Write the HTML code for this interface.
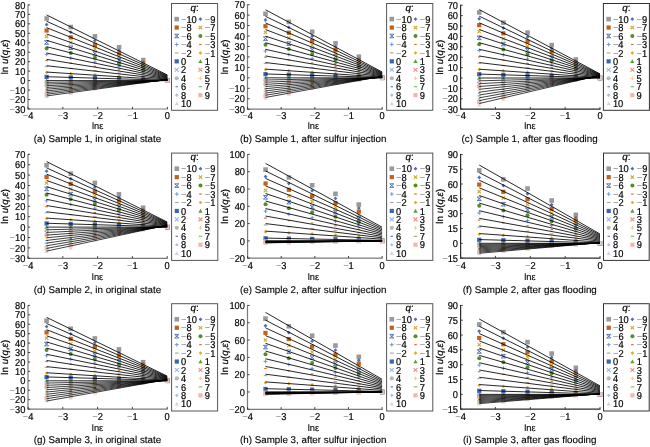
<!DOCTYPE html>
<html><head><meta charset="utf-8"><style>
html,body{margin:0;padding:0;background:#fff;}
svg{display:block;will-change:transform;}
</style></head><body>
<svg width="650" height="447" viewBox="0 0 650 447" font-family='"Liberation Sans", Arial, sans-serif' text-rendering="geometricPrecision">
<rect width="650" height="447" fill="#fff"/>
<g><rect x="44.32" y="16.23" width="4.60" height="4.60" fill="#999999"/><rect x="68.48" y="24.73" width="4.60" height="4.60" fill="#999999"/><rect x="92.63" y="34.05" width="4.60" height="4.60" fill="#999999"/><rect x="116.79" y="44.97" width="4.60" height="4.60" fill="#999999"/><rect x="140.94" y="57.76" width="4.60" height="4.60" fill="#999999"/><rect x="165.10" y="78.31" width="4.60" height="4.60" fill="#999999"/><path d="M46.62 22.63L48.52 24.53L46.62 26.43L44.72 24.53Z" fill="#4a70b8"/><path d="M70.78 30.31L72.68 32.21L70.78 34.11L68.88 32.21Z" fill="#4a70b8"/><path d="M94.93 38.72L96.83 40.62L94.93 42.52L93.03 40.62Z" fill="#4a70b8"/><path d="M119.09 48.59L120.99 50.49L119.09 52.39L117.19 50.49Z" fill="#4a70b8"/><path d="M143.24 60.15L145.14 62.05L143.24 63.95L141.34 62.05Z" fill="#4a70b8"/><path d="M167.40 78.71L169.30 80.61L167.40 82.51L165.50 80.61Z" fill="#4a70b8"/><rect x="44.52" y="28.43" width="4.20" height="4.20" fill="#c0621c"/><rect x="68.68" y="35.29" width="4.20" height="4.20" fill="#c0621c"/><rect x="92.83" y="42.80" width="4.20" height="4.20" fill="#c0621c"/><rect x="116.99" y="51.62" width="4.20" height="4.20" fill="#c0621c"/><rect x="141.14" y="61.93" width="4.20" height="4.20" fill="#c0621c"/><rect x="165.30" y="78.51" width="4.20" height="4.20" fill="#c0621c"/><path d="M44.92 34.83L48.32 38.23M48.32 34.83L44.92 38.23" stroke="#d4a52a" stroke-width="1.1" fill="none"/><path d="M69.08 40.87L72.48 44.27M72.48 40.87L69.08 44.27" stroke="#d4a52a" stroke-width="1.1" fill="none"/><path d="M93.23 47.48L96.63 50.88M96.63 47.48L93.23 50.88" stroke="#d4a52a" stroke-width="1.1" fill="none"/><path d="M117.39 55.24L120.79 58.64M120.79 55.24L117.39 58.64" stroke="#d4a52a" stroke-width="1.1" fill="none"/><path d="M141.54 64.32L144.94 67.72M144.94 64.32L141.54 67.72" stroke="#d4a52a" stroke-width="1.1" fill="none"/><path d="M165.70 78.91L169.10 82.31M169.10 78.91L165.70 82.31" stroke="#d4a52a" stroke-width="1.1" fill="none"/><path d="M44.52 40.74L48.72 44.31M48.72 40.74L44.52 44.31M44.52 40.74H48.72M44.52 44.31H48.72" stroke="#3a5aa8" stroke-width="0.8" fill="none"/><path d="M68.68 45.96L72.88 49.53M72.88 45.96L68.68 49.53M68.68 45.96H72.88M68.68 49.53H72.88" stroke="#3a5aa8" stroke-width="0.8" fill="none"/><path d="M92.83 51.67L97.03 55.24M97.03 51.67L92.83 55.24M92.83 51.67H97.03M92.83 55.24H97.03" stroke="#3a5aa8" stroke-width="0.8" fill="none"/><path d="M116.99 58.37L121.19 61.94M121.19 58.37L116.99 61.94M116.99 58.37H121.19M116.99 61.94H121.19" stroke="#3a5aa8" stroke-width="0.8" fill="none"/><path d="M141.14 66.22L145.34 69.79M145.34 66.22L141.14 69.79M141.14 66.22H145.34M141.14 69.79H145.34" stroke="#3a5aa8" stroke-width="0.8" fill="none"/><path d="M165.30 78.82L169.50 82.39M169.50 78.82L165.30 82.39M165.30 78.82H169.50M165.30 82.39H169.50" stroke="#3a5aa8" stroke-width="0.8" fill="none"/><circle cx="46.62" cy="48.53" r="2.00" fill="#5b8a2a"/><circle cx="70.78" cy="52.92" r="2.00" fill="#5b8a2a"/><circle cx="94.93" cy="57.73" r="2.00" fill="#5b8a2a"/><circle cx="119.09" cy="63.38" r="2.00" fill="#5b8a2a"/><circle cx="143.24" cy="69.99" r="2.00" fill="#5b8a2a"/><circle cx="167.40" cy="80.61" r="2.00" fill="#5b8a2a"/><path d="M44.72 54.53H48.52M46.62 52.63V56.43" stroke="#6f95d6" stroke-width="1" fill="none"/><path d="M68.88 58.10H72.68M70.78 56.20V60.00" stroke="#6f95d6" stroke-width="1" fill="none"/><path d="M93.03 62.01H96.83M94.93 60.11V63.91" stroke="#6f95d6" stroke-width="1" fill="none"/><path d="M117.19 66.60H120.99M119.09 64.70V68.50" stroke="#6f95d6" stroke-width="1" fill="none"/><path d="M141.34 71.98H145.14M143.24 70.08V73.88" stroke="#6f95d6" stroke-width="1" fill="none"/><path d="M165.50 80.61H169.30M167.40 78.71V82.51" stroke="#6f95d6" stroke-width="1" fill="none"/><path d="M45.32 60.53H47.92" stroke="#e0702a" stroke-width="1.2" fill="none"/><path d="M69.48 63.28H72.08" stroke="#e0702a" stroke-width="1.2" fill="none"/><path d="M93.63 66.29H96.23" stroke="#e0702a" stroke-width="1.2" fill="none"/><path d="M117.79 69.83H120.39" stroke="#e0702a" stroke-width="1.2" fill="none"/><path d="M141.94 73.96H144.54" stroke="#e0702a" stroke-width="1.2" fill="none"/><path d="M166.10 80.61H168.70" stroke="#e0702a" stroke-width="1.2" fill="none"/><path d="M44.82 66.53H48.42" stroke="#a8a8a8" stroke-width="1.2" fill="none"/><path d="M68.98 68.46H72.58" stroke="#a8a8a8" stroke-width="1.2" fill="none"/><path d="M93.13 70.57H96.73" stroke="#a8a8a8" stroke-width="1.2" fill="none"/><path d="M117.29 73.05H120.89" stroke="#a8a8a8" stroke-width="1.2" fill="none"/><path d="M141.44 75.95H145.04" stroke="#a8a8a8" stroke-width="1.2" fill="none"/><path d="M165.60 80.61H169.20" stroke="#a8a8a8" stroke-width="1.2" fill="none"/><path d="M46.62 70.73L48.42 72.53L46.62 74.33L44.82 72.53Z" fill="#eaa820"/><path d="M70.78 71.83L72.58 73.63L70.78 75.43L68.98 73.63Z" fill="#eaa820"/><path d="M94.93 73.05L96.73 74.85L94.93 76.65L93.13 74.85Z" fill="#eaa820"/><path d="M119.09 74.47L120.89 76.27L119.09 78.07L117.29 76.27Z" fill="#eaa820"/><path d="M143.24 76.13L145.04 77.93L143.24 79.73L141.44 77.93Z" fill="#eaa820"/><path d="M167.40 78.81L169.20 80.61L167.40 82.41L165.60 80.61Z" fill="#eaa820"/><rect x="44.52" y="74.82" width="4.20" height="4.20" fill="#3d64b0"/><rect x="68.68" y="75.32" width="4.20" height="4.20" fill="#3d64b0"/><rect x="92.83" y="75.88" width="4.20" height="4.20" fill="#3d64b0"/><rect x="116.99" y="76.53" width="4.20" height="4.20" fill="#3d64b0"/><rect x="141.14" y="77.29" width="4.20" height="4.20" fill="#3d64b0"/><rect x="165.30" y="78.51" width="4.20" height="4.20" fill="#3d64b0"/><path d="M46.62 78.51L48.72 82.29L44.52 82.29Z" fill="#5c9a3a"/><path d="M70.78 78.51L72.88 82.29L68.68 82.29Z" fill="#5c9a3a"/><path d="M94.93 78.51L97.03 82.29L92.83 82.29Z" fill="#5c9a3a"/><path d="M119.09 78.51L121.19 82.29L116.99 82.29Z" fill="#5c9a3a"/><path d="M143.24 78.51L145.34 82.29L141.14 82.29Z" fill="#5c9a3a"/><path d="M167.40 78.51L169.50 82.29L165.30 82.29Z" fill="#5c9a3a"/><path d="M44.72 80.44L48.52 84.24M48.52 80.44L44.72 84.24" stroke="#9ab8e0" stroke-width="1.1" fill="none"/><path d="M68.88 80.13L72.68 83.93M72.68 80.13L68.88 83.93" stroke="#9ab8e0" stroke-width="1.1" fill="none"/><path d="M93.03 79.63L96.83 83.43M96.83 79.63L93.03 83.43" stroke="#9ab8e0" stroke-width="1.1" fill="none"/><path d="M117.19 79.18L120.99 82.98M120.99 79.18L117.19 82.98" stroke="#9ab8e0" stroke-width="1.1" fill="none"/><path d="M141.34 78.88L145.14 82.68M145.14 78.88L141.34 82.68" stroke="#9ab8e0" stroke-width="1.1" fill="none"/><path d="M165.50 78.71L169.30 82.51M169.30 78.71L165.50 82.51" stroke="#9ab8e0" stroke-width="1.1" fill="none"/><path d="M44.72 82.18L48.52 85.98M48.52 82.18L44.72 85.98" stroke="#e8907a" stroke-width="1.1" fill="none"/><path d="M68.88 81.55L72.68 85.35M72.68 81.55L68.88 85.35" stroke="#e8907a" stroke-width="1.1" fill="none"/><path d="M93.03 80.55L96.83 84.35M96.83 80.55L93.03 84.35" stroke="#e8907a" stroke-width="1.1" fill="none"/><path d="M117.19 79.65L120.99 83.45M120.99 79.65L117.19 83.45" stroke="#e8907a" stroke-width="1.1" fill="none"/><path d="M141.34 79.06L145.14 82.86M145.14 79.06L141.34 82.86" stroke="#e8907a" stroke-width="1.1" fill="none"/><path d="M165.50 78.71L169.30 82.51M169.30 78.71L165.50 82.51" stroke="#e8907a" stroke-width="1.1" fill="none"/><circle cx="46.62" cy="85.81" r="2.10" fill="#b8b8b8"/><circle cx="70.78" cy="84.88" r="2.10" fill="#b8b8b8"/><circle cx="94.93" cy="83.37" r="2.10" fill="#b8b8b8"/><circle cx="119.09" cy="82.01" r="2.10" fill="#b8b8b8"/><circle cx="143.24" cy="81.13" r="2.10" fill="#b8b8b8"/><circle cx="167.40" cy="80.61" r="2.10" fill="#b8b8b8"/><path d="M44.82 87.55H48.42M46.62 85.75V89.35" stroke="#f7cc8a" stroke-width="1" fill="none"/><path d="M68.98 86.30H72.58M70.78 84.50V88.10" stroke="#f7cc8a" stroke-width="1" fill="none"/><path d="M93.13 84.29H96.73M94.93 82.49V86.09" stroke="#f7cc8a" stroke-width="1" fill="none"/><path d="M117.29 82.48H120.89M119.09 80.68V84.28" stroke="#f7cc8a" stroke-width="1" fill="none"/><path d="M141.44 81.30H145.04M143.24 79.50V83.10" stroke="#f7cc8a" stroke-width="1" fill="none"/><path d="M165.60 80.61H169.20M167.40 78.81V82.41" stroke="#f7cc8a" stroke-width="1" fill="none"/><path d="M45.42 89.28H47.82" stroke="#5a7ec8" stroke-width="1.2" fill="none"/><path d="M69.58 87.72H71.98" stroke="#5a7ec8" stroke-width="1.2" fill="none"/><path d="M93.73 85.21H96.13" stroke="#5a7ec8" stroke-width="1.2" fill="none"/><path d="M117.89 82.95H120.29" stroke="#5a7ec8" stroke-width="1.2" fill="none"/><path d="M142.04 81.48H144.44" stroke="#5a7ec8" stroke-width="1.2" fill="none"/><path d="M166.20 80.61H168.60" stroke="#5a7ec8" stroke-width="1.2" fill="none"/><path d="M44.82 91.02H48.42" stroke="#8cc070" stroke-width="1.2" fill="none"/><path d="M68.98 89.15H72.58" stroke="#8cc070" stroke-width="1.2" fill="none"/><path d="M93.13 86.13H96.73" stroke="#8cc070" stroke-width="1.2" fill="none"/><path d="M117.29 83.42H120.89" stroke="#8cc070" stroke-width="1.2" fill="none"/><path d="M141.44 81.65H145.04" stroke="#8cc070" stroke-width="1.2" fill="none"/><path d="M165.60 80.61H169.20" stroke="#8cc070" stroke-width="1.2" fill="none"/><path d="M46.62 90.95L48.42 92.75L46.62 94.55L44.82 92.75Z" fill="#aabfe6"/><path d="M70.78 88.77L72.58 90.57L70.78 92.37L68.98 90.57Z" fill="#aabfe6"/><path d="M94.93 85.25L96.73 87.05L94.93 88.85L93.13 87.05Z" fill="#aabfe6"/><path d="M119.09 82.09L120.89 83.89L119.09 85.69L117.29 83.89Z" fill="#aabfe6"/><path d="M143.24 80.02L145.04 81.82L143.24 83.62L141.44 81.82Z" fill="#aabfe6"/><path d="M167.40 78.81L169.20 80.61L167.40 82.41L165.60 80.61Z" fill="#aabfe6"/><rect x="44.52" y="92.39" width="4.20" height="4.20" fill="#f0b8a8"/><rect x="68.68" y="89.89" width="4.20" height="4.20" fill="#f0b8a8"/><rect x="92.83" y="85.87" width="4.20" height="4.20" fill="#f0b8a8"/><rect x="116.99" y="82.26" width="4.20" height="4.20" fill="#f0b8a8"/><rect x="141.14" y="79.90" width="4.20" height="4.20" fill="#f0b8a8"/><rect x="165.30" y="78.51" width="4.20" height="4.20" fill="#f0b8a8"/><path d="M46.62 94.12L48.72 97.90L44.52 97.90Z" fill="#d6d6d6"/><path d="M70.78 91.31L72.88 95.09L68.68 95.09Z" fill="#d6d6d6"/><path d="M94.93 86.79L97.03 90.57L92.83 90.57Z" fill="#d6d6d6"/><path d="M119.09 82.73L121.19 86.51L116.99 86.51Z" fill="#d6d6d6"/><path d="M143.24 80.07L145.34 83.85L141.14 83.85Z" fill="#d6d6d6"/><path d="M167.40 78.51L169.50 82.29L165.30 82.29Z" fill="#d6d6d6"/></g>
<path d="M46.62 14.94L167.40 75.00M46.62 21.29L167.40 75.55M46.62 27.64L167.40 76.09M46.62 33.98L167.40 76.63M46.62 40.33L167.40 77.17M46.62 46.68L167.40 77.71M46.62 53.02L167.40 78.25M46.62 59.37L167.40 78.80M46.62 65.71L167.40 79.34M46.62 72.06L167.40 79.88M46.62 76.71L167.40 80.28M46.62 80.61L167.40 80.61" stroke="#000" stroke-width="0.85" fill="none"/>
<path d="M46.62 82.32L167.40 80.48M46.62 84.02L167.40 80.34M46.62 85.73L167.40 80.21M46.62 87.43L167.40 80.08M46.62 89.14L167.40 79.94M46.62 90.85L167.40 79.81M46.62 92.55L167.40 79.68M46.62 94.26L167.40 79.54M46.62 95.96L167.40 79.41" stroke="#000" stroke-width="0.75" fill="none"/>
<path d="M28.00 4.40V109.00H167.90" stroke="#7a7a7a" stroke-width="1.2" fill="none"/>
<path d="M28.00 4.90h2.2M28.00 14.36h2.2M28.00 23.83h2.2M28.00 33.29h2.2M28.00 42.75h2.2M28.00 52.22h2.2M28.00 61.68h2.2M28.00 71.15h2.2M28.00 80.61h2.2M28.00 90.07h2.2M28.00 99.54h2.2M28.00 109.00h2.2M28.00 109.00v-2.2M62.85 109.00v-2.2M97.70 109.00v-2.2M132.55 109.00v-2.2M167.40 109.00v-2.2" stroke="#333" stroke-width="0.9" fill="none"/>
<g font-size="9.3" fill="#000" stroke="#000" stroke-width="0.2"><text transform="translate(25.40 8.50) scale(0.93 1.0)" font-size="10.0" text-anchor="end">80</text><text transform="translate(25.40 17.96) scale(0.93 1.0)" font-size="10.0" text-anchor="end">70</text><text transform="translate(25.40 27.43) scale(0.93 1.0)" font-size="10.0" text-anchor="end">60</text><text transform="translate(25.40 36.89) scale(0.93 1.0)" font-size="10.0" text-anchor="end">50</text><text transform="translate(25.40 46.35) scale(0.93 1.0)" font-size="10.0" text-anchor="end">40</text><text transform="translate(25.40 55.82) scale(0.93 1.0)" font-size="10.0" text-anchor="end">30</text><text transform="translate(25.40 65.28) scale(0.93 1.0)" font-size="10.0" text-anchor="end">20</text><text transform="translate(25.40 74.75) scale(0.93 1.0)" font-size="10.0" text-anchor="end">10</text><text transform="translate(25.40 84.21) scale(0.93 1.0)" font-size="10.0" text-anchor="end">0</text><text transform="translate(25.40 93.67) scale(0.93 1.0)" font-size="10.0" text-anchor="end"><tspan fill="#888" stroke="none">−</tspan>10</text><text transform="translate(25.40 103.14) scale(0.93 1.0)" font-size="10.0" text-anchor="end"><tspan fill="#888" stroke="none">−</tspan>20</text><text transform="translate(25.40 112.60) scale(0.93 1.0)" font-size="10.0" text-anchor="end"><tspan fill="#888" stroke="none">−</tspan>30</text><text transform="translate(28.00 118.70) scale(0.93 1.0)" font-size="10.0" text-anchor="middle"><tspan fill="#888" stroke="none">−</tspan>4</text><text transform="translate(62.85 118.70) scale(0.93 1.0)" font-size="10.0" text-anchor="middle"><tspan fill="#888" stroke="none">−</tspan>3</text><text transform="translate(97.70 118.70) scale(0.93 1.0)" font-size="10.0" text-anchor="middle"><tspan fill="#888" stroke="none">−</tspan>2</text><text transform="translate(132.55 118.70) scale(0.93 1.0)" font-size="10.0" text-anchor="middle"><tspan fill="#888" stroke="none">−</tspan>1</text><text transform="translate(167.40 118.70) scale(0.93 1.0)" font-size="10.0" text-anchor="middle">0</text></g>
<text x="97.65" y="128.80" font-size="9.3" text-anchor="middle" fill="#000" stroke="#000" stroke-width="0.12">lnε</text>
<text transform="translate(7.50 56.95) rotate(-90)" font-size="9.8" text-anchor="middle" fill="#000" stroke="#000" stroke-width="0.18">ln <tspan font-style="italic">u</tspan>(<tspan font-style="italic">q</tspan>,<tspan font-style="italic">ε</tspan>)</text>
<rect x="171.50" y="3.50" width="46.10" height="106.80" fill="#fff" stroke="#555" stroke-width="1"/>
<g><rect x="174.40" y="16.80" width="4.60" height="4.60" fill="#999999"/><path d="M200.40 17.20L202.30 19.10L200.40 21.00L198.50 19.10Z" fill="#4a70b8"/><rect x="174.60" y="25.45" width="4.20" height="4.20" fill="#c0621c"/><path d="M198.70 25.85L202.10 29.25M202.10 25.85L198.70 29.25" stroke="#d4a52a" stroke-width="1.1" fill="none"/><path d="M174.60 34.22L178.80 37.78M178.80 34.22L174.60 37.78M174.60 34.22H178.80M174.60 37.78H178.80" stroke="#3a5aa8" stroke-width="0.8" fill="none"/><circle cx="200.40" cy="36.00" r="2.00" fill="#5b8a2a"/><path d="M174.80 44.45H178.60M176.70 42.55V46.35" stroke="#6f95d6" stroke-width="1" fill="none"/><path d="M199.10 44.45H201.70" stroke="#e0702a" stroke-width="1.2" fill="none"/><path d="M174.90 52.90H178.50" stroke="#a8a8a8" stroke-width="1.2" fill="none"/><path d="M200.40 51.10L202.20 52.90L200.40 54.70L198.60 52.90Z" fill="#eaa820"/><rect x="174.60" y="59.25" width="4.20" height="4.20" fill="#3d64b0"/><path d="M200.40 59.25L202.50 63.03L198.30 63.03Z" fill="#5c9a3a"/><path d="M174.80 67.90L178.60 71.70M178.60 67.90L174.80 71.70" stroke="#9ab8e0" stroke-width="1.1" fill="none"/><path d="M198.50 67.90L202.30 71.70M202.30 67.90L198.50 71.70" stroke="#e8907a" stroke-width="1.1" fill="none"/><circle cx="176.70" cy="78.25" r="2.10" fill="#b8b8b8"/><path d="M198.60 78.25H202.20M200.40 76.45V80.05" stroke="#f7cc8a" stroke-width="1" fill="none"/><path d="M175.50 86.70H177.90" stroke="#5a7ec8" stroke-width="1.2" fill="none"/><path d="M198.60 86.70H202.20" stroke="#8cc070" stroke-width="1.2" fill="none"/><path d="M176.70 93.35L178.50 95.15L176.70 96.95L174.90 95.15Z" fill="#aabfe6"/><rect x="198.30" y="93.05" width="4.20" height="4.20" fill="#f0b8a8"/><path d="M176.70 101.50L178.80 105.28L174.60 105.28Z" fill="#d6d6d6"/></g>
<g font-size="9.3" fill="#000" stroke="#000" stroke-width="0.2"><text x="194.55" y="10.80" font-size="9.8" text-anchor="middle"><tspan font-style="italic">q</tspan>:</text><text transform="translate(181.00 22.70) scale(0.93 1.0)" font-size="10.0"><tspan fill="#888" stroke="none">−</tspan>10</text><text transform="translate(204.70 22.70) scale(0.93 1.0)" font-size="10.0"><tspan fill="#888" stroke="none">−</tspan>9</text><text transform="translate(181.00 31.15) scale(0.93 1.0)" font-size="10.0"><tspan fill="#888" stroke="none">−</tspan>8</text><text transform="translate(204.70 31.15) scale(0.93 1.0)" font-size="10.0"><tspan fill="#888" stroke="none">−</tspan>7</text><text transform="translate(181.00 39.60) scale(0.93 1.0)" font-size="10.0"><tspan fill="#888" stroke="none">−</tspan>6</text><text transform="translate(204.70 39.60) scale(0.93 1.0)" font-size="10.0"><tspan fill="#888" stroke="none">−</tspan>5</text><text transform="translate(181.00 48.05) scale(0.93 1.0)" font-size="10.0"><tspan fill="#888" stroke="none">−</tspan>4</text><text transform="translate(204.70 48.05) scale(0.93 1.0)" font-size="10.0"><tspan fill="#888" stroke="none">−</tspan>3</text><text transform="translate(181.00 56.50) scale(0.93 1.0)" font-size="10.0"><tspan fill="#888" stroke="none">−</tspan>2</text><text transform="translate(204.70 56.50) scale(0.93 1.0)" font-size="10.0"><tspan fill="#888" stroke="none">−</tspan>1</text><text transform="translate(181.00 64.95) scale(0.93 1.0)" font-size="10.0">0</text><text transform="translate(204.70 64.95) scale(0.93 1.0)" font-size="10.0">1</text><text transform="translate(181.00 73.40) scale(0.93 1.0)" font-size="10.0">2</text><text transform="translate(204.70 73.40) scale(0.93 1.0)" font-size="10.0">3</text><text transform="translate(181.00 81.85) scale(0.93 1.0)" font-size="10.0">4</text><text transform="translate(204.70 81.85) scale(0.93 1.0)" font-size="10.0">5</text><text transform="translate(181.00 90.30) scale(0.93 1.0)" font-size="10.0">6</text><text transform="translate(204.70 90.30) scale(0.93 1.0)" font-size="10.0">7</text><text transform="translate(181.00 98.75) scale(0.93 1.0)" font-size="10.0">8</text><text transform="translate(204.70 98.75) scale(0.93 1.0)" font-size="10.0">9</text><text transform="translate(181.00 107.20) scale(0.93 1.0)" font-size="10.0">10</text></g>
<text x="97.50" y="141.70" font-size="9.8" text-anchor="middle" fill="#000" stroke="#000" stroke-width="0.12">(a) Sample 1, in original state</text>
<g><rect x="263.19" y="11.49" width="4.60" height="4.60" fill="#999999"/><rect x="286.53" y="19.63" width="4.60" height="4.60" fill="#999999"/><rect x="309.87" y="29.49" width="4.60" height="4.60" fill="#999999"/><rect x="333.22" y="40.96" width="4.60" height="4.60" fill="#999999"/><rect x="356.56" y="54.41" width="4.60" height="4.60" fill="#999999"/><rect x="379.90" y="75.55" width="4.60" height="4.60" fill="#999999"/><path d="M265.49 18.10L267.39 20.00L265.49 21.90L263.59 20.00Z" fill="#4a70b8"/><path d="M288.83 25.45L290.73 27.35L288.83 29.25L286.93 27.35Z" fill="#4a70b8"/><path d="M312.17 34.35L314.07 36.25L312.17 38.15L310.27 36.25Z" fill="#4a70b8"/><path d="M335.52 44.71L337.42 46.61L335.52 48.51L333.62 46.61Z" fill="#4a70b8"/><path d="M358.86 56.86L360.76 58.76L358.86 60.66L356.96 58.76Z" fill="#4a70b8"/><path d="M382.20 75.95L384.10 77.85L382.20 79.75L380.30 77.85Z" fill="#4a70b8"/><rect x="263.39" y="24.11" width="4.20" height="4.20" fill="#c0621c"/><rect x="286.73" y="30.66" width="4.20" height="4.20" fill="#c0621c"/><rect x="310.07" y="38.62" width="4.20" height="4.20" fill="#c0621c"/><rect x="333.42" y="47.86" width="4.20" height="4.20" fill="#c0621c"/><rect x="356.76" y="58.71" width="4.20" height="4.20" fill="#c0621c"/><rect x="380.10" y="75.75" width="4.20" height="4.20" fill="#c0621c"/><path d="M263.79 30.71L267.19 34.11M267.19 30.71L263.79 34.11" stroke="#d4a52a" stroke-width="1.1" fill="none"/><path d="M287.13 36.48L290.53 39.88M290.53 36.48L287.13 39.88" stroke="#d4a52a" stroke-width="1.1" fill="none"/><path d="M310.47 43.48L313.87 46.88M313.87 43.48L310.47 46.88" stroke="#d4a52a" stroke-width="1.1" fill="none"/><path d="M333.82 51.61L337.22 55.01M337.22 51.61L333.82 55.01" stroke="#d4a52a" stroke-width="1.1" fill="none"/><path d="M357.16 61.16L360.56 64.56M360.56 61.16L357.16 64.56" stroke="#d4a52a" stroke-width="1.1" fill="none"/><path d="M380.50 76.15L383.90 79.55M383.90 76.15L380.50 79.55" stroke="#d4a52a" stroke-width="1.1" fill="none"/><path d="M263.39 36.84L267.59 40.41M267.59 36.84L263.39 40.41M263.39 36.84H267.59M263.39 40.41H267.59" stroke="#3a5aa8" stroke-width="0.8" fill="none"/><path d="M286.73 41.82L290.93 45.39M290.93 41.82L286.73 45.39M286.73 41.82H290.93M286.73 45.39H290.93" stroke="#3a5aa8" stroke-width="0.8" fill="none"/><path d="M310.07 47.86L314.27 51.43M314.27 47.86L310.07 51.43M310.07 47.86H314.27M310.07 51.43H314.27" stroke="#3a5aa8" stroke-width="0.8" fill="none"/><path d="M333.42 54.88L337.62 58.45M337.62 54.88L333.42 58.45M333.42 54.88H337.62M333.42 58.45H337.62" stroke="#3a5aa8" stroke-width="0.8" fill="none"/><path d="M356.76 63.12L360.96 66.69M360.96 63.12L356.76 66.69M356.76 63.12H360.96M356.76 66.69H360.96" stroke="#3a5aa8" stroke-width="0.8" fill="none"/><path d="M380.10 76.07L384.30 79.64M384.30 76.07L380.10 79.64M380.10 76.07H384.30M380.10 79.64H384.30" stroke="#3a5aa8" stroke-width="0.8" fill="none"/><circle cx="265.49" cy="44.83" r="2.00" fill="#5b8a2a"/><circle cx="288.83" cy="49.02" r="2.00" fill="#5b8a2a"/><circle cx="312.17" cy="54.11" r="2.00" fill="#5b8a2a"/><circle cx="335.52" cy="60.02" r="2.00" fill="#5b8a2a"/><circle cx="358.86" cy="66.95" r="2.00" fill="#5b8a2a"/><circle cx="382.20" cy="77.85" r="2.00" fill="#5b8a2a"/><path d="M263.59 51.04H267.39M265.49 49.14V52.94" stroke="#6f95d6" stroke-width="1" fill="none"/><path d="M286.93 54.44H290.73M288.83 52.54V56.34" stroke="#6f95d6" stroke-width="1" fill="none"/><path d="M310.27 58.57H314.07M312.17 56.67V60.47" stroke="#6f95d6" stroke-width="1" fill="none"/><path d="M333.62 63.37H337.42M335.52 61.47V65.27" stroke="#6f95d6" stroke-width="1" fill="none"/><path d="M356.96 69.00H360.76M358.86 67.10V70.90" stroke="#6f95d6" stroke-width="1" fill="none"/><path d="M380.30 77.85H384.10M382.20 75.95V79.75" stroke="#6f95d6" stroke-width="1" fill="none"/><path d="M264.19 57.24H266.79" stroke="#e0702a" stroke-width="1.2" fill="none"/><path d="M287.53 59.86H290.13" stroke="#e0702a" stroke-width="1.2" fill="none"/><path d="M310.87 63.03H313.47" stroke="#e0702a" stroke-width="1.2" fill="none"/><path d="M334.22 66.72H336.82" stroke="#e0702a" stroke-width="1.2" fill="none"/><path d="M357.56 71.05H360.16" stroke="#e0702a" stroke-width="1.2" fill="none"/><path d="M380.90 77.85H383.50" stroke="#e0702a" stroke-width="1.2" fill="none"/><path d="M263.69 63.45H267.29" stroke="#a8a8a8" stroke-width="1.2" fill="none"/><path d="M287.03 65.28H290.63" stroke="#a8a8a8" stroke-width="1.2" fill="none"/><path d="M310.37 67.50H313.97" stroke="#a8a8a8" stroke-width="1.2" fill="none"/><path d="M333.72 70.07H337.32" stroke="#a8a8a8" stroke-width="1.2" fill="none"/><path d="M357.06 73.10H360.66" stroke="#a8a8a8" stroke-width="1.2" fill="none"/><path d="M380.40 77.85H384.00" stroke="#a8a8a8" stroke-width="1.2" fill="none"/><path d="M265.49 67.86L267.29 69.66L265.49 71.46L263.69 69.66Z" fill="#eaa820"/><path d="M288.83 68.90L290.63 70.70L288.83 72.50L287.03 70.70Z" fill="#eaa820"/><path d="M312.17 70.16L313.97 71.96L312.17 73.76L310.37 71.96Z" fill="#eaa820"/><path d="M335.52 71.63L337.32 73.43L335.52 75.23L333.72 73.43Z" fill="#eaa820"/><path d="M358.86 73.35L360.66 75.15L358.86 76.95L357.06 75.15Z" fill="#eaa820"/><path d="M382.20 76.05L384.00 77.85L382.20 79.65L380.40 77.85Z" fill="#eaa820"/><rect x="263.39" y="72.09" width="4.20" height="4.20" fill="#3d64b0"/><rect x="286.73" y="72.56" width="4.20" height="4.20" fill="#3d64b0"/><rect x="310.07" y="73.12" width="4.20" height="4.20" fill="#3d64b0"/><rect x="333.42" y="73.77" width="4.20" height="4.20" fill="#3d64b0"/><rect x="356.76" y="74.54" width="4.20" height="4.20" fill="#3d64b0"/><rect x="380.10" y="75.75" width="4.20" height="4.20" fill="#3d64b0"/><path d="M265.49 75.75L267.59 79.53L263.39 79.53Z" fill="#5c9a3a"/><path d="M288.83 75.75L290.93 79.53L286.73 79.53Z" fill="#5c9a3a"/><path d="M312.17 75.75L314.27 79.53L310.07 79.53Z" fill="#5c9a3a"/><path d="M335.52 75.75L337.62 79.53L333.42 79.53Z" fill="#5c9a3a"/><path d="M358.86 75.75L360.96 79.53L356.76 79.53Z" fill="#5c9a3a"/><path d="M382.20 75.75L384.30 79.53L380.10 79.53Z" fill="#5c9a3a"/><path d="M263.59 78.18L267.39 81.98M267.39 78.18L263.59 81.98" stroke="#9ab8e0" stroke-width="1.1" fill="none"/><path d="M286.93 77.76L290.73 81.56M290.73 77.76L286.93 81.56" stroke="#9ab8e0" stroke-width="1.1" fill="none"/><path d="M310.27 77.11L314.07 80.91M314.07 77.11L310.27 80.91" stroke="#9ab8e0" stroke-width="1.1" fill="none"/><path d="M333.62 76.53L337.42 80.33M337.42 76.53L333.62 80.33" stroke="#9ab8e0" stroke-width="1.1" fill="none"/><path d="M356.96 76.17L360.76 79.97M360.76 76.17L356.96 79.97" stroke="#9ab8e0" stroke-width="1.1" fill="none"/><path d="M380.30 75.95L384.10 79.75M384.10 75.95L380.30 79.75" stroke="#9ab8e0" stroke-width="1.1" fill="none"/><path d="M263.59 80.41L267.39 84.21M267.39 80.41L263.59 84.21" stroke="#e8907a" stroke-width="1.1" fill="none"/><path d="M286.93 79.56L290.73 83.36M290.73 79.56L286.93 83.36" stroke="#e8907a" stroke-width="1.1" fill="none"/><path d="M310.27 78.27L314.07 82.07M314.07 78.27L310.27 82.07" stroke="#e8907a" stroke-width="1.1" fill="none"/><path d="M333.62 77.11L337.42 80.91M337.42 77.11L333.62 80.91" stroke="#e8907a" stroke-width="1.1" fill="none"/><path d="M356.96 76.40L360.76 80.20M360.76 76.40L356.96 80.20" stroke="#e8907a" stroke-width="1.1" fill="none"/><path d="M380.30 75.95L384.10 79.75M384.10 75.95L380.30 79.75" stroke="#e8907a" stroke-width="1.1" fill="none"/><circle cx="265.49" cy="84.54" r="2.10" fill="#b8b8b8"/><circle cx="288.83" cy="83.27" r="2.10" fill="#b8b8b8"/><circle cx="312.17" cy="81.33" r="2.10" fill="#b8b8b8"/><circle cx="335.52" cy="79.59" r="2.10" fill="#b8b8b8"/><circle cx="358.86" cy="78.52" r="2.10" fill="#b8b8b8"/><circle cx="382.20" cy="77.85" r="2.10" fill="#b8b8b8"/><path d="M263.69 86.77H267.29M265.49 84.97V88.57" stroke="#f7cc8a" stroke-width="1" fill="none"/><path d="M287.03 85.07H290.63M288.83 83.27V86.87" stroke="#f7cc8a" stroke-width="1" fill="none"/><path d="M310.37 82.49H313.97M312.17 80.69V84.29" stroke="#f7cc8a" stroke-width="1" fill="none"/><path d="M333.72 80.17H337.32M335.52 78.37V81.97" stroke="#f7cc8a" stroke-width="1" fill="none"/><path d="M357.06 78.74H360.66M358.86 76.94V80.54" stroke="#f7cc8a" stroke-width="1" fill="none"/><path d="M380.40 77.85H384.00M382.20 76.05V79.65" stroke="#f7cc8a" stroke-width="1" fill="none"/><path d="M264.29 89.00H266.69" stroke="#5a7ec8" stroke-width="1.2" fill="none"/><path d="M287.63 86.88H290.03" stroke="#5a7ec8" stroke-width="1.2" fill="none"/><path d="M310.97 83.65H313.37" stroke="#5a7ec8" stroke-width="1.2" fill="none"/><path d="M334.32 80.75H336.72" stroke="#5a7ec8" stroke-width="1.2" fill="none"/><path d="M357.66 78.96H360.06" stroke="#5a7ec8" stroke-width="1.2" fill="none"/><path d="M381.00 77.85H383.40" stroke="#5a7ec8" stroke-width="1.2" fill="none"/><path d="M263.69 91.23H267.29" stroke="#8cc070" stroke-width="1.2" fill="none"/><path d="M287.03 88.68H290.63" stroke="#8cc070" stroke-width="1.2" fill="none"/><path d="M310.37 84.81H313.97" stroke="#8cc070" stroke-width="1.2" fill="none"/><path d="M333.72 81.33H337.32" stroke="#8cc070" stroke-width="1.2" fill="none"/><path d="M357.06 79.19H360.66" stroke="#8cc070" stroke-width="1.2" fill="none"/><path d="M380.40 77.85H384.00" stroke="#8cc070" stroke-width="1.2" fill="none"/><path d="M265.49 91.66L267.29 93.46L265.49 95.26L263.69 93.46Z" fill="#aabfe6"/><path d="M288.83 88.69L290.63 90.49L288.83 92.29L287.03 90.49Z" fill="#aabfe6"/><path d="M312.17 84.16L313.97 85.96L312.17 87.76L310.37 85.96Z" fill="#aabfe6"/><path d="M335.52 80.11L337.32 81.91L335.52 83.71L333.72 81.91Z" fill="#aabfe6"/><path d="M358.86 77.61L360.66 79.41L358.86 81.21L357.06 79.41Z" fill="#aabfe6"/><path d="M382.20 76.05L384.00 77.85L382.20 79.65L380.40 77.85Z" fill="#aabfe6"/><rect x="263.39" y="93.58" width="4.20" height="4.20" fill="#f0b8a8"/><rect x="286.73" y="90.20" width="4.20" height="4.20" fill="#f0b8a8"/><rect x="310.07" y="85.02" width="4.20" height="4.20" fill="#f0b8a8"/><rect x="333.42" y="80.39" width="4.20" height="4.20" fill="#f0b8a8"/><rect x="356.76" y="77.53" width="4.20" height="4.20" fill="#f0b8a8"/><rect x="380.10" y="75.75" width="4.20" height="4.20" fill="#f0b8a8"/><path d="M265.49 95.81L267.59 99.59L263.39 99.59Z" fill="#d6d6d6"/><path d="M288.83 92.00L290.93 95.78L286.73 95.78Z" fill="#d6d6d6"/><path d="M312.17 86.18L314.27 89.96L310.07 89.96Z" fill="#d6d6d6"/><path d="M335.52 80.97L337.62 84.75L333.42 84.75Z" fill="#d6d6d6"/><path d="M358.86 77.76L360.96 81.54L356.76 81.54Z" fill="#d6d6d6"/><path d="M382.20 75.75L384.30 79.53L380.10 79.53Z" fill="#d6d6d6"/></g>
<path d="M265.49 9.74L382.20 72.04M265.49 16.34L382.20 72.60M265.49 22.94L382.20 73.17M265.49 29.54L382.20 73.73M265.49 36.14L382.20 74.29M265.49 42.74L382.20 74.85M265.49 49.34L382.20 75.42M265.49 55.94L382.20 75.98M265.49 62.54L382.20 76.54M265.49 69.14L382.20 77.11M265.49 73.96L382.20 77.52M265.49 77.85L382.20 77.85" stroke="#000" stroke-width="0.85" fill="none"/>
<path d="M265.49 80.03L382.20 77.67M265.49 82.20L382.20 77.50M265.49 84.38L382.20 77.32M265.49 86.56L382.20 77.14M265.49 88.73L382.20 76.96M265.49 90.91L382.20 76.79M265.49 93.08L382.20 76.61M265.49 95.26L382.20 76.43M265.49 97.44L382.20 76.25" stroke="#000" stroke-width="0.75" fill="none"/>
<path d="M247.50 4.20V109.20H382.70" stroke="#7a7a7a" stroke-width="1.2" fill="none"/>
<path d="M247.50 4.70h2.2M247.50 15.15h2.2M247.50 25.60h2.2M247.50 36.05h2.2M247.50 46.50h2.2M247.50 56.95h2.2M247.50 67.40h2.2M247.50 77.85h2.2M247.50 88.30h2.2M247.50 98.75h2.2M247.50 109.20h2.2M247.50 109.20v-2.2M281.18 109.20v-2.2M314.85 109.20v-2.2M348.52 109.20v-2.2M382.20 109.20v-2.2" stroke="#333" stroke-width="0.9" fill="none"/>
<g font-size="9.3" fill="#000" stroke="#000" stroke-width="0.2"><text transform="translate(244.90 8.30) scale(0.93 1.0)" font-size="10.0" text-anchor="end">70</text><text transform="translate(244.90 18.75) scale(0.93 1.0)" font-size="10.0" text-anchor="end">60</text><text transform="translate(244.90 29.20) scale(0.93 1.0)" font-size="10.0" text-anchor="end">50</text><text transform="translate(244.90 39.65) scale(0.93 1.0)" font-size="10.0" text-anchor="end">40</text><text transform="translate(244.90 50.10) scale(0.93 1.0)" font-size="10.0" text-anchor="end">30</text><text transform="translate(244.90 60.55) scale(0.93 1.0)" font-size="10.0" text-anchor="end">20</text><text transform="translate(244.90 71.00) scale(0.93 1.0)" font-size="10.0" text-anchor="end">10</text><text transform="translate(244.90 81.45) scale(0.93 1.0)" font-size="10.0" text-anchor="end">0</text><text transform="translate(244.90 91.90) scale(0.93 1.0)" font-size="10.0" text-anchor="end"><tspan fill="#888" stroke="none">−</tspan>10</text><text transform="translate(244.90 102.35) scale(0.93 1.0)" font-size="10.0" text-anchor="end"><tspan fill="#888" stroke="none">−</tspan>20</text><text transform="translate(244.90 112.80) scale(0.93 1.0)" font-size="10.0" text-anchor="end"><tspan fill="#888" stroke="none">−</tspan>30</text><text transform="translate(247.50 118.90) scale(0.93 1.0)" font-size="10.0" text-anchor="middle"><tspan fill="#888" stroke="none">−</tspan>4</text><text transform="translate(281.18 118.90) scale(0.93 1.0)" font-size="10.0" text-anchor="middle"><tspan fill="#888" stroke="none">−</tspan>3</text><text transform="translate(314.85 118.90) scale(0.93 1.0)" font-size="10.0" text-anchor="middle"><tspan fill="#888" stroke="none">−</tspan>2</text><text transform="translate(348.52 118.90) scale(0.93 1.0)" font-size="10.0" text-anchor="middle"><tspan fill="#888" stroke="none">−</tspan>1</text><text transform="translate(382.20 118.90) scale(0.93 1.0)" font-size="10.0" text-anchor="middle">0</text></g>
<text x="313.45" y="129.00" font-size="9.3" text-anchor="middle" fill="#000" stroke="#000" stroke-width="0.12">lnε</text>
<text transform="translate(228.00 56.95) rotate(-90)" font-size="9.8" text-anchor="middle" fill="#000" stroke="#000" stroke-width="0.18">ln <tspan font-style="italic">u</tspan>(<tspan font-style="italic">q</tspan>,<tspan font-style="italic">ε</tspan>)</text>
<rect x="386.60" y="3.50" width="46.20" height="106.80" fill="#fff" stroke="#555" stroke-width="1"/>
<g><rect x="389.50" y="16.80" width="4.60" height="4.60" fill="#999999"/><path d="M415.50 17.20L417.40 19.10L415.50 21.00L413.60 19.10Z" fill="#4a70b8"/><rect x="389.70" y="25.45" width="4.20" height="4.20" fill="#c0621c"/><path d="M413.80 25.85L417.20 29.25M417.20 25.85L413.80 29.25" stroke="#d4a52a" stroke-width="1.1" fill="none"/><path d="M389.70 34.22L393.90 37.78M393.90 34.22L389.70 37.78M389.70 34.22H393.90M389.70 37.78H393.90" stroke="#3a5aa8" stroke-width="0.8" fill="none"/><circle cx="415.50" cy="36.00" r="2.00" fill="#5b8a2a"/><path d="M389.90 44.45H393.70M391.80 42.55V46.35" stroke="#6f95d6" stroke-width="1" fill="none"/><path d="M414.20 44.45H416.80" stroke="#e0702a" stroke-width="1.2" fill="none"/><path d="M390.00 52.90H393.60" stroke="#a8a8a8" stroke-width="1.2" fill="none"/><path d="M415.50 51.10L417.30 52.90L415.50 54.70L413.70 52.90Z" fill="#eaa820"/><rect x="389.70" y="59.25" width="4.20" height="4.20" fill="#3d64b0"/><path d="M415.50 59.25L417.60 63.03L413.40 63.03Z" fill="#5c9a3a"/><path d="M389.90 67.90L393.70 71.70M393.70 67.90L389.90 71.70" stroke="#9ab8e0" stroke-width="1.1" fill="none"/><path d="M413.60 67.90L417.40 71.70M417.40 67.90L413.60 71.70" stroke="#e8907a" stroke-width="1.1" fill="none"/><circle cx="391.80" cy="78.25" r="2.10" fill="#b8b8b8"/><path d="M413.70 78.25H417.30M415.50 76.45V80.05" stroke="#f7cc8a" stroke-width="1" fill="none"/><path d="M390.60 86.70H393.00" stroke="#5a7ec8" stroke-width="1.2" fill="none"/><path d="M413.70 86.70H417.30" stroke="#8cc070" stroke-width="1.2" fill="none"/><path d="M391.80 93.35L393.60 95.15L391.80 96.95L390.00 95.15Z" fill="#aabfe6"/><rect x="413.40" y="93.05" width="4.20" height="4.20" fill="#f0b8a8"/><path d="M391.80 101.50L393.90 105.28L389.70 105.28Z" fill="#d6d6d6"/></g>
<g font-size="9.3" fill="#000" stroke="#000" stroke-width="0.2"><text x="409.70" y="10.80" font-size="9.8" text-anchor="middle"><tspan font-style="italic">q</tspan>:</text><text transform="translate(396.10 22.70) scale(0.93 1.0)" font-size="10.0"><tspan fill="#888" stroke="none">−</tspan>10</text><text transform="translate(419.80 22.70) scale(0.93 1.0)" font-size="10.0"><tspan fill="#888" stroke="none">−</tspan>9</text><text transform="translate(396.10 31.15) scale(0.93 1.0)" font-size="10.0"><tspan fill="#888" stroke="none">−</tspan>8</text><text transform="translate(419.80 31.15) scale(0.93 1.0)" font-size="10.0"><tspan fill="#888" stroke="none">−</tspan>7</text><text transform="translate(396.10 39.60) scale(0.93 1.0)" font-size="10.0"><tspan fill="#888" stroke="none">−</tspan>6</text><text transform="translate(419.80 39.60) scale(0.93 1.0)" font-size="10.0"><tspan fill="#888" stroke="none">−</tspan>5</text><text transform="translate(396.10 48.05) scale(0.93 1.0)" font-size="10.0"><tspan fill="#888" stroke="none">−</tspan>4</text><text transform="translate(419.80 48.05) scale(0.93 1.0)" font-size="10.0"><tspan fill="#888" stroke="none">−</tspan>3</text><text transform="translate(396.10 56.50) scale(0.93 1.0)" font-size="10.0"><tspan fill="#888" stroke="none">−</tspan>2</text><text transform="translate(419.80 56.50) scale(0.93 1.0)" font-size="10.0"><tspan fill="#888" stroke="none">−</tspan>1</text><text transform="translate(396.10 64.95) scale(0.93 1.0)" font-size="10.0">0</text><text transform="translate(419.80 64.95) scale(0.93 1.0)" font-size="10.0">1</text><text transform="translate(396.10 73.40) scale(0.93 1.0)" font-size="10.0">2</text><text transform="translate(419.80 73.40) scale(0.93 1.0)" font-size="10.0">3</text><text transform="translate(396.10 81.85) scale(0.93 1.0)" font-size="10.0">4</text><text transform="translate(419.80 81.85) scale(0.93 1.0)" font-size="10.0">5</text><text transform="translate(396.10 90.30) scale(0.93 1.0)" font-size="10.0">6</text><text transform="translate(419.80 90.30) scale(0.93 1.0)" font-size="10.0">7</text><text transform="translate(396.10 98.75) scale(0.93 1.0)" font-size="10.0">8</text><text transform="translate(419.80 98.75) scale(0.93 1.0)" font-size="10.0">9</text><text transform="translate(396.10 107.20) scale(0.93 1.0)" font-size="10.0">10</text></g>
<text x="313.20" y="142.00" font-size="9.8" text-anchor="middle" fill="#000" stroke="#000" stroke-width="0.12">(b) Sample 1, after sulfur injection</text>
<g><rect x="476.92" y="10.18" width="4.60" height="4.60" fill="#999999"/><rect x="501.08" y="20.34" width="4.60" height="4.60" fill="#999999"/><rect x="525.23" y="30.36" width="4.60" height="4.60" fill="#999999"/><rect x="549.39" y="42.81" width="4.60" height="4.60" fill="#999999"/><rect x="573.54" y="57.16" width="4.60" height="4.60" fill="#999999"/><rect x="597.70" y="75.70" width="4.60" height="4.60" fill="#999999"/><path d="M479.22 16.92L481.12 18.82L479.22 20.72L477.32 18.82Z" fill="#4a70b8"/><path d="M503.38 26.10L505.28 28.00L503.38 29.90L501.48 28.00Z" fill="#4a70b8"/><path d="M527.53 35.15L529.43 37.05L527.53 38.95L525.63 37.05Z" fill="#4a70b8"/><path d="M551.69 46.39L553.59 48.29L551.69 50.19L549.79 48.29Z" fill="#4a70b8"/><path d="M575.84 59.35L577.74 61.25L575.84 63.15L573.94 61.25Z" fill="#4a70b8"/><path d="M600.00 76.10L601.90 78.00L600.00 79.90L598.10 78.00Z" fill="#4a70b8"/><rect x="477.12" y="23.07" width="4.20" height="4.20" fill="#c0621c"/><rect x="501.28" y="31.26" width="4.20" height="4.20" fill="#c0621c"/><rect x="525.43" y="39.34" width="4.20" height="4.20" fill="#c0621c"/><rect x="549.59" y="49.38" width="4.20" height="4.20" fill="#c0621c"/><rect x="573.74" y="60.95" width="4.20" height="4.20" fill="#c0621c"/><rect x="597.90" y="75.90" width="4.20" height="4.20" fill="#c0621c"/><path d="M477.52 29.81L480.92 33.21M480.92 29.81L477.52 33.21" stroke="#d4a52a" stroke-width="1.1" fill="none"/><path d="M501.68 37.02L505.08 40.42M505.08 37.02L501.68 40.42" stroke="#d4a52a" stroke-width="1.1" fill="none"/><path d="M525.83 44.13L529.23 47.53M529.23 44.13L525.83 47.53" stroke="#d4a52a" stroke-width="1.1" fill="none"/><path d="M549.99 52.96L553.39 56.36M553.39 52.96L549.99 56.36" stroke="#d4a52a" stroke-width="1.1" fill="none"/><path d="M574.14 63.14L577.54 66.54M577.54 63.14L574.14 66.54" stroke="#d4a52a" stroke-width="1.1" fill="none"/><path d="M598.30 76.30L601.70 79.70M601.70 76.30L598.30 79.70" stroke="#d4a52a" stroke-width="1.1" fill="none"/><path d="M477.12 36.07L481.32 39.64M481.32 36.07L477.12 39.64M477.12 36.07H481.32M477.12 39.64H481.32" stroke="#3a5aa8" stroke-width="0.8" fill="none"/><path d="M501.28 42.29L505.48 45.86M505.48 42.29L501.28 45.86M501.28 42.29H505.48M501.28 45.86H505.48" stroke="#3a5aa8" stroke-width="0.8" fill="none"/><path d="M525.43 48.44L529.63 52.01M529.63 48.44L525.43 52.01M525.43 48.44H529.63M525.43 52.01H529.63" stroke="#3a5aa8" stroke-width="0.8" fill="none"/><path d="M549.59 56.06L553.79 59.63M553.79 56.06L549.59 59.63M549.59 56.06H553.79M549.59 59.63H553.79" stroke="#3a5aa8" stroke-width="0.8" fill="none"/><path d="M573.74 64.85L577.94 68.42M577.94 64.85L573.74 68.42M573.74 64.85H577.94M573.74 68.42H577.94" stroke="#3a5aa8" stroke-width="0.8" fill="none"/><path d="M597.90 76.22L602.10 79.78M602.10 76.22L597.90 79.78M597.90 76.22H602.10M597.90 79.78H602.10" stroke="#3a5aa8" stroke-width="0.8" fill="none"/><circle cx="479.22" cy="44.20" r="2.00" fill="#5b8a2a"/><circle cx="503.38" cy="49.44" r="2.00" fill="#5b8a2a"/><circle cx="527.53" cy="54.61" r="2.00" fill="#5b8a2a"/><circle cx="551.69" cy="61.03" r="2.00" fill="#5b8a2a"/><circle cx="575.84" cy="68.43" r="2.00" fill="#5b8a2a"/><circle cx="600.00" cy="78.00" r="2.00" fill="#5b8a2a"/><path d="M477.32 50.54H481.12M479.22 48.64V52.44" stroke="#6f95d6" stroke-width="1" fill="none"/><path d="M501.48 54.80H505.28M503.38 52.90V56.70" stroke="#6f95d6" stroke-width="1" fill="none"/><path d="M525.63 59.00H529.43M527.53 57.10V60.90" stroke="#6f95d6" stroke-width="1" fill="none"/><path d="M549.79 64.22H553.59M551.69 62.32V66.12" stroke="#6f95d6" stroke-width="1" fill="none"/><path d="M573.94 70.23H577.74M575.84 68.33V72.13" stroke="#6f95d6" stroke-width="1" fill="none"/><path d="M598.10 78.00H601.90M600.00 76.10V79.90" stroke="#6f95d6" stroke-width="1" fill="none"/><path d="M477.92 56.89H480.52" stroke="#e0702a" stroke-width="1.2" fill="none"/><path d="M502.08 60.16H504.68" stroke="#e0702a" stroke-width="1.2" fill="none"/><path d="M526.23 63.39H528.83" stroke="#e0702a" stroke-width="1.2" fill="none"/><path d="M550.39 67.40H552.99" stroke="#e0702a" stroke-width="1.2" fill="none"/><path d="M574.54 72.03H577.14" stroke="#e0702a" stroke-width="1.2" fill="none"/><path d="M598.70 78.00H601.30" stroke="#e0702a" stroke-width="1.2" fill="none"/><path d="M477.42 63.23H481.02" stroke="#a8a8a8" stroke-width="1.2" fill="none"/><path d="M501.58 65.52H505.18" stroke="#a8a8a8" stroke-width="1.2" fill="none"/><path d="M525.73 67.78H529.33" stroke="#a8a8a8" stroke-width="1.2" fill="none"/><path d="M549.89 70.59H553.49" stroke="#a8a8a8" stroke-width="1.2" fill="none"/><path d="M574.04 73.82H577.64" stroke="#a8a8a8" stroke-width="1.2" fill="none"/><path d="M598.20 78.00H601.80" stroke="#a8a8a8" stroke-width="1.2" fill="none"/><path d="M479.22 67.78L481.02 69.58L479.22 71.38L477.42 69.58Z" fill="#eaa820"/><path d="M503.38 69.08L505.18 70.88L503.38 72.68L501.58 70.88Z" fill="#eaa820"/><path d="M527.53 70.37L529.33 72.17L527.53 73.97L525.73 72.17Z" fill="#eaa820"/><path d="M551.69 71.97L553.49 73.77L551.69 75.57L549.89 73.77Z" fill="#eaa820"/><path d="M575.84 73.82L577.64 75.62L575.84 77.42L574.04 75.62Z" fill="#eaa820"/><path d="M600.00 76.20L601.80 78.00L600.00 79.80L598.20 78.00Z" fill="#eaa820"/><rect x="477.12" y="72.16" width="4.20" height="4.20" fill="#3d64b0"/><rect x="501.28" y="72.74" width="4.20" height="4.20" fill="#3d64b0"/><rect x="525.43" y="73.31" width="4.20" height="4.20" fill="#3d64b0"/><rect x="549.59" y="74.02" width="4.20" height="4.20" fill="#3d64b0"/><rect x="573.74" y="74.84" width="4.20" height="4.20" fill="#3d64b0"/><rect x="597.90" y="75.90" width="4.20" height="4.20" fill="#3d64b0"/><path d="M479.22 75.90L481.32 79.68L477.12 79.68Z" fill="#5c9a3a"/><path d="M503.38 75.90L505.48 79.68L501.28 79.68Z" fill="#5c9a3a"/><path d="M527.53 75.90L529.63 79.68L525.43 79.68Z" fill="#5c9a3a"/><path d="M551.69 75.90L553.79 79.68L549.59 79.68Z" fill="#5c9a3a"/><path d="M575.84 75.90L577.94 79.68L573.74 79.68Z" fill="#5c9a3a"/><path d="M600.00 75.90L602.10 79.68L597.90 79.68Z" fill="#5c9a3a"/><path d="M477.32 79.09L481.12 82.89M481.12 79.09L477.32 82.89" stroke="#9ab8e0" stroke-width="1.1" fill="none"/><path d="M501.48 78.43L505.28 82.23M505.28 78.43L501.48 82.23" stroke="#9ab8e0" stroke-width="1.1" fill="none"/><path d="M525.63 77.48L529.43 81.28M529.43 77.48L525.63 81.28" stroke="#9ab8e0" stroke-width="1.1" fill="none"/><path d="M549.79 76.76L553.59 80.56M553.59 76.76L549.79 80.56" stroke="#9ab8e0" stroke-width="1.1" fill="none"/><path d="M573.94 76.34L577.74 80.14M577.74 76.34L573.94 80.14" stroke="#9ab8e0" stroke-width="1.1" fill="none"/><path d="M598.10 76.10L601.90 79.90M601.90 76.10L598.10 79.90" stroke="#9ab8e0" stroke-width="1.1" fill="none"/><path d="M477.32 82.09L481.12 85.89M481.12 82.09L477.32 85.89" stroke="#e8907a" stroke-width="1.1" fill="none"/><path d="M501.48 80.77L505.28 84.57M505.28 80.77L501.48 84.57" stroke="#e8907a" stroke-width="1.1" fill="none"/><path d="M525.63 78.85L529.43 82.65M529.43 78.85L525.63 82.65" stroke="#e8907a" stroke-width="1.1" fill="none"/><path d="M549.79 77.42L553.59 81.22M553.59 77.42L549.79 81.22" stroke="#e8907a" stroke-width="1.1" fill="none"/><path d="M573.94 76.58L577.74 80.38M577.74 76.58L573.94 80.38" stroke="#e8907a" stroke-width="1.1" fill="none"/><path d="M598.10 76.10L601.90 79.90M601.90 76.10L598.10 79.90" stroke="#e8907a" stroke-width="1.1" fill="none"/><circle cx="479.22" cy="86.98" r="2.10" fill="#b8b8b8"/><circle cx="503.38" cy="85.00" r="2.10" fill="#b8b8b8"/><circle cx="527.53" cy="82.13" r="2.10" fill="#b8b8b8"/><circle cx="551.69" cy="79.98" r="2.10" fill="#b8b8b8"/><circle cx="575.84" cy="78.72" r="2.10" fill="#b8b8b8"/><circle cx="600.00" cy="78.00" r="2.10" fill="#b8b8b8"/><path d="M477.42 89.97H481.02M479.22 88.17V91.77" stroke="#f7cc8a" stroke-width="1" fill="none"/><path d="M501.58 87.34H505.18M503.38 85.54V89.14" stroke="#f7cc8a" stroke-width="1" fill="none"/><path d="M525.73 83.51H529.33M527.53 81.71V85.31" stroke="#f7cc8a" stroke-width="1" fill="none"/><path d="M549.89 80.63H553.49M551.69 78.83V82.43" stroke="#f7cc8a" stroke-width="1" fill="none"/><path d="M574.04 78.96H577.64M575.84 77.16V80.76" stroke="#f7cc8a" stroke-width="1" fill="none"/><path d="M598.20 78.00H601.80M600.00 76.20V79.80" stroke="#f7cc8a" stroke-width="1" fill="none"/><path d="M478.02 92.96H480.42" stroke="#5a7ec8" stroke-width="1.2" fill="none"/><path d="M502.18 89.67H504.58" stroke="#5a7ec8" stroke-width="1.2" fill="none"/><path d="M526.33 84.88H528.73" stroke="#5a7ec8" stroke-width="1.2" fill="none"/><path d="M550.49 81.29H552.89" stroke="#5a7ec8" stroke-width="1.2" fill="none"/><path d="M574.64 79.20H577.04" stroke="#5a7ec8" stroke-width="1.2" fill="none"/><path d="M598.80 78.00H601.20" stroke="#5a7ec8" stroke-width="1.2" fill="none"/><path d="M477.42 95.96H481.02" stroke="#8cc070" stroke-width="1.2" fill="none"/><path d="M501.58 92.01H505.18" stroke="#8cc070" stroke-width="1.2" fill="none"/><path d="M525.73 86.26H529.33" stroke="#8cc070" stroke-width="1.2" fill="none"/><path d="M549.89 81.95H553.49" stroke="#8cc070" stroke-width="1.2" fill="none"/><path d="M574.04 79.44H577.64" stroke="#8cc070" stroke-width="1.2" fill="none"/><path d="M598.20 78.00H601.80" stroke="#8cc070" stroke-width="1.2" fill="none"/><path d="M479.22 97.15L481.02 98.95L479.22 100.75L477.42 98.95Z" fill="#aabfe6"/><path d="M503.38 92.54L505.18 94.34L503.38 96.14L501.58 94.34Z" fill="#aabfe6"/><path d="M527.53 85.84L529.33 87.64L527.53 89.44L525.73 87.64Z" fill="#aabfe6"/><path d="M551.69 80.81L553.49 82.61L551.69 84.41L549.89 82.61Z" fill="#aabfe6"/><path d="M575.84 77.88L577.64 79.68L575.84 81.48L574.04 79.68Z" fill="#aabfe6"/><path d="M600.00 76.20L601.80 78.00L600.00 79.80L598.20 78.00Z" fill="#aabfe6"/><rect x="477.12" y="99.84" width="4.20" height="4.20" fill="#f0b8a8"/><rect x="501.28" y="94.58" width="4.20" height="4.20" fill="#f0b8a8"/><rect x="525.43" y="86.91" width="4.20" height="4.20" fill="#f0b8a8"/><rect x="549.59" y="81.17" width="4.20" height="4.20" fill="#f0b8a8"/><rect x="573.74" y="77.82" width="4.20" height="4.20" fill="#f0b8a8"/><rect x="597.90" y="75.90" width="4.20" height="4.20" fill="#f0b8a8"/><path d="M479.22 102.84L481.32 106.62L477.12 106.62Z" fill="#d6d6d6"/><path d="M503.38 96.91L505.48 100.69L501.28 100.69Z" fill="#d6d6d6"/><path d="M527.53 88.29L529.63 92.07L525.43 92.07Z" fill="#d6d6d6"/><path d="M551.69 81.83L553.79 85.61L549.59 85.61Z" fill="#d6d6d6"/><path d="M575.84 78.05L577.94 81.83L573.74 81.83Z" fill="#d6d6d6"/><path d="M600.00 75.90L602.10 79.68L597.90 79.68Z" fill="#d6d6d6"/></g>
<path d="M479.22 9.54L600.00 73.90M479.22 16.17L600.00 74.30M479.22 22.80L600.00 74.70M479.22 29.43L600.00 75.09M479.22 36.06L600.00 75.49M479.22 42.69L600.00 75.89M479.22 49.31L600.00 76.28M479.22 55.94L600.00 76.68M479.22 62.57L600.00 77.08M479.22 69.20L600.00 77.47M479.22 74.09L600.00 77.77M479.22 78.00L600.00 78.00" stroke="#000" stroke-width="0.85" fill="none"/>
<path d="M479.22 80.84L600.00 77.70M479.22 83.67L600.00 77.40M479.22 86.51L600.00 77.09M479.22 89.34L600.00 76.79M479.22 92.18L600.00 76.49M479.22 95.02L600.00 76.19M479.22 97.85L600.00 75.89M479.22 100.69L600.00 75.58M479.22 103.53L600.00 75.28" stroke="#000" stroke-width="0.75" fill="none"/>
<path d="M460.60 4.70V109.20H600.50" stroke="#2a2a2a" stroke-width="1.2" fill="none"/>
<path d="M460.60 5.20h2.2M460.60 15.60h2.2M460.60 26.00h2.2M460.60 36.40h2.2M460.60 46.80h2.2M460.60 57.20h2.2M460.60 67.60h2.2M460.60 78.00h2.2M460.60 88.40h2.2M460.60 98.80h2.2M460.60 109.20h2.2M460.60 109.20v-2.2M495.45 109.20v-2.2M530.30 109.20v-2.2M565.15 109.20v-2.2M600.00 109.20v-2.2" stroke="#333" stroke-width="0.9" fill="none"/>
<g font-size="9.3" fill="#000" stroke="#000" stroke-width="0.2"><text transform="translate(458.00 8.80) scale(0.93 1.0)" font-size="10.0" text-anchor="end">70</text><text transform="translate(458.00 19.20) scale(0.93 1.0)" font-size="10.0" text-anchor="end">60</text><text transform="translate(458.00 29.60) scale(0.93 1.0)" font-size="10.0" text-anchor="end">50</text><text transform="translate(458.00 40.00) scale(0.93 1.0)" font-size="10.0" text-anchor="end">40</text><text transform="translate(458.00 50.40) scale(0.93 1.0)" font-size="10.0" text-anchor="end">30</text><text transform="translate(458.00 60.80) scale(0.93 1.0)" font-size="10.0" text-anchor="end">20</text><text transform="translate(458.00 71.20) scale(0.93 1.0)" font-size="10.0" text-anchor="end">10</text><text transform="translate(458.00 81.60) scale(0.93 1.0)" font-size="10.0" text-anchor="end">0</text><text transform="translate(458.00 92.00) scale(0.93 1.0)" font-size="10.0" text-anchor="end"><tspan fill="#888" stroke="none">−</tspan>10</text><text transform="translate(458.00 102.40) scale(0.93 1.0)" font-size="10.0" text-anchor="end"><tspan fill="#888" stroke="none">−</tspan>20</text><text transform="translate(458.00 112.80) scale(0.93 1.0)" font-size="10.0" text-anchor="end"><tspan fill="#888" stroke="none">−</tspan>30</text><text transform="translate(460.60 118.90) scale(0.93 1.0)" font-size="10.0" text-anchor="middle"><tspan fill="#888" stroke="none">−</tspan>4</text><text transform="translate(495.45 118.90) scale(0.93 1.0)" font-size="10.0" text-anchor="middle"><tspan fill="#888" stroke="none">−</tspan>3</text><text transform="translate(530.30 118.90) scale(0.93 1.0)" font-size="10.0" text-anchor="middle"><tspan fill="#888" stroke="none">−</tspan>2</text><text transform="translate(565.15 118.90) scale(0.93 1.0)" font-size="10.0" text-anchor="middle"><tspan fill="#888" stroke="none">−</tspan>1</text><text transform="translate(600.00 118.90) scale(0.93 1.0)" font-size="10.0" text-anchor="middle">0</text></g>
<text x="529.85" y="129.10" font-size="9.3" text-anchor="middle" fill="#000" stroke="#000" stroke-width="0.12">lnε</text>
<text transform="translate(442.80 57.20) rotate(-90)" font-size="9.8" text-anchor="middle" fill="#000" stroke="#000" stroke-width="0.18">ln <tspan font-style="italic">u</tspan>(<tspan font-style="italic">q</tspan>,<tspan font-style="italic">ε</tspan>)</text>
<rect x="603.40" y="3.50" width="46.00" height="106.80" fill="#fff" stroke="#333" stroke-width="1"/>
<g><rect x="606.30" y="16.80" width="4.60" height="4.60" fill="#999999"/><path d="M632.30 17.20L634.20 19.10L632.30 21.00L630.40 19.10Z" fill="#4a70b8"/><rect x="606.50" y="25.45" width="4.20" height="4.20" fill="#c0621c"/><path d="M630.60 25.85L634.00 29.25M634.00 25.85L630.60 29.25" stroke="#d4a52a" stroke-width="1.1" fill="none"/><path d="M606.50 34.22L610.70 37.78M610.70 34.22L606.50 37.78M606.50 34.22H610.70M606.50 37.78H610.70" stroke="#3a5aa8" stroke-width="0.8" fill="none"/><circle cx="632.30" cy="36.00" r="2.00" fill="#5b8a2a"/><path d="M606.70 44.45H610.50M608.60 42.55V46.35" stroke="#6f95d6" stroke-width="1" fill="none"/><path d="M631.00 44.45H633.60" stroke="#e0702a" stroke-width="1.2" fill="none"/><path d="M606.80 52.90H610.40" stroke="#a8a8a8" stroke-width="1.2" fill="none"/><path d="M632.30 51.10L634.10 52.90L632.30 54.70L630.50 52.90Z" fill="#eaa820"/><rect x="606.50" y="59.25" width="4.20" height="4.20" fill="#3d64b0"/><path d="M632.30 59.25L634.40 63.03L630.20 63.03Z" fill="#5c9a3a"/><path d="M606.70 67.90L610.50 71.70M610.50 67.90L606.70 71.70" stroke="#9ab8e0" stroke-width="1.1" fill="none"/><path d="M630.40 67.90L634.20 71.70M634.20 67.90L630.40 71.70" stroke="#e8907a" stroke-width="1.1" fill="none"/><circle cx="608.60" cy="78.25" r="2.10" fill="#b8b8b8"/><path d="M630.50 78.25H634.10M632.30 76.45V80.05" stroke="#f7cc8a" stroke-width="1" fill="none"/><path d="M607.40 86.70H609.80" stroke="#5a7ec8" stroke-width="1.2" fill="none"/><path d="M630.50 86.70H634.10" stroke="#8cc070" stroke-width="1.2" fill="none"/><path d="M608.60 93.35L610.40 95.15L608.60 96.95L606.80 95.15Z" fill="#aabfe6"/><rect x="630.20" y="93.05" width="4.20" height="4.20" fill="#f0b8a8"/><path d="M608.60 101.50L610.70 105.28L606.50 105.28Z" fill="#d6d6d6"/></g>
<g font-size="9.3" fill="#000" stroke="#000" stroke-width="0.2"><text x="626.40" y="10.80" font-size="9.8" text-anchor="middle"><tspan font-style="italic">q</tspan>:</text><text transform="translate(612.90 22.70) scale(0.93 1.0)" font-size="10.0"><tspan fill="#888" stroke="none">−</tspan>10</text><text transform="translate(636.60 22.70) scale(0.93 1.0)" font-size="10.0"><tspan fill="#888" stroke="none">−</tspan>9</text><text transform="translate(612.90 31.15) scale(0.93 1.0)" font-size="10.0"><tspan fill="#888" stroke="none">−</tspan>8</text><text transform="translate(636.60 31.15) scale(0.93 1.0)" font-size="10.0"><tspan fill="#888" stroke="none">−</tspan>7</text><text transform="translate(612.90 39.60) scale(0.93 1.0)" font-size="10.0"><tspan fill="#888" stroke="none">−</tspan>6</text><text transform="translate(636.60 39.60) scale(0.93 1.0)" font-size="10.0"><tspan fill="#888" stroke="none">−</tspan>5</text><text transform="translate(612.90 48.05) scale(0.93 1.0)" font-size="10.0"><tspan fill="#888" stroke="none">−</tspan>4</text><text transform="translate(636.60 48.05) scale(0.93 1.0)" font-size="10.0"><tspan fill="#888" stroke="none">−</tspan>3</text><text transform="translate(612.90 56.50) scale(0.93 1.0)" font-size="10.0"><tspan fill="#888" stroke="none">−</tspan>2</text><text transform="translate(636.60 56.50) scale(0.93 1.0)" font-size="10.0"><tspan fill="#888" stroke="none">−</tspan>1</text><text transform="translate(612.90 64.95) scale(0.93 1.0)" font-size="10.0">0</text><text transform="translate(636.60 64.95) scale(0.93 1.0)" font-size="10.0">1</text><text transform="translate(612.90 73.40) scale(0.93 1.0)" font-size="10.0">2</text><text transform="translate(636.60 73.40) scale(0.93 1.0)" font-size="10.0">3</text><text transform="translate(612.90 81.85) scale(0.93 1.0)" font-size="10.0">4</text><text transform="translate(636.60 81.85) scale(0.93 1.0)" font-size="10.0">5</text><text transform="translate(612.90 90.30) scale(0.93 1.0)" font-size="10.0">6</text><text transform="translate(636.60 90.30) scale(0.93 1.0)" font-size="10.0">7</text><text transform="translate(612.90 98.75) scale(0.93 1.0)" font-size="10.0">8</text><text transform="translate(636.60 98.75) scale(0.93 1.0)" font-size="10.0">9</text><text transform="translate(612.90 107.20) scale(0.93 1.0)" font-size="10.0">10</text></g>
<text x="529.60" y="142.00" font-size="9.8" text-anchor="middle" fill="#000" stroke="#000" stroke-width="0.12">(c) Sample 1, after gas flooding</text>
<g><rect x="44.29" y="162.92" width="4.60" height="4.60" fill="#999999"/><rect x="68.41" y="171.34" width="4.60" height="4.60" fill="#999999"/><rect x="92.54" y="180.62" width="4.60" height="4.60" fill="#999999"/><rect x="116.66" y="192.07" width="4.60" height="4.60" fill="#999999"/><rect x="140.78" y="205.43" width="4.60" height="4.60" fill="#999999"/><rect x="164.90" y="224.80" width="4.60" height="4.60" fill="#999999"/><path d="M46.59 169.25L48.49 171.15L46.59 173.05L44.69 171.15Z" fill="#4a70b8"/><path d="M70.71 176.86L72.61 178.76L70.71 180.66L68.81 178.76Z" fill="#4a70b8"/><path d="M94.84 185.25L96.74 187.15L94.84 189.05L92.94 187.15Z" fill="#4a70b8"/><path d="M118.96 195.60L120.86 197.50L118.96 199.40L117.06 197.50Z" fill="#4a70b8"/><path d="M143.08 207.69L144.98 209.59L143.08 211.49L141.18 209.59Z" fill="#4a70b8"/><path d="M167.20 225.20L169.10 227.10L167.20 229.00L165.30 227.10Z" fill="#4a70b8"/><rect x="44.49" y="174.98" width="4.20" height="4.20" fill="#c0621c"/><rect x="68.61" y="181.78" width="4.20" height="4.20" fill="#c0621c"/><rect x="92.74" y="189.28" width="4.20" height="4.20" fill="#c0621c"/><rect x="116.86" y="198.54" width="4.20" height="4.20" fill="#c0621c"/><rect x="140.98" y="209.34" width="4.20" height="4.20" fill="#c0621c"/><rect x="165.10" y="225.00" width="4.20" height="4.20" fill="#c0621c"/><path d="M44.89 181.30L48.29 184.70M48.29 181.30L44.89 184.70" stroke="#d4a52a" stroke-width="1.1" fill="none"/><path d="M69.01 187.30L72.41 190.70M72.41 187.30L69.01 190.70" stroke="#d4a52a" stroke-width="1.1" fill="none"/><path d="M93.14 193.92L96.54 197.32M96.54 193.92L93.14 197.32" stroke="#d4a52a" stroke-width="1.1" fill="none"/><path d="M117.26 202.07L120.66 205.47M120.66 202.07L117.26 205.47" stroke="#d4a52a" stroke-width="1.1" fill="none"/><path d="M141.38 211.60L144.78 215.00M144.78 211.60L141.38 215.00" stroke="#d4a52a" stroke-width="1.1" fill="none"/><path d="M165.50 225.40L168.90 228.80M168.90 225.40L165.50 228.80" stroke="#d4a52a" stroke-width="1.1" fill="none"/><path d="M44.49 187.15L48.69 190.72M48.69 187.15L44.49 190.72M44.49 187.15H48.69M44.49 190.72H48.69" stroke="#3a5aa8" stroke-width="0.8" fill="none"/><path d="M68.61 192.34L72.81 195.91M72.81 192.34L68.61 195.91M68.61 192.34H72.81M68.61 195.91H72.81" stroke="#3a5aa8" stroke-width="0.8" fill="none"/><path d="M92.74 198.06L96.94 201.63M96.94 198.06L92.74 201.63M92.74 198.06H96.94M92.74 201.63H96.94" stroke="#3a5aa8" stroke-width="0.8" fill="none"/><path d="M116.86 205.12L121.06 208.69M121.06 205.12L116.86 208.69M116.86 205.12H121.06M116.86 208.69H121.06" stroke="#3a5aa8" stroke-width="0.8" fill="none"/><path d="M140.98 213.37L145.18 216.94M145.18 213.37L140.98 216.94M140.98 213.37H145.18M140.98 216.94H145.18" stroke="#3a5aa8" stroke-width="0.8" fill="none"/><path d="M165.10 225.32L169.30 228.89M169.30 225.32L165.10 228.89M165.10 225.32H169.30M165.10 228.89H169.30" stroke="#3a5aa8" stroke-width="0.8" fill="none"/><circle cx="46.59" cy="194.86" r="2.00" fill="#5b8a2a"/><circle cx="70.71" cy="199.24" r="2.00" fill="#5b8a2a"/><circle cx="94.84" cy="204.08" r="2.00" fill="#5b8a2a"/><circle cx="118.96" cy="210.05" r="2.00" fill="#5b8a2a"/><circle cx="143.08" cy="217.01" r="2.00" fill="#5b8a2a"/><circle cx="167.20" cy="227.10" r="2.00" fill="#5b8a2a"/><path d="M44.69 200.79H48.49M46.59 198.89V202.69" stroke="#6f95d6" stroke-width="1" fill="none"/><path d="M68.81 204.37H72.61M70.71 202.47V206.27" stroke="#6f95d6" stroke-width="1" fill="none"/><path d="M92.94 208.31H96.74M94.84 206.41V210.21" stroke="#6f95d6" stroke-width="1" fill="none"/><path d="M117.06 213.18H120.86M118.96 211.28V215.08" stroke="#6f95d6" stroke-width="1" fill="none"/><path d="M141.18 218.86H144.98M143.08 216.96V220.76" stroke="#6f95d6" stroke-width="1" fill="none"/><path d="M165.30 227.10H169.10M167.20 225.20V229.00" stroke="#6f95d6" stroke-width="1" fill="none"/><path d="M45.29 206.72H47.89" stroke="#e0702a" stroke-width="1.2" fill="none"/><path d="M69.41 209.49H72.01" stroke="#e0702a" stroke-width="1.2" fill="none"/><path d="M93.54 212.55H96.14" stroke="#e0702a" stroke-width="1.2" fill="none"/><path d="M117.66 216.32H120.26" stroke="#e0702a" stroke-width="1.2" fill="none"/><path d="M141.78 220.72H144.38" stroke="#e0702a" stroke-width="1.2" fill="none"/><path d="M165.90 227.10H168.50" stroke="#e0702a" stroke-width="1.2" fill="none"/><path d="M44.79 212.64H48.39" stroke="#a8a8a8" stroke-width="1.2" fill="none"/><path d="M68.91 214.61H72.51" stroke="#a8a8a8" stroke-width="1.2" fill="none"/><path d="M93.04 216.78H96.64" stroke="#a8a8a8" stroke-width="1.2" fill="none"/><path d="M117.16 219.45H120.76" stroke="#a8a8a8" stroke-width="1.2" fill="none"/><path d="M141.28 222.58H144.88" stroke="#a8a8a8" stroke-width="1.2" fill="none"/><path d="M165.40 227.10H169.00" stroke="#a8a8a8" stroke-width="1.2" fill="none"/><path d="M46.59 216.77L48.39 218.57L46.59 220.37L44.79 218.57Z" fill="#eaa820"/><path d="M70.71 217.93L72.51 219.73L70.71 221.53L68.91 219.73Z" fill="#eaa820"/><path d="M94.84 219.21L96.64 221.01L94.84 222.81L93.04 221.01Z" fill="#eaa820"/><path d="M118.96 220.79L120.76 222.59L118.96 224.39L117.16 222.59Z" fill="#eaa820"/><path d="M143.08 222.63L144.88 224.43L143.08 226.23L141.28 224.43Z" fill="#eaa820"/><path d="M167.20 225.30L169.00 227.10L167.20 228.90L165.40 227.10Z" fill="#eaa820"/><rect x="44.49" y="221.36" width="4.20" height="4.20" fill="#3d64b0"/><rect x="68.61" y="221.86" width="4.20" height="4.20" fill="#3d64b0"/><rect x="92.74" y="222.40" width="4.20" height="4.20" fill="#3d64b0"/><rect x="116.86" y="223.07" width="4.20" height="4.20" fill="#3d64b0"/><rect x="140.98" y="223.86" width="4.20" height="4.20" fill="#3d64b0"/><rect x="165.10" y="225.00" width="4.20" height="4.20" fill="#3d64b0"/><path d="M46.59 225.00L48.69 228.78L44.49 228.78Z" fill="#5c9a3a"/><path d="M70.71 225.00L72.81 228.78L68.61 228.78Z" fill="#5c9a3a"/><path d="M94.84 225.00L96.94 228.78L92.74 228.78Z" fill="#5c9a3a"/><path d="M118.96 225.00L121.06 228.78L116.86 228.78Z" fill="#5c9a3a"/><path d="M143.08 225.00L145.18 228.78L140.98 228.78Z" fill="#5c9a3a"/><path d="M167.20 225.00L169.30 228.78L165.10 228.78Z" fill="#5c9a3a"/><path d="M44.69 227.89L48.49 231.69M48.49 227.89L44.69 231.69" stroke="#9ab8e0" stroke-width="1.1" fill="none"/><path d="M68.81 227.49L72.61 231.29M72.61 227.49L68.81 231.29" stroke="#9ab8e0" stroke-width="1.1" fill="none"/><path d="M92.94 226.60L96.74 230.40M96.74 226.60L92.94 230.40" stroke="#9ab8e0" stroke-width="1.1" fill="none"/><path d="M117.06 225.90L120.86 229.70M120.86 225.90L117.06 229.70" stroke="#9ab8e0" stroke-width="1.1" fill="none"/><path d="M141.18 225.47L144.98 229.27M144.98 225.47L141.18 229.27" stroke="#9ab8e0" stroke-width="1.1" fill="none"/><path d="M165.30 225.20L169.10 229.00M169.10 225.20L165.30 229.00" stroke="#9ab8e0" stroke-width="1.1" fill="none"/><path d="M44.69 230.58L48.49 234.38M48.49 230.58L44.69 234.38" stroke="#e8907a" stroke-width="1.1" fill="none"/><path d="M68.81 229.78L72.61 233.58M72.61 229.78L68.81 233.58" stroke="#e8907a" stroke-width="1.1" fill="none"/><path d="M92.94 228.00L96.74 231.80M96.74 228.00L92.94 231.80" stroke="#e8907a" stroke-width="1.1" fill="none"/><path d="M117.06 226.60L120.86 230.40M120.86 226.60L117.06 230.40" stroke="#e8907a" stroke-width="1.1" fill="none"/><path d="M141.18 225.74L144.98 229.54M144.98 225.74L141.18 229.54" stroke="#e8907a" stroke-width="1.1" fill="none"/><path d="M165.30 225.20L169.10 229.00M169.10 225.20L165.30 229.00" stroke="#e8907a" stroke-width="1.1" fill="none"/><circle cx="46.59" cy="235.18" r="2.10" fill="#b8b8b8"/><circle cx="70.71" cy="233.97" r="2.10" fill="#b8b8b8"/><circle cx="94.84" cy="231.30" r="2.10" fill="#b8b8b8"/><circle cx="118.96" cy="229.20" r="2.10" fill="#b8b8b8"/><circle cx="143.08" cy="227.91" r="2.10" fill="#b8b8b8"/><circle cx="167.20" cy="227.10" r="2.10" fill="#b8b8b8"/><path d="M44.79 237.87H48.39M46.59 236.07V239.67" stroke="#f7cc8a" stroke-width="1" fill="none"/><path d="M68.91 236.25H72.51M70.71 234.45V238.05" stroke="#f7cc8a" stroke-width="1" fill="none"/><path d="M93.04 232.70H96.64M94.84 230.90V234.50" stroke="#f7cc8a" stroke-width="1" fill="none"/><path d="M117.16 229.90H120.76M118.96 228.10V231.70" stroke="#f7cc8a" stroke-width="1" fill="none"/><path d="M141.28 228.18H144.88M143.08 226.38V229.98" stroke="#f7cc8a" stroke-width="1" fill="none"/><path d="M165.40 227.10H169.00M167.20 225.30V228.90" stroke="#f7cc8a" stroke-width="1" fill="none"/><path d="M45.39 240.56H47.79" stroke="#5a7ec8" stroke-width="1.2" fill="none"/><path d="M69.51 238.54H71.91" stroke="#5a7ec8" stroke-width="1.2" fill="none"/><path d="M93.64 234.10H96.04" stroke="#5a7ec8" stroke-width="1.2" fill="none"/><path d="M117.76 230.60H120.16" stroke="#5a7ec8" stroke-width="1.2" fill="none"/><path d="M141.88 228.45H144.28" stroke="#5a7ec8" stroke-width="1.2" fill="none"/><path d="M166.00 227.10H168.40" stroke="#5a7ec8" stroke-width="1.2" fill="none"/><path d="M44.79 243.25H48.39" stroke="#8cc070" stroke-width="1.2" fill="none"/><path d="M68.91 240.83H72.51" stroke="#8cc070" stroke-width="1.2" fill="none"/><path d="M93.04 235.50H96.64" stroke="#8cc070" stroke-width="1.2" fill="none"/><path d="M117.16 231.30H120.76" stroke="#8cc070" stroke-width="1.2" fill="none"/><path d="M141.28 228.72H144.88" stroke="#8cc070" stroke-width="1.2" fill="none"/><path d="M165.40 227.10H169.00" stroke="#8cc070" stroke-width="1.2" fill="none"/><path d="M46.59 244.15L48.39 245.95L46.59 247.75L44.79 245.95Z" fill="#aabfe6"/><path d="M70.71 241.32L72.51 243.12L70.71 244.92L68.91 243.12Z" fill="#aabfe6"/><path d="M94.84 235.10L96.64 236.90L94.84 238.70L93.04 236.90Z" fill="#aabfe6"/><path d="M118.96 230.20L120.76 232.00L118.96 233.80L117.16 232.00Z" fill="#aabfe6"/><path d="M143.08 227.18L144.88 228.98L143.08 230.78L141.28 228.98Z" fill="#aabfe6"/><path d="M167.20 225.30L169.00 227.10L167.20 228.90L165.40 227.10Z" fill="#aabfe6"/><rect x="44.49" y="246.54" width="4.20" height="4.20" fill="#f0b8a8"/><rect x="68.61" y="243.31" width="4.20" height="4.20" fill="#f0b8a8"/><rect x="92.74" y="236.20" width="4.20" height="4.20" fill="#f0b8a8"/><rect x="116.86" y="230.60" width="4.20" height="4.20" fill="#f0b8a8"/><rect x="140.98" y="227.15" width="4.20" height="4.20" fill="#f0b8a8"/><rect x="165.10" y="225.00" width="4.20" height="4.20" fill="#f0b8a8"/><path d="M46.59 249.23L48.69 253.01L44.49 253.01Z" fill="#d6d6d6"/><path d="M70.71 245.60L72.81 249.38L68.61 249.38Z" fill="#d6d6d6"/><path d="M94.84 237.60L96.94 241.38L92.74 241.38Z" fill="#d6d6d6"/><path d="M118.96 231.30L121.06 235.08L116.86 235.08Z" fill="#d6d6d6"/><path d="M143.08 227.42L145.18 231.20L140.98 231.20Z" fill="#d6d6d6"/><path d="M167.20 225.00L169.30 228.78L165.10 228.78Z" fill="#d6d6d6"/></g>
<path d="M46.59 161.60L167.20 222.05M46.59 167.88L167.20 222.54M46.59 174.15L167.20 223.02M46.59 180.43L167.20 223.50M46.59 186.70L167.20 223.99M46.59 192.98L167.20 224.47M46.59 199.25L167.20 224.95M46.59 205.52L167.20 225.44M46.59 211.80L167.20 225.92M46.59 218.07L167.20 226.40M46.59 223.25L167.20 226.80M46.59 227.10L167.20 227.10" stroke="#000" stroke-width="0.85" fill="none"/>
<path d="M46.59 229.77L167.20 226.88M46.59 232.44L167.20 226.66M46.59 235.11L167.20 226.44M46.59 237.78L167.20 226.22M46.59 240.45L167.20 226.00M46.59 243.12L167.20 225.78M46.59 245.79L167.20 225.57M46.59 248.45L167.20 225.35M46.59 251.12L167.20 225.13" stroke="#000" stroke-width="0.75" fill="none"/>
<path d="M28.00 153.80V258.30H167.70" stroke="#7a7a7a" stroke-width="1.2" fill="none"/>
<path d="M28.00 154.30h2.2M28.00 164.70h2.2M28.00 175.10h2.2M28.00 185.50h2.2M28.00 195.90h2.2M28.00 206.30h2.2M28.00 216.70h2.2M28.00 227.10h2.2M28.00 237.50h2.2M28.00 247.90h2.2M28.00 258.30h2.2M28.00 258.30v-2.2M62.80 258.30v-2.2M97.60 258.30v-2.2M132.40 258.30v-2.2M167.20 258.30v-2.2" stroke="#333" stroke-width="0.9" fill="none"/>
<g font-size="9.3" fill="#000" stroke="#000" stroke-width="0.2"><text transform="translate(25.40 157.90) scale(0.93 1.0)" font-size="10.0" text-anchor="end">70</text><text transform="translate(25.40 168.30) scale(0.93 1.0)" font-size="10.0" text-anchor="end">60</text><text transform="translate(25.40 178.70) scale(0.93 1.0)" font-size="10.0" text-anchor="end">50</text><text transform="translate(25.40 189.10) scale(0.93 1.0)" font-size="10.0" text-anchor="end">40</text><text transform="translate(25.40 199.50) scale(0.93 1.0)" font-size="10.0" text-anchor="end">30</text><text transform="translate(25.40 209.90) scale(0.93 1.0)" font-size="10.0" text-anchor="end">20</text><text transform="translate(25.40 220.30) scale(0.93 1.0)" font-size="10.0" text-anchor="end">10</text><text transform="translate(25.40 230.70) scale(0.93 1.0)" font-size="10.0" text-anchor="end">0</text><text transform="translate(25.40 241.10) scale(0.93 1.0)" font-size="10.0" text-anchor="end"><tspan fill="#888" stroke="none">−</tspan>10</text><text transform="translate(25.40 251.50) scale(0.93 1.0)" font-size="10.0" text-anchor="end"><tspan fill="#888" stroke="none">−</tspan>20</text><text transform="translate(25.40 261.90) scale(0.93 1.0)" font-size="10.0" text-anchor="end"><tspan fill="#888" stroke="none">−</tspan>30</text><text transform="translate(28.00 269.00) scale(0.93 1.0)" font-size="10.0" text-anchor="middle"><tspan fill="#888" stroke="none">−</tspan>4</text><text transform="translate(62.80 269.00) scale(0.93 1.0)" font-size="10.0" text-anchor="middle"><tspan fill="#888" stroke="none">−</tspan>3</text><text transform="translate(97.60 269.00) scale(0.93 1.0)" font-size="10.0" text-anchor="middle"><tspan fill="#888" stroke="none">−</tspan>2</text><text transform="translate(132.40 269.00) scale(0.93 1.0)" font-size="10.0" text-anchor="middle"><tspan fill="#888" stroke="none">−</tspan>1</text><text transform="translate(167.20 269.00) scale(0.93 1.0)" font-size="10.0" text-anchor="middle">0</text></g>
<text x="97.55" y="279.90" font-size="9.3" text-anchor="middle" fill="#000" stroke="#000" stroke-width="0.12">lnε</text>
<text transform="translate(7.50 206.30) rotate(-90)" font-size="9.8" text-anchor="middle" fill="#000" stroke="#000" stroke-width="0.18">ln <tspan font-style="italic">u</tspan>(<tspan font-style="italic">q</tspan>,<tspan font-style="italic">ε</tspan>)</text>
<rect x="171.60" y="153.10" width="46.20" height="107.30" fill="#fff" stroke="#555" stroke-width="1"/>
<g><rect x="174.50" y="166.40" width="4.60" height="4.60" fill="#999999"/><path d="M200.50 166.80L202.40 168.70L200.50 170.60L198.60 168.70Z" fill="#4a70b8"/><rect x="174.70" y="175.05" width="4.20" height="4.20" fill="#c0621c"/><path d="M198.80 175.45L202.20 178.85M202.20 175.45L198.80 178.85" stroke="#d4a52a" stroke-width="1.1" fill="none"/><path d="M174.70 183.81L178.90 187.38M178.90 183.81L174.70 187.38M174.70 183.81H178.90M174.70 187.38H178.90" stroke="#3a5aa8" stroke-width="0.8" fill="none"/><circle cx="200.50" cy="185.60" r="2.00" fill="#5b8a2a"/><path d="M174.90 194.05H178.70M176.80 192.15V195.95" stroke="#6f95d6" stroke-width="1" fill="none"/><path d="M199.20 194.05H201.80" stroke="#e0702a" stroke-width="1.2" fill="none"/><path d="M175.00 202.50H178.60" stroke="#a8a8a8" stroke-width="1.2" fill="none"/><path d="M200.50 200.70L202.30 202.50L200.50 204.30L198.70 202.50Z" fill="#eaa820"/><rect x="174.70" y="208.85" width="4.20" height="4.20" fill="#3d64b0"/><path d="M200.50 208.85L202.60 212.63L198.40 212.63Z" fill="#5c9a3a"/><path d="M174.90 217.50L178.70 221.30M178.70 217.50L174.90 221.30" stroke="#9ab8e0" stroke-width="1.1" fill="none"/><path d="M198.60 217.50L202.40 221.30M202.40 217.50L198.60 221.30" stroke="#e8907a" stroke-width="1.1" fill="none"/><circle cx="176.80" cy="227.85" r="2.10" fill="#b8b8b8"/><path d="M198.70 227.85H202.30M200.50 226.05V229.65" stroke="#f7cc8a" stroke-width="1" fill="none"/><path d="M175.60 236.30H178.00" stroke="#5a7ec8" stroke-width="1.2" fill="none"/><path d="M198.70 236.30H202.30" stroke="#8cc070" stroke-width="1.2" fill="none"/><path d="M176.80 242.95L178.60 244.75L176.80 246.55L175.00 244.75Z" fill="#aabfe6"/><rect x="198.40" y="242.65" width="4.20" height="4.20" fill="#f0b8a8"/><path d="M176.80 251.10L178.90 254.88L174.70 254.88Z" fill="#d6d6d6"/></g>
<g font-size="9.3" fill="#000" stroke="#000" stroke-width="0.2"><text x="194.70" y="160.40" font-size="9.8" text-anchor="middle"><tspan font-style="italic">q</tspan>:</text><text transform="translate(181.10 172.30) scale(0.93 1.0)" font-size="10.0"><tspan fill="#888" stroke="none">−</tspan>10</text><text transform="translate(204.80 172.30) scale(0.93 1.0)" font-size="10.0"><tspan fill="#888" stroke="none">−</tspan>9</text><text transform="translate(181.10 180.75) scale(0.93 1.0)" font-size="10.0"><tspan fill="#888" stroke="none">−</tspan>8</text><text transform="translate(204.80 180.75) scale(0.93 1.0)" font-size="10.0"><tspan fill="#888" stroke="none">−</tspan>7</text><text transform="translate(181.10 189.20) scale(0.93 1.0)" font-size="10.0"><tspan fill="#888" stroke="none">−</tspan>6</text><text transform="translate(204.80 189.20) scale(0.93 1.0)" font-size="10.0"><tspan fill="#888" stroke="none">−</tspan>5</text><text transform="translate(181.10 197.65) scale(0.93 1.0)" font-size="10.0"><tspan fill="#888" stroke="none">−</tspan>4</text><text transform="translate(204.80 197.65) scale(0.93 1.0)" font-size="10.0"><tspan fill="#888" stroke="none">−</tspan>3</text><text transform="translate(181.10 206.10) scale(0.93 1.0)" font-size="10.0"><tspan fill="#888" stroke="none">−</tspan>2</text><text transform="translate(204.80 206.10) scale(0.93 1.0)" font-size="10.0"><tspan fill="#888" stroke="none">−</tspan>1</text><text transform="translate(181.10 214.55) scale(0.93 1.0)" font-size="10.0">0</text><text transform="translate(204.80 214.55) scale(0.93 1.0)" font-size="10.0">1</text><text transform="translate(181.10 223.00) scale(0.93 1.0)" font-size="10.0">2</text><text transform="translate(204.80 223.00) scale(0.93 1.0)" font-size="10.0">3</text><text transform="translate(181.10 231.45) scale(0.93 1.0)" font-size="10.0">4</text><text transform="translate(204.80 231.45) scale(0.93 1.0)" font-size="10.0">5</text><text transform="translate(181.10 239.90) scale(0.93 1.0)" font-size="10.0">6</text><text transform="translate(204.80 239.90) scale(0.93 1.0)" font-size="10.0">7</text><text transform="translate(181.10 248.35) scale(0.93 1.0)" font-size="10.0">8</text><text transform="translate(204.80 248.35) scale(0.93 1.0)" font-size="10.0">9</text><text transform="translate(181.10 256.80) scale(0.93 1.0)" font-size="10.0">10</text></g>
<text x="97.50" y="292.50" font-size="9.8" text-anchor="middle" fill="#000" stroke="#000" stroke-width="0.12">(d) Sample 2, in original state</text>
<g><rect x="263.26" y="167.32" width="4.60" height="4.60" fill="#999999"/><rect x="286.57" y="175.16" width="4.60" height="4.60" fill="#999999"/><rect x="309.88" y="183.00" width="4.60" height="4.60" fill="#999999"/><rect x="333.19" y="191.56" width="4.60" height="4.60" fill="#999999"/><rect x="356.49" y="202.25" width="4.60" height="4.60" fill="#999999"/><rect x="379.80" y="238.60" width="4.60" height="4.60" fill="#999999"/><path d="M265.56 174.64L267.46 176.54L265.56 178.44L263.66 176.54Z" fill="#4a70b8"/><path d="M288.87 181.72L290.77 183.62L288.87 185.52L286.97 183.62Z" fill="#4a70b8"/><path d="M312.18 188.80L314.08 190.70L312.18 192.60L310.28 190.70Z" fill="#4a70b8"/><path d="M335.49 196.53L337.39 198.43L335.49 200.33L333.59 198.43Z" fill="#4a70b8"/><path d="M358.79 206.18L360.69 208.08L358.79 209.98L356.89 208.08Z" fill="#4a70b8"/><path d="M382.10 239.00L384.00 240.90L382.10 242.80L380.20 240.90Z" fill="#4a70b8"/><rect x="263.46" y="181.36" width="4.20" height="4.20" fill="#c0621c"/><rect x="286.77" y="187.68" width="4.20" height="4.20" fill="#c0621c"/><rect x="310.08" y="194.00" width="4.20" height="4.20" fill="#c0621c"/><rect x="333.39" y="200.89" width="4.20" height="4.20" fill="#c0621c"/><rect x="356.69" y="209.51" width="4.20" height="4.20" fill="#c0621c"/><rect x="380.00" y="238.80" width="4.20" height="4.20" fill="#c0621c"/><path d="M263.86 188.68L267.26 192.08M267.26 188.68L263.86 192.08" stroke="#d4a52a" stroke-width="1.1" fill="none"/><path d="M287.17 194.24L290.57 197.64M290.57 194.24L287.17 197.64" stroke="#d4a52a" stroke-width="1.1" fill="none"/><path d="M310.48 199.80L313.88 203.20M313.88 199.80L310.48 203.20" stroke="#d4a52a" stroke-width="1.1" fill="none"/><path d="M333.79 205.86L337.19 209.26M337.19 205.86L333.79 209.26" stroke="#d4a52a" stroke-width="1.1" fill="none"/><path d="M357.09 213.44L360.49 216.84M360.49 213.44L357.09 216.84" stroke="#d4a52a" stroke-width="1.1" fill="none"/><path d="M380.40 239.20L383.80 242.60M383.80 239.20L380.40 242.60" stroke="#d4a52a" stroke-width="1.1" fill="none"/><path d="M263.46 195.52L267.66 199.09M267.66 195.52L263.46 199.09M263.46 195.52H267.66M263.46 199.09H267.66" stroke="#3a5aa8" stroke-width="0.8" fill="none"/><path d="M286.77 200.31L290.97 203.88M290.97 200.31L286.77 203.88M286.77 200.31H290.97M286.77 203.88H290.97" stroke="#3a5aa8" stroke-width="0.8" fill="none"/><path d="M310.08 205.11L314.28 208.68M314.28 205.11L310.08 208.68M310.08 205.11H314.28M310.08 208.68H314.28" stroke="#3a5aa8" stroke-width="0.8" fill="none"/><path d="M333.39 210.34L337.59 213.91M337.59 210.34L333.39 213.91M333.39 210.34H337.59M333.39 213.91H337.59" stroke="#3a5aa8" stroke-width="0.8" fill="none"/><path d="M356.69 216.88L360.89 220.45M360.89 216.88L356.69 220.45M356.69 216.88H360.89M356.69 220.45H360.89" stroke="#3a5aa8" stroke-width="0.8" fill="none"/><path d="M380.00 239.11L384.20 242.68M384.20 239.11L380.00 242.68M380.00 239.11H384.20M380.00 242.68H384.20" stroke="#3a5aa8" stroke-width="0.8" fill="none"/><circle cx="265.56" cy="204.22" r="2.00" fill="#5b8a2a"/><circle cx="288.87" cy="208.26" r="2.00" fill="#5b8a2a"/><circle cx="312.18" cy="212.29" r="2.00" fill="#5b8a2a"/><circle cx="335.49" cy="216.69" r="2.00" fill="#5b8a2a"/><circle cx="358.79" cy="222.20" r="2.00" fill="#5b8a2a"/><circle cx="382.10" cy="240.90" r="2.00" fill="#5b8a2a"/><path d="M263.66 211.14H267.46M265.56 209.24V213.04" stroke="#6f95d6" stroke-width="1" fill="none"/><path d="M286.97 214.42H290.77M288.87 212.52V216.32" stroke="#6f95d6" stroke-width="1" fill="none"/><path d="M310.28 217.69H314.08M312.18 215.79V219.59" stroke="#6f95d6" stroke-width="1" fill="none"/><path d="M333.59 221.26H337.39M335.49 219.36V223.16" stroke="#6f95d6" stroke-width="1" fill="none"/><path d="M356.89 225.72H360.69M358.79 223.82V227.62" stroke="#6f95d6" stroke-width="1" fill="none"/><path d="M380.20 240.90H384.00M382.10 239.00V242.80" stroke="#6f95d6" stroke-width="1" fill="none"/><path d="M264.26 218.06H266.86" stroke="#e0702a" stroke-width="1.2" fill="none"/><path d="M287.57 220.58H290.17" stroke="#e0702a" stroke-width="1.2" fill="none"/><path d="M310.88 223.09H313.48" stroke="#e0702a" stroke-width="1.2" fill="none"/><path d="M334.19 225.83H336.79" stroke="#e0702a" stroke-width="1.2" fill="none"/><path d="M357.49 229.25H360.09" stroke="#e0702a" stroke-width="1.2" fill="none"/><path d="M380.80 240.90H383.40" stroke="#e0702a" stroke-width="1.2" fill="none"/><path d="M263.76 224.98H267.36" stroke="#a8a8a8" stroke-width="1.2" fill="none"/><path d="M287.07 226.73H290.67" stroke="#a8a8a8" stroke-width="1.2" fill="none"/><path d="M310.38 228.49H313.98" stroke="#a8a8a8" stroke-width="1.2" fill="none"/><path d="M333.69 230.40H337.29" stroke="#a8a8a8" stroke-width="1.2" fill="none"/><path d="M356.99 232.78H360.59" stroke="#a8a8a8" stroke-width="1.2" fill="none"/><path d="M380.30 240.90H383.90" stroke="#a8a8a8" stroke-width="1.2" fill="none"/><path d="M265.56 230.10L267.36 231.90L265.56 233.70L263.76 231.90Z" fill="#eaa820"/><path d="M288.87 231.09L290.67 232.89L288.87 234.69L287.07 232.89Z" fill="#eaa820"/><path d="M312.18 232.08L313.98 233.88L312.18 235.68L310.38 233.88Z" fill="#eaa820"/><path d="M335.49 233.16L337.29 234.96L335.49 236.76L333.69 234.96Z" fill="#eaa820"/><path d="M358.79 234.51L360.59 236.31L358.79 238.11L356.99 236.31Z" fill="#eaa820"/><path d="M382.10 239.10L383.90 240.90L382.10 242.70L380.30 240.90Z" fill="#eaa820"/><rect x="263.46" y="236.21" width="4.20" height="4.20" fill="#3d64b0"/><rect x="286.77" y="236.49" width="4.20" height="4.20" fill="#3d64b0"/><rect x="310.08" y="236.78" width="4.20" height="4.20" fill="#3d64b0"/><rect x="333.39" y="237.09" width="4.20" height="4.20" fill="#3d64b0"/><rect x="356.69" y="237.48" width="4.20" height="4.20" fill="#3d64b0"/><rect x="380.00" y="238.80" width="4.20" height="4.20" fill="#3d64b0"/><path d="M265.56 238.80L267.66 242.58L263.46 242.58Z" fill="#5c9a3a"/><path d="M288.87 238.80L290.97 242.58L286.77 242.58Z" fill="#5c9a3a"/><path d="M312.18 238.80L314.28 242.58L310.08 242.58Z" fill="#5c9a3a"/><path d="M335.49 238.80L337.59 242.58L333.39 242.58Z" fill="#5c9a3a"/><path d="M358.79 238.80L360.89 242.58L356.69 242.58Z" fill="#5c9a3a"/><path d="M382.10 238.80L384.20 242.58L380.00 242.58Z" fill="#5c9a3a"/><path d="M263.66 239.22L267.46 243.02M267.46 239.22L263.66 243.02" stroke="#9ab8e0" stroke-width="1.1" fill="none"/><path d="M286.97 239.18L290.77 242.98M290.77 239.18L286.97 242.98" stroke="#9ab8e0" stroke-width="1.1" fill="none"/><path d="M310.28 239.13L314.08 242.93M314.08 239.13L310.28 242.93" stroke="#9ab8e0" stroke-width="1.1" fill="none"/><path d="M333.59 239.09L337.39 242.89M337.39 239.09L333.59 242.89" stroke="#9ab8e0" stroke-width="1.1" fill="none"/><path d="M356.89 239.04L360.69 242.84M360.69 239.04L356.89 242.84" stroke="#9ab8e0" stroke-width="1.1" fill="none"/><path d="M380.20 239.00L384.00 242.80M384.00 239.00L380.20 242.80" stroke="#9ab8e0" stroke-width="1.1" fill="none"/><path d="M263.66 239.44L267.46 243.24M267.46 239.44L263.66 243.24" stroke="#e8907a" stroke-width="1.1" fill="none"/><path d="M286.97 239.35L290.77 243.15M290.77 239.35L286.97 243.15" stroke="#e8907a" stroke-width="1.1" fill="none"/><path d="M310.28 239.27L314.08 243.07M314.08 239.27L310.28 243.07" stroke="#e8907a" stroke-width="1.1" fill="none"/><path d="M333.59 239.18L337.39 242.98M337.39 239.18L333.59 242.98" stroke="#e8907a" stroke-width="1.1" fill="none"/><path d="M356.89 239.09L360.69 242.89M360.69 239.09L356.89 242.89" stroke="#e8907a" stroke-width="1.1" fill="none"/><path d="M380.20 239.00L384.00 242.80M384.00 239.00L380.20 242.80" stroke="#e8907a" stroke-width="1.1" fill="none"/><circle cx="265.56" cy="241.56" r="2.10" fill="#b8b8b8"/><circle cx="288.87" cy="241.43" r="2.10" fill="#b8b8b8"/><circle cx="312.18" cy="241.30" r="2.10" fill="#b8b8b8"/><circle cx="335.49" cy="241.17" r="2.10" fill="#b8b8b8"/><circle cx="358.79" cy="241.03" r="2.10" fill="#b8b8b8"/><circle cx="382.10" cy="240.90" r="2.10" fill="#b8b8b8"/><path d="M263.76 241.78H267.36M265.56 239.98V243.58" stroke="#f7cc8a" stroke-width="1" fill="none"/><path d="M287.07 241.61H290.67M288.87 239.81V243.41" stroke="#f7cc8a" stroke-width="1" fill="none"/><path d="M310.38 241.43H313.98M312.18 239.63V243.23" stroke="#f7cc8a" stroke-width="1" fill="none"/><path d="M333.69 241.25H337.29M335.49 239.45V243.05" stroke="#f7cc8a" stroke-width="1" fill="none"/><path d="M356.99 241.08H360.59M358.79 239.28V242.88" stroke="#f7cc8a" stroke-width="1" fill="none"/><path d="M380.30 240.90H383.90M382.10 239.10V242.70" stroke="#f7cc8a" stroke-width="1" fill="none"/><path d="M264.36 242.01H266.76" stroke="#5a7ec8" stroke-width="1.2" fill="none"/><path d="M287.67 241.78H290.07" stroke="#5a7ec8" stroke-width="1.2" fill="none"/><path d="M310.98 241.56H313.38" stroke="#5a7ec8" stroke-width="1.2" fill="none"/><path d="M334.29 241.34H336.69" stroke="#5a7ec8" stroke-width="1.2" fill="none"/><path d="M357.59 241.12H359.99" stroke="#5a7ec8" stroke-width="1.2" fill="none"/><path d="M380.90 240.90H383.30" stroke="#5a7ec8" stroke-width="1.2" fill="none"/><path d="M263.76 242.23H267.36" stroke="#8cc070" stroke-width="1.2" fill="none"/><path d="M287.07 241.96H290.67" stroke="#8cc070" stroke-width="1.2" fill="none"/><path d="M310.38 241.70H313.98" stroke="#8cc070" stroke-width="1.2" fill="none"/><path d="M333.69 241.43H337.29" stroke="#8cc070" stroke-width="1.2" fill="none"/><path d="M356.99 241.17H360.59" stroke="#8cc070" stroke-width="1.2" fill="none"/><path d="M380.30 240.90H383.90" stroke="#8cc070" stroke-width="1.2" fill="none"/><path d="M265.56 240.65L267.36 242.45L265.56 244.25L263.76 242.45Z" fill="#aabfe6"/><path d="M288.87 240.34L290.67 242.14L288.87 243.94L287.07 242.14Z" fill="#aabfe6"/><path d="M312.18 240.03L313.98 241.83L312.18 243.63L310.38 241.83Z" fill="#aabfe6"/><path d="M335.49 239.72L337.29 241.52L335.49 243.32L333.69 241.52Z" fill="#aabfe6"/><path d="M358.79 239.41L360.59 241.21L358.79 243.01L356.99 241.21Z" fill="#aabfe6"/><path d="M382.10 239.10L383.90 240.90L382.10 242.70L380.30 240.90Z" fill="#aabfe6"/><rect x="263.46" y="240.57" width="4.20" height="4.20" fill="#f0b8a8"/><rect x="286.77" y="240.21" width="4.20" height="4.20" fill="#f0b8a8"/><rect x="310.08" y="239.86" width="4.20" height="4.20" fill="#f0b8a8"/><rect x="333.39" y="239.51" width="4.20" height="4.20" fill="#f0b8a8"/><rect x="356.69" y="239.15" width="4.20" height="4.20" fill="#f0b8a8"/><rect x="380.00" y="238.80" width="4.20" height="4.20" fill="#f0b8a8"/><path d="M265.56 240.79L267.66 244.57L263.46 244.57Z" fill="#d6d6d6"/><path d="M288.87 240.39L290.97 244.17L286.77 244.17Z" fill="#d6d6d6"/><path d="M312.18 239.99L314.28 243.77L310.08 243.77Z" fill="#d6d6d6"/><path d="M335.49 239.60L337.59 243.38L333.39 243.38Z" fill="#d6d6d6"/><path d="M358.79 239.20L360.89 242.98L356.69 242.98Z" fill="#d6d6d6"/><path d="M382.10 238.80L384.20 242.58L380.00 242.58Z" fill="#d6d6d6"/></g>
<path d="M265.56 163.41L382.10 227.15M265.56 170.94L382.10 228.49M265.56 178.46L382.10 229.82M265.56 185.98L382.10 231.16M265.56 193.50L382.10 232.49M265.56 201.03L382.10 233.83M265.56 208.55L382.10 235.16M265.56 216.07L382.10 236.50M265.56 223.60L382.10 237.83M265.56 231.12L382.10 239.17M265.56 238.08L382.10 240.40M265.56 240.90L382.10 240.90" stroke="#000" stroke-width="0.85" fill="none"/>
<path d="M265.56 241.12L382.10 240.90M265.56 241.34L382.10 240.90M265.56 241.56L382.10 240.90M265.56 241.78L382.10 240.90M265.56 242.01L382.10 240.90M265.56 242.23L382.10 240.90M265.56 242.45L382.10 240.90M265.56 242.67L382.10 240.90M265.56 242.89L382.10 240.90" stroke="#000" stroke-width="0.75" fill="none"/>
<path d="M247.60 153.90V258.20H382.60" stroke="#7a7a7a" stroke-width="1.2" fill="none"/>
<path d="M247.60 154.40h2.2M247.60 171.70h2.2M247.60 189.00h2.2M247.60 206.30h2.2M247.60 223.60h2.2M247.60 240.90h2.2M247.60 258.20h2.2M247.60 258.20v-2.2M281.23 258.20v-2.2M314.85 258.20v-2.2M348.48 258.20v-2.2M382.10 258.20v-2.2" stroke="#333" stroke-width="0.9" fill="none"/>
<g font-size="9.3" fill="#000" stroke="#000" stroke-width="0.2"><text transform="translate(245.00 158.00) scale(0.93 1.0)" font-size="10.0" text-anchor="end">100</text><text transform="translate(245.00 175.30) scale(0.93 1.0)" font-size="10.0" text-anchor="end">80</text><text transform="translate(245.00 192.60) scale(0.93 1.0)" font-size="10.0" text-anchor="end">60</text><text transform="translate(245.00 209.90) scale(0.93 1.0)" font-size="10.0" text-anchor="end">40</text><text transform="translate(245.00 227.20) scale(0.93 1.0)" font-size="10.0" text-anchor="end">20</text><text transform="translate(245.00 244.50) scale(0.93 1.0)" font-size="10.0" text-anchor="end">0</text><text transform="translate(245.00 261.80) scale(0.93 1.0)" font-size="10.0" text-anchor="end"><tspan fill="#888" stroke="none">−</tspan>20</text><text transform="translate(247.60 268.90) scale(0.93 1.0)" font-size="10.0" text-anchor="middle"><tspan fill="#888" stroke="none">−</tspan>4</text><text transform="translate(281.23 268.90) scale(0.93 1.0)" font-size="10.0" text-anchor="middle"><tspan fill="#888" stroke="none">−</tspan>3</text><text transform="translate(314.85 268.90) scale(0.93 1.0)" font-size="10.0" text-anchor="middle"><tspan fill="#888" stroke="none">−</tspan>2</text><text transform="translate(348.48 268.90) scale(0.93 1.0)" font-size="10.0" text-anchor="middle"><tspan fill="#888" stroke="none">−</tspan>1</text><text transform="translate(382.10 268.90) scale(0.93 1.0)" font-size="10.0" text-anchor="middle">0</text></g>
<text x="313.45" y="279.80" font-size="9.3" text-anchor="middle" fill="#000" stroke="#000" stroke-width="0.12">lnε</text>
<text transform="translate(228.00 206.30) rotate(-90)" font-size="9.8" text-anchor="middle" fill="#000" stroke="#000" stroke-width="0.18">ln <tspan font-style="italic">u</tspan>(<tspan font-style="italic">q</tspan>,<tspan font-style="italic">ε</tspan>)</text>
<rect x="386.60" y="153.10" width="46.20" height="107.30" fill="#fff" stroke="#555" stroke-width="1"/>
<g><rect x="389.50" y="166.40" width="4.60" height="4.60" fill="#999999"/><path d="M415.50 166.80L417.40 168.70L415.50 170.60L413.60 168.70Z" fill="#4a70b8"/><rect x="389.70" y="175.05" width="4.20" height="4.20" fill="#c0621c"/><path d="M413.80 175.45L417.20 178.85M417.20 175.45L413.80 178.85" stroke="#d4a52a" stroke-width="1.1" fill="none"/><path d="M389.70 183.81L393.90 187.38M393.90 183.81L389.70 187.38M389.70 183.81H393.90M389.70 187.38H393.90" stroke="#3a5aa8" stroke-width="0.8" fill="none"/><circle cx="415.50" cy="185.60" r="2.00" fill="#5b8a2a"/><path d="M389.90 194.05H393.70M391.80 192.15V195.95" stroke="#6f95d6" stroke-width="1" fill="none"/><path d="M414.20 194.05H416.80" stroke="#e0702a" stroke-width="1.2" fill="none"/><path d="M390.00 202.50H393.60" stroke="#a8a8a8" stroke-width="1.2" fill="none"/><path d="M415.50 200.70L417.30 202.50L415.50 204.30L413.70 202.50Z" fill="#eaa820"/><rect x="389.70" y="208.85" width="4.20" height="4.20" fill="#3d64b0"/><path d="M415.50 208.85L417.60 212.63L413.40 212.63Z" fill="#5c9a3a"/><path d="M389.90 217.50L393.70 221.30M393.70 217.50L389.90 221.30" stroke="#9ab8e0" stroke-width="1.1" fill="none"/><path d="M413.60 217.50L417.40 221.30M417.40 217.50L413.60 221.30" stroke="#e8907a" stroke-width="1.1" fill="none"/><circle cx="391.80" cy="227.85" r="2.10" fill="#b8b8b8"/><path d="M413.70 227.85H417.30M415.50 226.05V229.65" stroke="#f7cc8a" stroke-width="1" fill="none"/><path d="M390.60 236.30H393.00" stroke="#5a7ec8" stroke-width="1.2" fill="none"/><path d="M413.70 236.30H417.30" stroke="#8cc070" stroke-width="1.2" fill="none"/><path d="M391.80 242.95L393.60 244.75L391.80 246.55L390.00 244.75Z" fill="#aabfe6"/><rect x="413.40" y="242.65" width="4.20" height="4.20" fill="#f0b8a8"/><path d="M391.80 251.10L393.90 254.88L389.70 254.88Z" fill="#d6d6d6"/></g>
<g font-size="9.3" fill="#000" stroke="#000" stroke-width="0.2"><text x="409.70" y="160.40" font-size="9.8" text-anchor="middle"><tspan font-style="italic">q</tspan>:</text><text transform="translate(396.10 172.30) scale(0.93 1.0)" font-size="10.0"><tspan fill="#888" stroke="none">−</tspan>10</text><text transform="translate(419.80 172.30) scale(0.93 1.0)" font-size="10.0"><tspan fill="#888" stroke="none">−</tspan>9</text><text transform="translate(396.10 180.75) scale(0.93 1.0)" font-size="10.0"><tspan fill="#888" stroke="none">−</tspan>8</text><text transform="translate(419.80 180.75) scale(0.93 1.0)" font-size="10.0"><tspan fill="#888" stroke="none">−</tspan>7</text><text transform="translate(396.10 189.20) scale(0.93 1.0)" font-size="10.0"><tspan fill="#888" stroke="none">−</tspan>6</text><text transform="translate(419.80 189.20) scale(0.93 1.0)" font-size="10.0"><tspan fill="#888" stroke="none">−</tspan>5</text><text transform="translate(396.10 197.65) scale(0.93 1.0)" font-size="10.0"><tspan fill="#888" stroke="none">−</tspan>4</text><text transform="translate(419.80 197.65) scale(0.93 1.0)" font-size="10.0"><tspan fill="#888" stroke="none">−</tspan>3</text><text transform="translate(396.10 206.10) scale(0.93 1.0)" font-size="10.0"><tspan fill="#888" stroke="none">−</tspan>2</text><text transform="translate(419.80 206.10) scale(0.93 1.0)" font-size="10.0"><tspan fill="#888" stroke="none">−</tspan>1</text><text transform="translate(396.10 214.55) scale(0.93 1.0)" font-size="10.0">0</text><text transform="translate(419.80 214.55) scale(0.93 1.0)" font-size="10.0">1</text><text transform="translate(396.10 223.00) scale(0.93 1.0)" font-size="10.0">2</text><text transform="translate(419.80 223.00) scale(0.93 1.0)" font-size="10.0">3</text><text transform="translate(396.10 231.45) scale(0.93 1.0)" font-size="10.0">4</text><text transform="translate(419.80 231.45) scale(0.93 1.0)" font-size="10.0">5</text><text transform="translate(396.10 239.90) scale(0.93 1.0)" font-size="10.0">6</text><text transform="translate(419.80 239.90) scale(0.93 1.0)" font-size="10.0">7</text><text transform="translate(396.10 248.35) scale(0.93 1.0)" font-size="10.0">8</text><text transform="translate(419.80 248.35) scale(0.93 1.0)" font-size="10.0">9</text><text transform="translate(396.10 256.80) scale(0.93 1.0)" font-size="10.0">10</text></g>
<text x="313.20" y="292.50" font-size="9.8" text-anchor="middle" fill="#000" stroke="#000" stroke-width="0.12">(e) Sample 2, after sulfur injection</text>
<g><rect x="476.92" y="168.10" width="4.60" height="4.60" fill="#999999"/><rect x="501.08" y="177.06" width="4.60" height="4.60" fill="#999999"/><rect x="525.23" y="186.25" width="4.60" height="4.60" fill="#999999"/><rect x="549.39" y="198.20" width="4.60" height="4.60" fill="#999999"/><rect x="573.54" y="212.56" width="4.60" height="4.60" fill="#999999"/><rect x="597.70" y="240.99" width="4.60" height="4.60" fill="#999999"/><path d="M479.22 175.59L481.12 177.49L479.22 179.39L477.32 177.49Z" fill="#4a70b8"/><path d="M503.38 183.68L505.28 185.58L503.38 187.48L501.48 185.58Z" fill="#4a70b8"/><path d="M527.53 191.97L529.43 193.87L527.53 195.77L525.63 193.87Z" fill="#4a70b8"/><path d="M551.69 202.76L553.59 204.66L551.69 206.56L549.79 204.66Z" fill="#4a70b8"/><path d="M575.84 215.73L577.74 217.63L575.84 219.53L573.94 217.63Z" fill="#4a70b8"/><path d="M600.00 241.39L601.90 243.29L600.00 245.19L598.10 243.29Z" fill="#4a70b8"/><rect x="477.12" y="182.48" width="4.20" height="4.20" fill="#c0621c"/><rect x="501.28" y="189.70" width="4.20" height="4.20" fill="#c0621c"/><rect x="525.43" y="197.10" width="4.20" height="4.20" fill="#c0621c"/><rect x="549.59" y="206.73" width="4.20" height="4.20" fill="#c0621c"/><rect x="573.74" y="218.29" width="4.20" height="4.20" fill="#c0621c"/><rect x="597.90" y="241.19" width="4.20" height="4.20" fill="#c0621c"/><path d="M477.52 189.97L480.92 193.37M480.92 189.97L477.52 193.37" stroke="#d4a52a" stroke-width="1.1" fill="none"/><path d="M501.68 196.32L505.08 199.72M505.08 196.32L501.68 199.72" stroke="#d4a52a" stroke-width="1.1" fill="none"/><path d="M525.83 202.82L529.23 206.22M529.23 202.82L525.83 206.22" stroke="#d4a52a" stroke-width="1.1" fill="none"/><path d="M549.99 211.29L553.39 214.69M553.39 211.29L549.99 214.69" stroke="#d4a52a" stroke-width="1.1" fill="none"/><path d="M574.14 221.46L577.54 224.86M577.54 221.46L574.14 224.86" stroke="#d4a52a" stroke-width="1.1" fill="none"/><path d="M598.30 241.59L601.70 244.99M601.70 241.59L598.30 244.99" stroke="#d4a52a" stroke-width="1.1" fill="none"/><path d="M477.12 196.98L481.32 200.55M481.32 196.98L477.12 200.55M477.12 196.98H481.32M477.12 200.55H481.32" stroke="#3a5aa8" stroke-width="0.8" fill="none"/><path d="M501.28 202.46L505.48 206.03M505.48 202.46L501.28 206.03M501.28 202.46H505.48M501.28 206.03H505.48" stroke="#3a5aa8" stroke-width="0.8" fill="none"/><path d="M525.43 208.06L529.63 211.63M529.63 208.06L525.43 211.63M525.43 208.06H529.63M525.43 211.63H529.63" stroke="#3a5aa8" stroke-width="0.8" fill="none"/><path d="M549.59 215.37L553.79 218.94M553.79 215.37L549.59 218.94M549.59 215.37H553.79M549.59 218.94H553.79" stroke="#3a5aa8" stroke-width="0.8" fill="none"/><path d="M573.74 224.14L577.94 227.71M577.94 224.14L573.74 227.71M573.74 224.14H577.94M573.74 227.71H577.94" stroke="#3a5aa8" stroke-width="0.8" fill="none"/><path d="M597.90 241.50L602.10 245.07M602.10 241.50L597.90 245.07M597.90 241.50H602.10M597.90 245.07H602.10" stroke="#3a5aa8" stroke-width="0.8" fill="none"/><circle cx="479.22" cy="205.85" r="2.00" fill="#5b8a2a"/><circle cx="503.38" cy="210.46" r="2.00" fill="#5b8a2a"/><circle cx="527.53" cy="215.18" r="2.00" fill="#5b8a2a"/><circle cx="551.69" cy="221.31" r="2.00" fill="#5b8a2a"/><circle cx="575.84" cy="228.69" r="2.00" fill="#5b8a2a"/><circle cx="600.00" cy="243.29" r="2.00" fill="#5b8a2a"/><path d="M477.32 212.95H481.12M479.22 211.05V214.85" stroke="#6f95d6" stroke-width="1" fill="none"/><path d="M501.48 216.68H505.28M503.38 214.78V218.58" stroke="#6f95d6" stroke-width="1" fill="none"/><path d="M525.63 220.50H529.43M527.53 218.60V222.40" stroke="#6f95d6" stroke-width="1" fill="none"/><path d="M549.79 225.48H553.59M551.69 223.58V227.38" stroke="#6f95d6" stroke-width="1" fill="none"/><path d="M573.94 231.45H577.74M575.84 229.55V233.35" stroke="#6f95d6" stroke-width="1" fill="none"/><path d="M598.10 243.29H601.90M600.00 241.39V245.19" stroke="#6f95d6" stroke-width="1" fill="none"/><path d="M477.92 220.04H480.52" stroke="#e0702a" stroke-width="1.2" fill="none"/><path d="M502.08 222.90H504.68" stroke="#e0702a" stroke-width="1.2" fill="none"/><path d="M526.23 225.83H528.83" stroke="#e0702a" stroke-width="1.2" fill="none"/><path d="M550.39 229.64H552.99" stroke="#e0702a" stroke-width="1.2" fill="none"/><path d="M574.54 234.22H577.14" stroke="#e0702a" stroke-width="1.2" fill="none"/><path d="M598.70 243.29H601.30" stroke="#e0702a" stroke-width="1.2" fill="none"/><path d="M477.42 227.13H481.02" stroke="#a8a8a8" stroke-width="1.2" fill="none"/><path d="M501.58 229.12H505.18" stroke="#a8a8a8" stroke-width="1.2" fill="none"/><path d="M525.73 231.15H529.33" stroke="#a8a8a8" stroke-width="1.2" fill="none"/><path d="M549.89 233.80H553.49" stroke="#a8a8a8" stroke-width="1.2" fill="none"/><path d="M574.04 236.98H577.64" stroke="#a8a8a8" stroke-width="1.2" fill="none"/><path d="M598.20 243.29H601.80" stroke="#a8a8a8" stroke-width="1.2" fill="none"/><path d="M479.22 232.42L481.02 234.22L479.22 236.02L477.42 234.22Z" fill="#eaa820"/><path d="M503.38 233.53L505.18 235.33L503.38 237.13L501.58 235.33Z" fill="#eaa820"/><path d="M527.53 234.68L529.33 236.48L527.53 238.28L525.73 236.48Z" fill="#eaa820"/><path d="M551.69 236.16L553.49 237.96L551.69 239.76L549.89 237.96Z" fill="#eaa820"/><path d="M575.84 237.95L577.64 239.75L575.84 241.55L574.04 239.75Z" fill="#eaa820"/><path d="M600.00 241.49L601.80 243.29L600.00 245.09L598.20 243.29Z" fill="#eaa820"/><rect x="477.12" y="237.73" width="4.20" height="4.20" fill="#3d64b0"/><rect x="501.28" y="238.15" width="4.20" height="4.20" fill="#3d64b0"/><rect x="525.43" y="238.59" width="4.20" height="4.20" fill="#3d64b0"/><rect x="549.59" y="239.16" width="4.20" height="4.20" fill="#3d64b0"/><rect x="573.74" y="239.84" width="4.20" height="4.20" fill="#3d64b0"/><rect x="597.90" y="241.19" width="4.20" height="4.20" fill="#3d64b0"/><path d="M479.22 241.19L481.32 244.97L477.12 244.97Z" fill="#5c9a3a"/><path d="M503.38 241.19L505.48 244.97L501.28 244.97Z" fill="#5c9a3a"/><path d="M527.53 241.19L529.63 244.97L525.43 244.97Z" fill="#5c9a3a"/><path d="M551.69 241.19L553.79 244.97L549.59 244.97Z" fill="#5c9a3a"/><path d="M575.84 241.19L577.94 244.97L573.74 244.97Z" fill="#5c9a3a"/><path d="M600.00 241.19L602.10 244.97L597.90 244.97Z" fill="#5c9a3a"/><path d="M477.32 242.52L481.12 246.32M481.12 242.52L477.32 246.32" stroke="#9ab8e0" stroke-width="1.1" fill="none"/><path d="M501.48 242.29L505.28 246.09M505.28 242.29L501.48 246.09" stroke="#9ab8e0" stroke-width="1.1" fill="none"/><path d="M525.63 242.01L529.43 245.81M529.43 242.01L525.63 245.81" stroke="#9ab8e0" stroke-width="1.1" fill="none"/><path d="M549.79 241.72L553.59 245.52M553.59 241.72L549.79 245.52" stroke="#9ab8e0" stroke-width="1.1" fill="none"/><path d="M573.94 241.52L577.74 245.32M577.74 241.52L573.94 245.32" stroke="#9ab8e0" stroke-width="1.1" fill="none"/><path d="M598.10 241.39L601.90 245.19M601.90 241.39L598.10 245.19" stroke="#9ab8e0" stroke-width="1.1" fill="none"/><path d="M477.32 243.65L481.12 247.45M481.12 243.65L477.32 247.45" stroke="#e8907a" stroke-width="1.1" fill="none"/><path d="M501.48 243.19L505.28 246.99M505.28 243.19L501.48 246.99" stroke="#e8907a" stroke-width="1.1" fill="none"/><path d="M525.63 242.63L529.43 246.43M529.43 242.63L525.63 246.43" stroke="#e8907a" stroke-width="1.1" fill="none"/><path d="M549.79 242.06L553.59 245.86M553.59 242.06L549.79 245.86" stroke="#e8907a" stroke-width="1.1" fill="none"/><path d="M573.94 241.66L577.74 245.46M577.74 241.66L573.94 245.46" stroke="#e8907a" stroke-width="1.1" fill="none"/><path d="M598.10 241.39L601.90 245.19M601.90 241.39L598.10 245.19" stroke="#e8907a" stroke-width="1.1" fill="none"/><circle cx="479.22" cy="246.68" r="2.10" fill="#b8b8b8"/><circle cx="503.38" cy="246.00" r="2.10" fill="#b8b8b8"/><circle cx="527.53" cy="245.15" r="2.10" fill="#b8b8b8"/><circle cx="551.69" cy="244.30" r="2.10" fill="#b8b8b8"/><circle cx="575.84" cy="243.69" r="2.10" fill="#b8b8b8"/><circle cx="600.00" cy="243.29" r="2.10" fill="#b8b8b8"/><path d="M477.42 247.81H481.02M479.22 246.01V249.61" stroke="#f7cc8a" stroke-width="1" fill="none"/><path d="M501.58 246.90H505.18M503.38 245.10V248.70" stroke="#f7cc8a" stroke-width="1" fill="none"/><path d="M525.73 245.77H529.33M527.53 243.97V247.57" stroke="#f7cc8a" stroke-width="1" fill="none"/><path d="M549.89 244.64H553.49M551.69 242.84V246.44" stroke="#f7cc8a" stroke-width="1" fill="none"/><path d="M574.04 243.83H577.64M575.84 242.03V245.63" stroke="#f7cc8a" stroke-width="1" fill="none"/><path d="M598.20 243.29H601.80M600.00 241.49V245.09" stroke="#f7cc8a" stroke-width="1" fill="none"/><path d="M478.02 248.94H480.42" stroke="#5a7ec8" stroke-width="1.2" fill="none"/><path d="M502.18 247.81H504.58" stroke="#5a7ec8" stroke-width="1.2" fill="none"/><path d="M526.33 246.39H528.73" stroke="#5a7ec8" stroke-width="1.2" fill="none"/><path d="M550.49 244.98H552.89" stroke="#5a7ec8" stroke-width="1.2" fill="none"/><path d="M574.64 243.96H577.04" stroke="#5a7ec8" stroke-width="1.2" fill="none"/><path d="M598.80 243.29H601.20" stroke="#5a7ec8" stroke-width="1.2" fill="none"/><path d="M477.42 250.07H481.02" stroke="#8cc070" stroke-width="1.2" fill="none"/><path d="M501.58 248.71H505.18" stroke="#8cc070" stroke-width="1.2" fill="none"/><path d="M525.73 247.02H529.33" stroke="#8cc070" stroke-width="1.2" fill="none"/><path d="M549.89 245.32H553.49" stroke="#8cc070" stroke-width="1.2" fill="none"/><path d="M574.04 244.10H577.64" stroke="#8cc070" stroke-width="1.2" fill="none"/><path d="M598.20 243.29H601.80" stroke="#8cc070" stroke-width="1.2" fill="none"/><path d="M479.22 249.40L481.02 251.20L479.22 253.00L477.42 251.20Z" fill="#aabfe6"/><path d="M503.38 247.82L505.18 249.62L503.38 251.42L501.58 249.62Z" fill="#aabfe6"/><path d="M527.53 245.84L529.33 247.64L527.53 249.44L525.73 247.64Z" fill="#aabfe6"/><path d="M551.69 243.86L553.49 245.66L551.69 247.46L549.89 245.66Z" fill="#aabfe6"/><path d="M575.84 242.44L577.64 244.24L575.84 246.04L574.04 244.24Z" fill="#aabfe6"/><path d="M600.00 241.49L601.80 243.29L600.00 245.09L598.20 243.29Z" fill="#aabfe6"/><rect x="477.12" y="250.23" width="4.20" height="4.20" fill="#f0b8a8"/><rect x="501.28" y="248.42" width="4.20" height="4.20" fill="#f0b8a8"/><rect x="525.43" y="246.16" width="4.20" height="4.20" fill="#f0b8a8"/><rect x="549.59" y="243.90" width="4.20" height="4.20" fill="#f0b8a8"/><rect x="573.74" y="242.27" width="4.20" height="4.20" fill="#f0b8a8"/><rect x="597.90" y="241.19" width="4.20" height="4.20" fill="#f0b8a8"/><path d="M479.22 251.36L481.32 255.14L477.12 255.14Z" fill="#d6d6d6"/><path d="M503.38 249.32L505.48 253.10L501.28 253.10Z" fill="#d6d6d6"/><path d="M527.53 246.78L529.63 250.56L525.43 250.56Z" fill="#d6d6d6"/><path d="M551.69 244.24L553.79 248.02L549.59 248.02Z" fill="#d6d6d6"/><path d="M575.84 242.41L577.94 246.19L573.74 246.19Z" fill="#d6d6d6"/><path d="M600.00 241.19L602.10 244.97L597.90 244.97Z" fill="#d6d6d6"/></g>
<path d="M479.22 165.00L600.00 233.98M479.22 172.62L600.00 234.89M479.22 180.23L600.00 235.79M479.22 187.85L600.00 236.70M479.22 195.47L600.00 237.60M479.22 203.08L600.00 238.51M479.22 210.70L600.00 239.41M479.22 218.32L600.00 240.32M479.22 225.93L600.00 241.22M479.22 233.55L600.00 242.13M479.22 239.57L600.00 242.84M479.22 243.29L600.00 243.29" stroke="#000" stroke-width="0.85" fill="none"/>
<path d="M479.22 244.40L600.00 243.22M479.22 245.51L600.00 243.15M479.22 246.62L600.00 243.09M479.22 247.73L600.00 243.02M479.22 248.84L600.00 242.95M479.22 249.95L600.00 242.89M479.22 251.06L600.00 242.82M479.22 252.17L600.00 242.75M479.22 253.28L600.00 242.69" stroke="#000" stroke-width="0.75" fill="none"/>
<path d="M460.60 153.90V258.10H600.50" stroke="#2a2a2a" stroke-width="1.2" fill="none"/>
<path d="M460.60 154.40h2.2M460.60 169.21h2.2M460.60 184.03h2.2M460.60 198.84h2.2M460.60 213.66h2.2M460.60 228.47h2.2M460.60 243.29h2.2M460.60 258.10h2.2M460.60 258.10v-2.2M495.45 258.10v-2.2M530.30 258.10v-2.2M565.15 258.10v-2.2M600.00 258.10v-2.2" stroke="#333" stroke-width="0.9" fill="none"/>
<g font-size="9.3" fill="#000" stroke="#000" stroke-width="0.2"><text transform="translate(458.00 158.00) scale(0.93 1.0)" font-size="10.0" text-anchor="end">90</text><text transform="translate(458.00 172.81) scale(0.93 1.0)" font-size="10.0" text-anchor="end">75</text><text transform="translate(458.00 187.63) scale(0.93 1.0)" font-size="10.0" text-anchor="end">60</text><text transform="translate(458.00 202.44) scale(0.93 1.0)" font-size="10.0" text-anchor="end">45</text><text transform="translate(458.00 217.26) scale(0.93 1.0)" font-size="10.0" text-anchor="end">30</text><text transform="translate(458.00 232.07) scale(0.93 1.0)" font-size="10.0" text-anchor="end">15</text><text transform="translate(458.00 246.89) scale(0.93 1.0)" font-size="10.0" text-anchor="end">0</text><text transform="translate(458.00 261.70) scale(0.93 1.0)" font-size="10.0" text-anchor="end"><tspan fill="#888" stroke="none">−</tspan>15</text><text transform="translate(460.60 268.80) scale(0.93 1.0)" font-size="10.0" text-anchor="middle"><tspan fill="#888" stroke="none">−</tspan>4</text><text transform="translate(495.45 268.80) scale(0.93 1.0)" font-size="10.0" text-anchor="middle"><tspan fill="#888" stroke="none">−</tspan>3</text><text transform="translate(530.30 268.80) scale(0.93 1.0)" font-size="10.0" text-anchor="middle"><tspan fill="#888" stroke="none">−</tspan>2</text><text transform="translate(565.15 268.80) scale(0.93 1.0)" font-size="10.0" text-anchor="middle"><tspan fill="#888" stroke="none">−</tspan>1</text><text transform="translate(600.00 268.80) scale(0.93 1.0)" font-size="10.0" text-anchor="middle">0</text></g>
<text x="529.85" y="279.70" font-size="9.3" text-anchor="middle" fill="#000" stroke="#000" stroke-width="0.12">lnε</text>
<text transform="translate(442.80 206.25) rotate(-90)" font-size="9.8" text-anchor="middle" fill="#000" stroke="#000" stroke-width="0.18">ln <tspan font-style="italic">u</tspan>(<tspan font-style="italic">q</tspan>,<tspan font-style="italic">ε</tspan>)</text>
<rect x="603.50" y="153.10" width="45.70" height="107.30" fill="#fff" stroke="#333" stroke-width="1"/>
<g><rect x="606.40" y="166.40" width="4.60" height="4.60" fill="#999999"/><path d="M632.40 166.80L634.30 168.70L632.40 170.60L630.50 168.70Z" fill="#4a70b8"/><rect x="606.60" y="175.05" width="4.20" height="4.20" fill="#c0621c"/><path d="M630.70 175.45L634.10 178.85M634.10 175.45L630.70 178.85" stroke="#d4a52a" stroke-width="1.1" fill="none"/><path d="M606.60 183.81L610.80 187.38M610.80 183.81L606.60 187.38M606.60 183.81H610.80M606.60 187.38H610.80" stroke="#3a5aa8" stroke-width="0.8" fill="none"/><circle cx="632.40" cy="185.60" r="2.00" fill="#5b8a2a"/><path d="M606.80 194.05H610.60M608.70 192.15V195.95" stroke="#6f95d6" stroke-width="1" fill="none"/><path d="M631.10 194.05H633.70" stroke="#e0702a" stroke-width="1.2" fill="none"/><path d="M606.90 202.50H610.50" stroke="#a8a8a8" stroke-width="1.2" fill="none"/><path d="M632.40 200.70L634.20 202.50L632.40 204.30L630.60 202.50Z" fill="#eaa820"/><rect x="606.60" y="208.85" width="4.20" height="4.20" fill="#3d64b0"/><path d="M632.40 208.85L634.50 212.63L630.30 212.63Z" fill="#5c9a3a"/><path d="M606.80 217.50L610.60 221.30M610.60 217.50L606.80 221.30" stroke="#9ab8e0" stroke-width="1.1" fill="none"/><path d="M630.50 217.50L634.30 221.30M634.30 217.50L630.50 221.30" stroke="#e8907a" stroke-width="1.1" fill="none"/><circle cx="608.70" cy="227.85" r="2.10" fill="#b8b8b8"/><path d="M630.60 227.85H634.20M632.40 226.05V229.65" stroke="#f7cc8a" stroke-width="1" fill="none"/><path d="M607.50 236.30H609.90" stroke="#5a7ec8" stroke-width="1.2" fill="none"/><path d="M630.60 236.30H634.20" stroke="#8cc070" stroke-width="1.2" fill="none"/><path d="M608.70 242.95L610.50 244.75L608.70 246.55L606.90 244.75Z" fill="#aabfe6"/><rect x="630.30" y="242.65" width="4.20" height="4.20" fill="#f0b8a8"/><path d="M608.70 251.10L610.80 254.88L606.60 254.88Z" fill="#d6d6d6"/></g>
<g font-size="9.3" fill="#000" stroke="#000" stroke-width="0.2"><text x="626.35" y="160.40" font-size="9.8" text-anchor="middle"><tspan font-style="italic">q</tspan>:</text><text transform="translate(613.00 172.30) scale(0.93 1.0)" font-size="10.0"><tspan fill="#888" stroke="none">−</tspan>10</text><text transform="translate(636.70 172.30) scale(0.93 1.0)" font-size="10.0"><tspan fill="#888" stroke="none">−</tspan>9</text><text transform="translate(613.00 180.75) scale(0.93 1.0)" font-size="10.0"><tspan fill="#888" stroke="none">−</tspan>8</text><text transform="translate(636.70 180.75) scale(0.93 1.0)" font-size="10.0"><tspan fill="#888" stroke="none">−</tspan>7</text><text transform="translate(613.00 189.20) scale(0.93 1.0)" font-size="10.0"><tspan fill="#888" stroke="none">−</tspan>6</text><text transform="translate(636.70 189.20) scale(0.93 1.0)" font-size="10.0"><tspan fill="#888" stroke="none">−</tspan>5</text><text transform="translate(613.00 197.65) scale(0.93 1.0)" font-size="10.0"><tspan fill="#888" stroke="none">−</tspan>4</text><text transform="translate(636.70 197.65) scale(0.93 1.0)" font-size="10.0"><tspan fill="#888" stroke="none">−</tspan>3</text><text transform="translate(613.00 206.10) scale(0.93 1.0)" font-size="10.0"><tspan fill="#888" stroke="none">−</tspan>2</text><text transform="translate(636.70 206.10) scale(0.93 1.0)" font-size="10.0"><tspan fill="#888" stroke="none">−</tspan>1</text><text transform="translate(613.00 214.55) scale(0.93 1.0)" font-size="10.0">0</text><text transform="translate(636.70 214.55) scale(0.93 1.0)" font-size="10.0">1</text><text transform="translate(613.00 223.00) scale(0.93 1.0)" font-size="10.0">2</text><text transform="translate(636.70 223.00) scale(0.93 1.0)" font-size="10.0">3</text><text transform="translate(613.00 231.45) scale(0.93 1.0)" font-size="10.0">4</text><text transform="translate(636.70 231.45) scale(0.93 1.0)" font-size="10.0">5</text><text transform="translate(613.00 239.90) scale(0.93 1.0)" font-size="10.0">6</text><text transform="translate(636.70 239.90) scale(0.93 1.0)" font-size="10.0">7</text><text transform="translate(613.00 248.35) scale(0.93 1.0)" font-size="10.0">8</text><text transform="translate(636.70 248.35) scale(0.93 1.0)" font-size="10.0">9</text><text transform="translate(613.00 256.80) scale(0.93 1.0)" font-size="10.0">10</text></g>
<text x="529.80" y="292.50" font-size="9.8" text-anchor="middle" fill="#000" stroke="#000" stroke-width="0.12">(f) Sample 2, after gas flooding</text>
<g><rect x="44.29" y="318.47" width="4.60" height="4.60" fill="#999999"/><rect x="68.41" y="326.45" width="4.60" height="4.60" fill="#999999"/><rect x="92.54" y="336.12" width="4.60" height="4.60" fill="#999999"/><rect x="116.66" y="347.11" width="4.60" height="4.60" fill="#999999"/><rect x="140.78" y="359.90" width="4.60" height="4.60" fill="#999999"/><rect x="164.90" y="378.52" width="4.60" height="4.60" fill="#999999"/><path d="M46.59 324.69L48.49 326.59L46.59 328.49L44.69 326.59Z" fill="#4a70b8"/><path d="M70.71 331.90L72.61 333.80L70.71 335.70L68.81 333.80Z" fill="#4a70b8"/><path d="M94.84 340.63L96.74 342.53L94.84 344.43L92.94 342.53Z" fill="#4a70b8"/><path d="M118.96 350.56L120.86 352.46L118.96 354.36L117.06 352.46Z" fill="#4a70b8"/><path d="M143.08 362.11L144.98 364.01L143.08 365.91L141.18 364.01Z" fill="#4a70b8"/><path d="M167.20 378.92L169.10 380.82L167.20 382.72L165.30 380.82Z" fill="#4a70b8"/><rect x="44.49" y="330.32" width="4.20" height="4.20" fill="#c0621c"/><rect x="68.61" y="336.76" width="4.20" height="4.20" fill="#c0621c"/><rect x="92.74" y="344.55" width="4.20" height="4.20" fill="#c0621c"/><rect x="116.86" y="353.41" width="4.20" height="4.20" fill="#c0621c"/><rect x="140.98" y="363.71" width="4.20" height="4.20" fill="#c0621c"/><rect x="165.10" y="378.72" width="4.20" height="4.20" fill="#c0621c"/><path d="M44.89 336.54L48.29 339.94M48.29 336.54L44.89 339.94" stroke="#d4a52a" stroke-width="1.1" fill="none"/><path d="M69.01 342.21L72.41 345.61M72.41 342.21L69.01 345.61" stroke="#d4a52a" stroke-width="1.1" fill="none"/><path d="M93.14 349.06L96.54 352.46M96.54 349.06L93.14 352.46" stroke="#d4a52a" stroke-width="1.1" fill="none"/><path d="M117.26 356.85L120.66 360.25M120.66 356.85L117.26 360.25" stroke="#d4a52a" stroke-width="1.1" fill="none"/><path d="M141.38 365.92L144.78 369.32M144.78 365.92L141.38 369.32" stroke="#d4a52a" stroke-width="1.1" fill="none"/><path d="M165.50 379.12L168.90 382.52M168.90 379.12L165.50 382.52" stroke="#d4a52a" stroke-width="1.1" fill="none"/><path d="M44.49 342.29L48.69 345.86M48.69 342.29L44.49 345.86M44.49 342.29H48.69M44.49 345.86H48.69" stroke="#3a5aa8" stroke-width="0.8" fill="none"/><path d="M68.61 347.17L72.81 350.74M72.81 347.17L68.61 350.74M68.61 347.17H72.81M68.61 350.74H72.81" stroke="#3a5aa8" stroke-width="0.8" fill="none"/><path d="M92.74 353.09L96.94 356.66M96.94 353.09L92.74 356.66M92.74 353.09H96.94M92.74 356.66H96.94" stroke="#3a5aa8" stroke-width="0.8" fill="none"/><path d="M116.86 359.81L121.06 363.38M121.06 359.81L116.86 363.38M116.86 359.81H121.06M116.86 363.38H121.06" stroke="#3a5aa8" stroke-width="0.8" fill="none"/><path d="M140.98 367.64L145.18 371.21M145.18 367.64L140.98 371.21M140.98 367.64H145.18M140.98 371.21H145.18" stroke="#3a5aa8" stroke-width="0.8" fill="none"/><path d="M165.10 379.03L169.30 382.60M169.30 379.03L165.10 382.60M165.10 379.03H169.30M165.10 382.60H169.30" stroke="#3a5aa8" stroke-width="0.8" fill="none"/><circle cx="46.59" cy="349.90" r="2.00" fill="#5b8a2a"/><circle cx="70.71" cy="354.01" r="2.00" fill="#5b8a2a"/><circle cx="94.84" cy="358.99" r="2.00" fill="#5b8a2a"/><circle cx="118.96" cy="364.65" r="2.00" fill="#5b8a2a"/><circle cx="143.08" cy="371.23" r="2.00" fill="#5b8a2a"/><circle cx="167.20" cy="380.82" r="2.00" fill="#5b8a2a"/><path d="M44.69 355.72H48.49M46.59 353.82V357.62" stroke="#6f95d6" stroke-width="1" fill="none"/><path d="M68.81 359.06H72.61M70.71 357.16V360.96" stroke="#6f95d6" stroke-width="1" fill="none"/><path d="M92.94 363.10H96.74M94.84 361.20V365.00" stroke="#6f95d6" stroke-width="1" fill="none"/><path d="M117.06 367.69H120.86M118.96 365.79V369.59" stroke="#6f95d6" stroke-width="1" fill="none"/><path d="M141.18 373.04H144.98M143.08 371.14V374.94" stroke="#6f95d6" stroke-width="1" fill="none"/><path d="M165.30 380.82H169.10M167.20 378.92V382.72" stroke="#6f95d6" stroke-width="1" fill="none"/><path d="M45.29 361.55H47.89" stroke="#e0702a" stroke-width="1.2" fill="none"/><path d="M69.41 364.11H72.01" stroke="#e0702a" stroke-width="1.2" fill="none"/><path d="M93.54 367.21H96.14" stroke="#e0702a" stroke-width="1.2" fill="none"/><path d="M117.66 370.74H120.26" stroke="#e0702a" stroke-width="1.2" fill="none"/><path d="M141.78 374.84H144.38" stroke="#e0702a" stroke-width="1.2" fill="none"/><path d="M165.90 380.82H168.50" stroke="#e0702a" stroke-width="1.2" fill="none"/><path d="M44.79 367.37H48.39" stroke="#a8a8a8" stroke-width="1.2" fill="none"/><path d="M68.91 369.16H72.51" stroke="#a8a8a8" stroke-width="1.2" fill="none"/><path d="M93.04 371.33H96.64" stroke="#a8a8a8" stroke-width="1.2" fill="none"/><path d="M117.16 373.79H120.76" stroke="#a8a8a8" stroke-width="1.2" fill="none"/><path d="M141.28 376.65H144.88" stroke="#a8a8a8" stroke-width="1.2" fill="none"/><path d="M165.40 380.82H169.00" stroke="#a8a8a8" stroke-width="1.2" fill="none"/><path d="M46.59 371.40L48.39 373.20L46.59 375.00L44.79 373.20Z" fill="#eaa820"/><path d="M70.71 372.41L72.51 374.21L70.71 376.01L68.91 374.21Z" fill="#eaa820"/><path d="M94.84 373.64L96.64 375.44L94.84 377.24L93.04 375.44Z" fill="#eaa820"/><path d="M118.96 375.03L120.76 376.83L118.96 378.63L117.16 376.83Z" fill="#eaa820"/><path d="M143.08 376.66L144.88 378.46L143.08 380.26L141.28 378.46Z" fill="#eaa820"/><path d="M167.20 379.02L169.00 380.82L167.20 382.62L165.40 380.82Z" fill="#eaa820"/><rect x="44.49" y="375.04" width="4.20" height="4.20" fill="#3d64b0"/><rect x="68.61" y="375.53" width="4.20" height="4.20" fill="#3d64b0"/><rect x="92.74" y="376.12" width="4.20" height="4.20" fill="#3d64b0"/><rect x="116.86" y="376.80" width="4.20" height="4.20" fill="#3d64b0"/><rect x="140.98" y="377.58" width="4.20" height="4.20" fill="#3d64b0"/><rect x="165.10" y="378.72" width="4.20" height="4.20" fill="#3d64b0"/><path d="M46.59 378.72L48.69 382.50L44.49 382.50Z" fill="#5c9a3a"/><path d="M70.71 378.72L72.81 382.50L68.61 382.50Z" fill="#5c9a3a"/><path d="M94.84 378.72L96.94 382.50L92.74 382.50Z" fill="#5c9a3a"/><path d="M118.96 378.72L121.06 382.50L116.86 382.50Z" fill="#5c9a3a"/><path d="M143.08 378.72L145.18 382.50L140.98 382.50Z" fill="#5c9a3a"/><path d="M167.20 378.72L169.30 382.50L165.10 382.50Z" fill="#5c9a3a"/><path d="M44.69 381.12L48.49 384.92M48.49 381.12L44.69 384.92" stroke="#9ab8e0" stroke-width="1.1" fill="none"/><path d="M68.81 380.81L72.61 384.61M72.61 380.81L68.81 384.61" stroke="#9ab8e0" stroke-width="1.1" fill="none"/><path d="M92.94 380.26L96.74 384.06M96.74 380.26L92.94 384.06" stroke="#9ab8e0" stroke-width="1.1" fill="none"/><path d="M117.06 379.58L120.86 383.38M120.86 379.58L117.06 383.38" stroke="#9ab8e0" stroke-width="1.1" fill="none"/><path d="M141.18 379.14L144.98 382.94M144.98 379.14L141.18 382.94" stroke="#9ab8e0" stroke-width="1.1" fill="none"/><path d="M165.30 378.92L169.10 382.72M169.10 378.92L165.30 382.72" stroke="#9ab8e0" stroke-width="1.1" fill="none"/><path d="M44.69 383.32L48.49 387.12M48.49 383.32L44.69 387.12" stroke="#e8907a" stroke-width="1.1" fill="none"/><path d="M68.81 382.70L72.61 386.50M72.61 382.70L68.81 386.50" stroke="#e8907a" stroke-width="1.1" fill="none"/><path d="M92.94 381.60L96.74 385.40M96.74 381.60L92.94 385.40" stroke="#e8907a" stroke-width="1.1" fill="none"/><path d="M117.06 380.24L120.86 384.04M120.86 380.24L117.06 384.04" stroke="#e8907a" stroke-width="1.1" fill="none"/><path d="M141.18 379.36L144.98 383.16M144.98 379.36L141.18 383.16" stroke="#e8907a" stroke-width="1.1" fill="none"/><path d="M165.30 378.92L169.10 382.72M169.10 378.92L165.30 382.72" stroke="#e8907a" stroke-width="1.1" fill="none"/><circle cx="46.59" cy="387.42" r="2.10" fill="#b8b8b8"/><circle cx="70.71" cy="386.49" r="2.10" fill="#b8b8b8"/><circle cx="94.84" cy="384.84" r="2.10" fill="#b8b8b8"/><circle cx="118.96" cy="382.80" r="2.10" fill="#b8b8b8"/><circle cx="143.08" cy="381.48" r="2.10" fill="#b8b8b8"/><circle cx="167.20" cy="380.82" r="2.10" fill="#b8b8b8"/><path d="M44.79 389.62H48.39M46.59 387.82V391.42" stroke="#f7cc8a" stroke-width="1" fill="none"/><path d="M68.91 388.39H72.51M70.71 386.59V390.19" stroke="#f7cc8a" stroke-width="1" fill="none"/><path d="M93.04 386.19H96.64M94.84 384.39V387.99" stroke="#f7cc8a" stroke-width="1" fill="none"/><path d="M117.16 383.46H120.76M118.96 381.66V385.26" stroke="#f7cc8a" stroke-width="1" fill="none"/><path d="M141.28 381.70H144.88M143.08 379.90V383.50" stroke="#f7cc8a" stroke-width="1" fill="none"/><path d="M165.40 380.82H169.00M167.20 379.02V382.62" stroke="#f7cc8a" stroke-width="1" fill="none"/><path d="M45.39 391.82H47.79" stroke="#5a7ec8" stroke-width="1.2" fill="none"/><path d="M69.51 390.28H71.91" stroke="#5a7ec8" stroke-width="1.2" fill="none"/><path d="M93.64 387.53H96.04" stroke="#5a7ec8" stroke-width="1.2" fill="none"/><path d="M117.76 384.12H120.16" stroke="#5a7ec8" stroke-width="1.2" fill="none"/><path d="M141.88 381.92H144.28" stroke="#5a7ec8" stroke-width="1.2" fill="none"/><path d="M166.00 380.82H168.40" stroke="#5a7ec8" stroke-width="1.2" fill="none"/><path d="M44.79 394.02H48.39" stroke="#8cc070" stroke-width="1.2" fill="none"/><path d="M68.91 392.17H72.51" stroke="#8cc070" stroke-width="1.2" fill="none"/><path d="M93.04 388.87H96.64" stroke="#8cc070" stroke-width="1.2" fill="none"/><path d="M117.16 384.78H120.76" stroke="#8cc070" stroke-width="1.2" fill="none"/><path d="M141.28 382.14H144.88" stroke="#8cc070" stroke-width="1.2" fill="none"/><path d="M165.40 380.82H169.00" stroke="#8cc070" stroke-width="1.2" fill="none"/><path d="M46.59 394.42L48.39 396.22L46.59 398.02L44.79 396.22Z" fill="#aabfe6"/><path d="M70.71 392.26L72.51 394.06L70.71 395.86L68.91 394.06Z" fill="#aabfe6"/><path d="M94.84 388.41L96.64 390.21L94.84 392.01L93.04 390.21Z" fill="#aabfe6"/><path d="M118.96 383.64L120.76 385.44L118.96 387.24L117.16 385.44Z" fill="#aabfe6"/><path d="M143.08 380.56L144.88 382.36L143.08 384.16L141.28 382.36Z" fill="#aabfe6"/><path d="M167.20 379.02L169.00 380.82L167.20 382.62L165.40 380.82Z" fill="#aabfe6"/><rect x="44.49" y="396.32" width="4.20" height="4.20" fill="#f0b8a8"/><rect x="68.61" y="393.85" width="4.20" height="4.20" fill="#f0b8a8"/><rect x="92.74" y="389.45" width="4.20" height="4.20" fill="#f0b8a8"/><rect x="116.86" y="384.00" width="4.20" height="4.20" fill="#f0b8a8"/><rect x="140.98" y="380.48" width="4.20" height="4.20" fill="#f0b8a8"/><rect x="165.10" y="378.72" width="4.20" height="4.20" fill="#f0b8a8"/><path d="M46.59 398.52L48.69 402.30L44.49 402.30Z" fill="#d6d6d6"/><path d="M70.71 395.74L72.81 399.52L68.61 399.52Z" fill="#d6d6d6"/><path d="M94.84 390.79L96.94 394.57L92.74 394.57Z" fill="#d6d6d6"/><path d="M118.96 384.66L121.06 388.44L116.86 388.44Z" fill="#d6d6d6"/><path d="M143.08 380.70L145.18 384.48L140.98 384.48Z" fill="#d6d6d6"/><path d="M167.20 378.72L169.30 382.50L165.10 382.50Z" fill="#d6d6d6"/></g>
<path d="M46.59 317.33L167.20 376.13M46.59 323.49L167.20 376.58M46.59 329.65L167.20 377.04M46.59 335.81L167.20 377.49M46.59 341.97L167.20 377.95M46.59 348.13L167.20 378.40M46.59 354.29L167.20 378.86M46.59 360.45L167.20 379.31M46.59 366.61L167.20 379.77M46.59 372.76L167.20 380.22M46.59 376.93L167.20 380.53M46.59 380.82L167.20 380.82" stroke="#000" stroke-width="0.85" fill="none"/>
<path d="M46.59 383.06L167.20 380.68M46.59 385.31L167.20 380.54M46.59 387.55L167.20 380.40M46.59 389.80L167.20 380.26M46.59 392.04L167.20 380.12M46.59 394.29L167.20 379.98M46.59 396.53L167.20 379.84M46.59 398.78L167.20 379.70M46.59 401.02L167.20 379.55" stroke="#000" stroke-width="0.75" fill="none"/>
<path d="M28.00 304.90V409.10H167.70" stroke="#7a7a7a" stroke-width="1.2" fill="none"/>
<path d="M28.00 305.40h2.2M28.00 314.83h2.2M28.00 324.25h2.2M28.00 333.68h2.2M28.00 343.11h2.2M28.00 352.54h2.2M28.00 361.96h2.2M28.00 371.39h2.2M28.00 380.82h2.2M28.00 390.25h2.2M28.00 399.67h2.2M28.00 409.10h2.2M28.00 409.10v-2.2M62.80 409.10v-2.2M97.60 409.10v-2.2M132.40 409.10v-2.2M167.20 409.10v-2.2" stroke="#333" stroke-width="0.9" fill="none"/>
<g font-size="9.3" fill="#000" stroke="#000" stroke-width="0.2"><text transform="translate(25.40 309.00) scale(0.93 1.0)" font-size="10.0" text-anchor="end">80</text><text transform="translate(25.40 318.43) scale(0.93 1.0)" font-size="10.0" text-anchor="end">70</text><text transform="translate(25.40 327.85) scale(0.93 1.0)" font-size="10.0" text-anchor="end">60</text><text transform="translate(25.40 337.28) scale(0.93 1.0)" font-size="10.0" text-anchor="end">50</text><text transform="translate(25.40 346.71) scale(0.93 1.0)" font-size="10.0" text-anchor="end">40</text><text transform="translate(25.40 356.14) scale(0.93 1.0)" font-size="10.0" text-anchor="end">30</text><text transform="translate(25.40 365.56) scale(0.93 1.0)" font-size="10.0" text-anchor="end">20</text><text transform="translate(25.40 374.99) scale(0.93 1.0)" font-size="10.0" text-anchor="end">10</text><text transform="translate(25.40 384.42) scale(0.93 1.0)" font-size="10.0" text-anchor="end">0</text><text transform="translate(25.40 393.85) scale(0.93 1.0)" font-size="10.0" text-anchor="end"><tspan fill="#888" stroke="none">−</tspan>10</text><text transform="translate(25.40 403.27) scale(0.93 1.0)" font-size="10.0" text-anchor="end"><tspan fill="#888" stroke="none">−</tspan>20</text><text transform="translate(25.40 412.70) scale(0.93 1.0)" font-size="10.0" text-anchor="end"><tspan fill="#888" stroke="none">−</tspan>30</text><text transform="translate(28.00 419.70) scale(0.93 1.0)" font-size="10.0" text-anchor="middle"><tspan fill="#888" stroke="none">−</tspan>4</text><text transform="translate(62.80 419.70) scale(0.93 1.0)" font-size="10.0" text-anchor="middle"><tspan fill="#888" stroke="none">−</tspan>3</text><text transform="translate(97.60 419.70) scale(0.93 1.0)" font-size="10.0" text-anchor="middle"><tspan fill="#888" stroke="none">−</tspan>2</text><text transform="translate(132.40 419.70) scale(0.93 1.0)" font-size="10.0" text-anchor="middle"><tspan fill="#888" stroke="none">−</tspan>1</text><text transform="translate(167.20 419.70) scale(0.93 1.0)" font-size="10.0" text-anchor="middle">0</text></g>
<text x="97.55" y="430.50" font-size="9.3" text-anchor="middle" fill="#000" stroke="#000" stroke-width="0.12">lnε</text>
<text transform="translate(7.50 357.25) rotate(-90)" font-size="9.8" text-anchor="middle" fill="#000" stroke="#000" stroke-width="0.18">ln <tspan font-style="italic">u</tspan>(<tspan font-style="italic">q</tspan>,<tspan font-style="italic">ε</tspan>)</text>
<rect x="171.60" y="303.70" width="46.00" height="107.30" fill="#fff" stroke="#555" stroke-width="1"/>
<g><rect x="174.50" y="317.00" width="4.60" height="4.60" fill="#999999"/><path d="M200.50 317.40L202.40 319.30L200.50 321.20L198.60 319.30Z" fill="#4a70b8"/><rect x="174.70" y="325.65" width="4.20" height="4.20" fill="#c0621c"/><path d="M198.80 326.05L202.20 329.45M202.20 326.05L198.80 329.45" stroke="#d4a52a" stroke-width="1.1" fill="none"/><path d="M174.70 334.41L178.90 337.99M178.90 334.41L174.70 337.99M174.70 334.41H178.90M174.70 337.99H178.90" stroke="#3a5aa8" stroke-width="0.8" fill="none"/><circle cx="200.50" cy="336.20" r="2.00" fill="#5b8a2a"/><path d="M174.90 344.65H178.70M176.80 342.75V346.55" stroke="#6f95d6" stroke-width="1" fill="none"/><path d="M199.20 344.65H201.80" stroke="#e0702a" stroke-width="1.2" fill="none"/><path d="M175.00 353.10H178.60" stroke="#a8a8a8" stroke-width="1.2" fill="none"/><path d="M200.50 351.30L202.30 353.10L200.50 354.90L198.70 353.10Z" fill="#eaa820"/><rect x="174.70" y="359.45" width="4.20" height="4.20" fill="#3d64b0"/><path d="M200.50 359.45L202.60 363.23L198.40 363.23Z" fill="#5c9a3a"/><path d="M174.90 368.10L178.70 371.90M178.70 368.10L174.90 371.90" stroke="#9ab8e0" stroke-width="1.1" fill="none"/><path d="M198.60 368.10L202.40 371.90M202.40 368.10L198.60 371.90" stroke="#e8907a" stroke-width="1.1" fill="none"/><circle cx="176.80" cy="378.45" r="2.10" fill="#b8b8b8"/><path d="M198.70 378.45H202.30M200.50 376.65V380.25" stroke="#f7cc8a" stroke-width="1" fill="none"/><path d="M175.60 386.90H178.00" stroke="#5a7ec8" stroke-width="1.2" fill="none"/><path d="M198.70 386.90H202.30" stroke="#8cc070" stroke-width="1.2" fill="none"/><path d="M176.80 393.55L178.60 395.35L176.80 397.15L175.00 395.35Z" fill="#aabfe6"/><rect x="198.40" y="393.25" width="4.20" height="4.20" fill="#f0b8a8"/><path d="M176.80 401.70L178.90 405.48L174.70 405.48Z" fill="#d6d6d6"/></g>
<g font-size="9.3" fill="#000" stroke="#000" stroke-width="0.2"><text x="194.60" y="311.00" font-size="9.8" text-anchor="middle"><tspan font-style="italic">q</tspan>:</text><text transform="translate(181.10 322.90) scale(0.93 1.0)" font-size="10.0"><tspan fill="#888" stroke="none">−</tspan>10</text><text transform="translate(204.80 322.90) scale(0.93 1.0)" font-size="10.0"><tspan fill="#888" stroke="none">−</tspan>9</text><text transform="translate(181.10 331.35) scale(0.93 1.0)" font-size="10.0"><tspan fill="#888" stroke="none">−</tspan>8</text><text transform="translate(204.80 331.35) scale(0.93 1.0)" font-size="10.0"><tspan fill="#888" stroke="none">−</tspan>7</text><text transform="translate(181.10 339.80) scale(0.93 1.0)" font-size="10.0"><tspan fill="#888" stroke="none">−</tspan>6</text><text transform="translate(204.80 339.80) scale(0.93 1.0)" font-size="10.0"><tspan fill="#888" stroke="none">−</tspan>5</text><text transform="translate(181.10 348.25) scale(0.93 1.0)" font-size="10.0"><tspan fill="#888" stroke="none">−</tspan>4</text><text transform="translate(204.80 348.25) scale(0.93 1.0)" font-size="10.0"><tspan fill="#888" stroke="none">−</tspan>3</text><text transform="translate(181.10 356.70) scale(0.93 1.0)" font-size="10.0"><tspan fill="#888" stroke="none">−</tspan>2</text><text transform="translate(204.80 356.70) scale(0.93 1.0)" font-size="10.0"><tspan fill="#888" stroke="none">−</tspan>1</text><text transform="translate(181.10 365.15) scale(0.93 1.0)" font-size="10.0">0</text><text transform="translate(204.80 365.15) scale(0.93 1.0)" font-size="10.0">1</text><text transform="translate(181.10 373.60) scale(0.93 1.0)" font-size="10.0">2</text><text transform="translate(204.80 373.60) scale(0.93 1.0)" font-size="10.0">3</text><text transform="translate(181.10 382.05) scale(0.93 1.0)" font-size="10.0">4</text><text transform="translate(204.80 382.05) scale(0.93 1.0)" font-size="10.0">5</text><text transform="translate(181.10 390.50) scale(0.93 1.0)" font-size="10.0">6</text><text transform="translate(204.80 390.50) scale(0.93 1.0)" font-size="10.0">7</text><text transform="translate(181.10 398.95) scale(0.93 1.0)" font-size="10.0">8</text><text transform="translate(204.80 398.95) scale(0.93 1.0)" font-size="10.0">9</text><text transform="translate(181.10 407.40) scale(0.93 1.0)" font-size="10.0">10</text></g>
<text x="97.50" y="443.10" font-size="9.8" text-anchor="middle" fill="#000" stroke="#000" stroke-width="0.12">(g) Sample 3, in original state</text>
<g><rect x="263.18" y="316.35" width="4.60" height="4.60" fill="#999999"/><rect x="286.50" y="323.97" width="4.60" height="4.60" fill="#999999"/><rect x="309.83" y="333.43" width="4.60" height="4.60" fill="#999999"/><rect x="333.15" y="343.26" width="4.60" height="4.60" fill="#999999"/><rect x="356.48" y="354.56" width="4.60" height="4.60" fill="#999999"/><rect x="379.80" y="389.68" width="4.60" height="4.60" fill="#999999"/><path d="M265.48 323.86L267.38 325.76L265.48 327.66L263.58 325.76Z" fill="#4a70b8"/><path d="M288.80 330.75L290.70 332.65L288.80 334.55L286.90 332.65Z" fill="#4a70b8"/><path d="M312.13 339.29L314.03 341.19L312.13 343.09L310.23 341.19Z" fill="#4a70b8"/><path d="M335.45 348.17L337.35 350.07L335.45 351.97L333.55 350.07Z" fill="#4a70b8"/><path d="M358.78 358.36L360.68 360.26L358.78 362.16L356.88 360.26Z" fill="#4a70b8"/><path d="M382.10 390.08L384.00 391.98L382.10 393.88L380.20 391.98Z" fill="#4a70b8"/><rect x="263.38" y="330.78" width="4.20" height="4.20" fill="#c0621c"/><rect x="286.70" y="336.93" width="4.20" height="4.20" fill="#c0621c"/><rect x="310.03" y="344.55" width="4.20" height="4.20" fill="#c0621c"/><rect x="333.35" y="352.47" width="4.20" height="4.20" fill="#c0621c"/><rect x="356.68" y="361.57" width="4.20" height="4.20" fill="#c0621c"/><rect x="380.00" y="389.88" width="4.20" height="4.20" fill="#c0621c"/><path d="M263.78 338.30L267.18 341.70M267.18 338.30L263.78 341.70" stroke="#d4a52a" stroke-width="1.1" fill="none"/><path d="M287.10 343.71L290.50 347.11M290.50 343.71L287.10 347.11" stroke="#d4a52a" stroke-width="1.1" fill="none"/><path d="M310.43 350.41L313.83 353.81M313.83 350.41L310.43 353.81" stroke="#d4a52a" stroke-width="1.1" fill="none"/><path d="M333.75 357.38L337.15 360.78M337.15 357.38L333.75 360.78" stroke="#d4a52a" stroke-width="1.1" fill="none"/><path d="M357.08 365.38L360.48 368.78M360.48 365.38L357.08 368.78" stroke="#d4a52a" stroke-width="1.1" fill="none"/><path d="M380.40 390.28L383.80 393.68M383.80 390.28L380.40 393.68" stroke="#d4a52a" stroke-width="1.1" fill="none"/><path d="M263.38 345.33L267.58 348.90M267.58 345.33L263.38 348.90M263.38 345.33H267.58M263.38 348.90H267.58" stroke="#3a5aa8" stroke-width="0.8" fill="none"/><path d="M286.70 350.00L290.90 353.57M290.90 350.00L286.70 353.57M286.70 350.00H290.90M286.70 353.57H290.90" stroke="#3a5aa8" stroke-width="0.8" fill="none"/><path d="M310.03 355.78L314.23 359.35M314.23 355.78L310.03 359.35M310.03 355.78H314.23M310.03 359.35H314.23" stroke="#3a5aa8" stroke-width="0.8" fill="none"/><path d="M333.35 361.80L337.55 365.37M337.55 361.80L333.35 365.37M333.35 361.80H337.55M333.35 365.37H337.55" stroke="#3a5aa8" stroke-width="0.8" fill="none"/><path d="M356.68 368.71L360.88 372.28M360.88 368.71L356.68 372.28M356.68 368.71H360.88M356.68 372.28H360.88" stroke="#3a5aa8" stroke-width="0.8" fill="none"/><path d="M380.00 390.20L384.20 393.77M384.20 390.20L380.00 393.77M380.00 390.20H384.20M380.00 393.77H384.20" stroke="#3a5aa8" stroke-width="0.8" fill="none"/><circle cx="265.48" cy="354.23" r="2.00" fill="#5b8a2a"/><circle cx="288.80" cy="358.16" r="2.00" fill="#5b8a2a"/><circle cx="312.13" cy="363.03" r="2.00" fill="#5b8a2a"/><circle cx="335.45" cy="368.09" r="2.00" fill="#5b8a2a"/><circle cx="358.78" cy="373.90" r="2.00" fill="#5b8a2a"/><circle cx="382.10" cy="391.98" r="2.00" fill="#5b8a2a"/><path d="M263.58 361.35H267.38M265.48 359.45V363.25" stroke="#6f95d6" stroke-width="1" fill="none"/><path d="M286.90 364.54H290.70M288.80 362.64V366.44" stroke="#6f95d6" stroke-width="1" fill="none"/><path d="M310.23 368.49H314.03M312.13 366.59V370.39" stroke="#6f95d6" stroke-width="1" fill="none"/><path d="M333.55 372.59H337.35M335.45 370.69V374.49" stroke="#6f95d6" stroke-width="1" fill="none"/><path d="M356.88 377.31H360.68M358.78 375.41V379.21" stroke="#6f95d6" stroke-width="1" fill="none"/><path d="M380.20 391.98H384.00M382.10 390.08V393.88" stroke="#6f95d6" stroke-width="1" fill="none"/><path d="M264.18 368.47H266.78" stroke="#e0702a" stroke-width="1.2" fill="none"/><path d="M287.50 370.91H290.10" stroke="#e0702a" stroke-width="1.2" fill="none"/><path d="M310.83 373.95H313.43" stroke="#e0702a" stroke-width="1.2" fill="none"/><path d="M334.15 377.10H336.75" stroke="#e0702a" stroke-width="1.2" fill="none"/><path d="M357.48 380.72H360.08" stroke="#e0702a" stroke-width="1.2" fill="none"/><path d="M380.80 391.98H383.40" stroke="#e0702a" stroke-width="1.2" fill="none"/><path d="M263.68 375.58H267.28" stroke="#a8a8a8" stroke-width="1.2" fill="none"/><path d="M287.00 377.29H290.60" stroke="#a8a8a8" stroke-width="1.2" fill="none"/><path d="M310.33 379.41H313.93" stroke="#a8a8a8" stroke-width="1.2" fill="none"/><path d="M333.65 381.60H337.25" stroke="#a8a8a8" stroke-width="1.2" fill="none"/><path d="M356.98 384.13H360.58" stroke="#a8a8a8" stroke-width="1.2" fill="none"/><path d="M380.30 391.98H383.90" stroke="#a8a8a8" stroke-width="1.2" fill="none"/><path d="M265.48 380.90L267.28 382.70L265.48 384.50L263.68 382.70Z" fill="#eaa820"/><path d="M288.80 381.87L290.60 383.67L288.80 385.47L287.00 383.67Z" fill="#eaa820"/><path d="M312.13 383.06L313.93 384.86L312.13 386.66L310.33 384.86Z" fill="#eaa820"/><path d="M335.45 384.31L337.25 386.11L335.45 387.91L333.65 386.11Z" fill="#eaa820"/><path d="M358.78 385.74L360.58 387.54L358.78 389.34L356.98 387.54Z" fill="#eaa820"/><path d="M382.10 390.18L383.90 391.98L382.10 393.78L380.30 391.98Z" fill="#eaa820"/><rect x="263.38" y="386.85" width="4.20" height="4.20" fill="#3d64b0"/><rect x="286.70" y="387.17" width="4.20" height="4.20" fill="#3d64b0"/><rect x="310.03" y="387.56" width="4.20" height="4.20" fill="#3d64b0"/><rect x="333.35" y="387.97" width="4.20" height="4.20" fill="#3d64b0"/><rect x="356.68" y="388.43" width="4.20" height="4.20" fill="#3d64b0"/><rect x="380.00" y="389.88" width="4.20" height="4.20" fill="#3d64b0"/><path d="M265.48 389.88L267.58 393.66L263.38 393.66Z" fill="#5c9a3a"/><path d="M288.80 389.88L290.90 393.66L286.70 393.66Z" fill="#5c9a3a"/><path d="M312.13 389.88L314.23 393.66L310.03 393.66Z" fill="#5c9a3a"/><path d="M335.45 389.88L337.55 393.66L333.35 393.66Z" fill="#5c9a3a"/><path d="M358.78 389.88L360.88 393.66L356.68 393.66Z" fill="#5c9a3a"/><path d="M382.10 389.88L384.20 393.66L380.00 393.66Z" fill="#5c9a3a"/><path d="M263.58 390.34L267.38 394.14M267.38 390.34L263.58 394.14" stroke="#9ab8e0" stroke-width="1.1" fill="none"/><path d="M286.90 390.29L290.70 394.09M290.70 390.29L286.90 394.09" stroke="#9ab8e0" stroke-width="1.1" fill="none"/><path d="M310.23 390.24L314.03 394.04M314.03 390.24L310.23 394.04" stroke="#9ab8e0" stroke-width="1.1" fill="none"/><path d="M333.55 390.19L337.35 393.99M337.35 390.19L333.55 393.99" stroke="#9ab8e0" stroke-width="1.1" fill="none"/><path d="M356.88 390.14L360.68 393.94M360.68 390.14L356.88 393.94" stroke="#9ab8e0" stroke-width="1.1" fill="none"/><path d="M380.20 390.08L384.00 393.88M384.00 390.08L380.20 393.88" stroke="#9ab8e0" stroke-width="1.1" fill="none"/><path d="M263.58 390.60L267.38 394.40M267.38 390.60L263.58 394.40" stroke="#e8907a" stroke-width="1.1" fill="none"/><path d="M286.90 390.50L290.70 394.30M290.70 390.50L286.90 394.30" stroke="#e8907a" stroke-width="1.1" fill="none"/><path d="M310.23 390.40L314.03 394.20M314.03 390.40L310.23 394.20" stroke="#e8907a" stroke-width="1.1" fill="none"/><path d="M333.55 390.29L337.35 394.09M337.35 390.29L333.55 394.09" stroke="#e8907a" stroke-width="1.1" fill="none"/><path d="M356.88 390.19L360.68 393.99M360.68 390.19L356.88 393.99" stroke="#e8907a" stroke-width="1.1" fill="none"/><path d="M380.20 390.08L384.00 393.88M384.00 390.08L380.20 393.88" stroke="#e8907a" stroke-width="1.1" fill="none"/><circle cx="265.48" cy="392.76" r="2.10" fill="#b8b8b8"/><circle cx="288.80" cy="392.61" r="2.10" fill="#b8b8b8"/><circle cx="312.13" cy="392.45" r="2.10" fill="#b8b8b8"/><circle cx="335.45" cy="392.30" r="2.10" fill="#b8b8b8"/><circle cx="358.78" cy="392.14" r="2.10" fill="#b8b8b8"/><circle cx="382.10" cy="391.98" r="2.10" fill="#b8b8b8"/><path d="M263.68 393.02H267.28M265.48 391.22V394.82" stroke="#f7cc8a" stroke-width="1" fill="none"/><path d="M287.00 392.81H290.60M288.80 391.01V394.61" stroke="#f7cc8a" stroke-width="1" fill="none"/><path d="M310.33 392.61H313.93M312.13 390.81V394.41" stroke="#f7cc8a" stroke-width="1" fill="none"/><path d="M333.65 392.40H337.25M335.45 390.60V394.20" stroke="#f7cc8a" stroke-width="1" fill="none"/><path d="M356.98 392.19H360.58M358.78 390.39V393.99" stroke="#f7cc8a" stroke-width="1" fill="none"/><path d="M380.30 391.98H383.90M382.10 390.18V393.78" stroke="#f7cc8a" stroke-width="1" fill="none"/><path d="M264.28 393.28H266.68" stroke="#5a7ec8" stroke-width="1.2" fill="none"/><path d="M287.60 393.02H290.00" stroke="#5a7ec8" stroke-width="1.2" fill="none"/><path d="M310.93 392.76H313.33" stroke="#5a7ec8" stroke-width="1.2" fill="none"/><path d="M334.25 392.50H336.65" stroke="#5a7ec8" stroke-width="1.2" fill="none"/><path d="M357.58 392.24H359.98" stroke="#5a7ec8" stroke-width="1.2" fill="none"/><path d="M380.90 391.98H383.30" stroke="#5a7ec8" stroke-width="1.2" fill="none"/><path d="M263.68 393.54H267.28" stroke="#8cc070" stroke-width="1.2" fill="none"/><path d="M287.00 393.23H290.60" stroke="#8cc070" stroke-width="1.2" fill="none"/><path d="M310.33 392.92H313.93" stroke="#8cc070" stroke-width="1.2" fill="none"/><path d="M333.65 392.61H337.25" stroke="#8cc070" stroke-width="1.2" fill="none"/><path d="M356.98 392.30H360.58" stroke="#8cc070" stroke-width="1.2" fill="none"/><path d="M380.30 391.98H383.90" stroke="#8cc070" stroke-width="1.2" fill="none"/><path d="M265.48 392.00L267.28 393.80L265.48 395.60L263.68 393.80Z" fill="#aabfe6"/><path d="M288.80 391.64L290.60 393.44L288.80 395.24L287.00 393.44Z" fill="#aabfe6"/><path d="M312.13 391.27L313.93 393.07L312.13 394.87L310.33 393.07Z" fill="#aabfe6"/><path d="M335.45 390.91L337.25 392.71L335.45 394.51L333.65 392.71Z" fill="#aabfe6"/><path d="M358.78 390.55L360.58 392.35L358.78 394.15L356.98 392.35Z" fill="#aabfe6"/><path d="M382.10 390.18L383.90 391.98L382.10 393.78L380.30 391.98Z" fill="#aabfe6"/><rect x="263.38" y="391.96" width="4.20" height="4.20" fill="#f0b8a8"/><rect x="286.70" y="391.55" width="4.20" height="4.20" fill="#f0b8a8"/><rect x="310.03" y="391.13" width="4.20" height="4.20" fill="#f0b8a8"/><rect x="333.35" y="390.71" width="4.20" height="4.20" fill="#f0b8a8"/><rect x="356.68" y="390.30" width="4.20" height="4.20" fill="#f0b8a8"/><rect x="380.00" y="389.88" width="4.20" height="4.20" fill="#f0b8a8"/><path d="M265.48 392.22L267.58 396.00L263.38 396.00Z" fill="#d6d6d6"/><path d="M288.80 391.75L290.90 395.53L286.70 395.53Z" fill="#d6d6d6"/><path d="M312.13 391.29L314.23 395.07L310.03 395.07Z" fill="#d6d6d6"/><path d="M335.45 390.82L337.55 394.60L333.35 394.60Z" fill="#d6d6d6"/><path d="M358.78 390.35L360.88 394.13L356.68 394.13Z" fill="#d6d6d6"/><path d="M382.10 389.88L384.20 393.66L380.00 393.66Z" fill="#d6d6d6"/></g>
<path d="M265.48 312.40L382.10 379.29M265.48 320.12L382.10 380.52M265.48 327.84L382.10 381.75M265.48 335.57L382.10 382.99M265.48 343.29L382.10 384.22M265.48 351.02L382.10 385.45M265.48 358.74L382.10 386.68M265.48 366.46L382.10 387.91M265.48 374.19L382.10 389.14M265.48 381.91L382.10 390.38M265.48 388.69L382.10 391.46M265.48 391.98L382.10 391.98" stroke="#000" stroke-width="0.85" fill="none"/>
<path d="M265.48 392.24L382.10 391.98M265.48 392.50L382.10 391.98M265.48 392.76L382.10 391.98M265.48 393.02L382.10 391.98M265.48 393.28L382.10 391.98M265.48 393.54L382.10 391.98M265.48 393.80L382.10 391.98M265.48 394.06L382.10 391.98M265.48 394.32L382.10 391.98" stroke="#000" stroke-width="0.75" fill="none"/>
<path d="M247.50 304.90V409.30H382.60" stroke="#7a7a7a" stroke-width="1.2" fill="none"/>
<path d="M247.50 305.40h2.2M247.50 322.72h2.2M247.50 340.03h2.2M247.50 357.35h2.2M247.50 374.67h2.2M247.50 391.98h2.2M247.50 409.30h2.2M247.50 409.30v-2.2M281.15 409.30v-2.2M314.80 409.30v-2.2M348.45 409.30v-2.2M382.10 409.30v-2.2" stroke="#333" stroke-width="0.9" fill="none"/>
<g font-size="9.3" fill="#000" stroke="#000" stroke-width="0.2"><text transform="translate(244.90 309.00) scale(0.93 1.0)" font-size="10.0" text-anchor="end">100</text><text transform="translate(244.90 326.32) scale(0.93 1.0)" font-size="10.0" text-anchor="end">80</text><text transform="translate(244.90 343.63) scale(0.93 1.0)" font-size="10.0" text-anchor="end">60</text><text transform="translate(244.90 360.95) scale(0.93 1.0)" font-size="10.0" text-anchor="end">40</text><text transform="translate(244.90 378.27) scale(0.93 1.0)" font-size="10.0" text-anchor="end">20</text><text transform="translate(244.90 395.58) scale(0.93 1.0)" font-size="10.0" text-anchor="end">0</text><text transform="translate(244.90 412.90) scale(0.93 1.0)" font-size="10.0" text-anchor="end"><tspan fill="#888" stroke="none">−</tspan>20</text><text transform="translate(247.50 419.90) scale(0.93 1.0)" font-size="10.0" text-anchor="middle"><tspan fill="#888" stroke="none">−</tspan>4</text><text transform="translate(281.15 419.90) scale(0.93 1.0)" font-size="10.0" text-anchor="middle"><tspan fill="#888" stroke="none">−</tspan>3</text><text transform="translate(314.80 419.90) scale(0.93 1.0)" font-size="10.0" text-anchor="middle"><tspan fill="#888" stroke="none">−</tspan>2</text><text transform="translate(348.45 419.90) scale(0.93 1.0)" font-size="10.0" text-anchor="middle"><tspan fill="#888" stroke="none">−</tspan>1</text><text transform="translate(382.10 419.90) scale(0.93 1.0)" font-size="10.0" text-anchor="middle">0</text></g>
<text x="313.45" y="430.70" font-size="9.3" text-anchor="middle" fill="#000" stroke="#000" stroke-width="0.12">lnε</text>
<text transform="translate(228.00 357.35) rotate(-90)" font-size="9.8" text-anchor="middle" fill="#000" stroke="#000" stroke-width="0.18">ln <tspan font-style="italic">u</tspan>(<tspan font-style="italic">q</tspan>,<tspan font-style="italic">ε</tspan>)</text>
<rect x="386.60" y="303.70" width="46.20" height="107.30" fill="#fff" stroke="#555" stroke-width="1"/>
<g><rect x="389.50" y="317.00" width="4.60" height="4.60" fill="#999999"/><path d="M415.50 317.40L417.40 319.30L415.50 321.20L413.60 319.30Z" fill="#4a70b8"/><rect x="389.70" y="325.65" width="4.20" height="4.20" fill="#c0621c"/><path d="M413.80 326.05L417.20 329.45M417.20 326.05L413.80 329.45" stroke="#d4a52a" stroke-width="1.1" fill="none"/><path d="M389.70 334.41L393.90 337.99M393.90 334.41L389.70 337.99M389.70 334.41H393.90M389.70 337.99H393.90" stroke="#3a5aa8" stroke-width="0.8" fill="none"/><circle cx="415.50" cy="336.20" r="2.00" fill="#5b8a2a"/><path d="M389.90 344.65H393.70M391.80 342.75V346.55" stroke="#6f95d6" stroke-width="1" fill="none"/><path d="M414.20 344.65H416.80" stroke="#e0702a" stroke-width="1.2" fill="none"/><path d="M390.00 353.10H393.60" stroke="#a8a8a8" stroke-width="1.2" fill="none"/><path d="M415.50 351.30L417.30 353.10L415.50 354.90L413.70 353.10Z" fill="#eaa820"/><rect x="389.70" y="359.45" width="4.20" height="4.20" fill="#3d64b0"/><path d="M415.50 359.45L417.60 363.23L413.40 363.23Z" fill="#5c9a3a"/><path d="M389.90 368.10L393.70 371.90M393.70 368.10L389.90 371.90" stroke="#9ab8e0" stroke-width="1.1" fill="none"/><path d="M413.60 368.10L417.40 371.90M417.40 368.10L413.60 371.90" stroke="#e8907a" stroke-width="1.1" fill="none"/><circle cx="391.80" cy="378.45" r="2.10" fill="#b8b8b8"/><path d="M413.70 378.45H417.30M415.50 376.65V380.25" stroke="#f7cc8a" stroke-width="1" fill="none"/><path d="M390.60 386.90H393.00" stroke="#5a7ec8" stroke-width="1.2" fill="none"/><path d="M413.70 386.90H417.30" stroke="#8cc070" stroke-width="1.2" fill="none"/><path d="M391.80 393.55L393.60 395.35L391.80 397.15L390.00 395.35Z" fill="#aabfe6"/><rect x="413.40" y="393.25" width="4.20" height="4.20" fill="#f0b8a8"/><path d="M391.80 401.70L393.90 405.48L389.70 405.48Z" fill="#d6d6d6"/></g>
<g font-size="9.3" fill="#000" stroke="#000" stroke-width="0.2"><text x="409.70" y="311.00" font-size="9.8" text-anchor="middle"><tspan font-style="italic">q</tspan>:</text><text transform="translate(396.10 322.90) scale(0.93 1.0)" font-size="10.0"><tspan fill="#888" stroke="none">−</tspan>10</text><text transform="translate(419.80 322.90) scale(0.93 1.0)" font-size="10.0"><tspan fill="#888" stroke="none">−</tspan>9</text><text transform="translate(396.10 331.35) scale(0.93 1.0)" font-size="10.0"><tspan fill="#888" stroke="none">−</tspan>8</text><text transform="translate(419.80 331.35) scale(0.93 1.0)" font-size="10.0"><tspan fill="#888" stroke="none">−</tspan>7</text><text transform="translate(396.10 339.80) scale(0.93 1.0)" font-size="10.0"><tspan fill="#888" stroke="none">−</tspan>6</text><text transform="translate(419.80 339.80) scale(0.93 1.0)" font-size="10.0"><tspan fill="#888" stroke="none">−</tspan>5</text><text transform="translate(396.10 348.25) scale(0.93 1.0)" font-size="10.0"><tspan fill="#888" stroke="none">−</tspan>4</text><text transform="translate(419.80 348.25) scale(0.93 1.0)" font-size="10.0"><tspan fill="#888" stroke="none">−</tspan>3</text><text transform="translate(396.10 356.70) scale(0.93 1.0)" font-size="10.0"><tspan fill="#888" stroke="none">−</tspan>2</text><text transform="translate(419.80 356.70) scale(0.93 1.0)" font-size="10.0"><tspan fill="#888" stroke="none">−</tspan>1</text><text transform="translate(396.10 365.15) scale(0.93 1.0)" font-size="10.0">0</text><text transform="translate(419.80 365.15) scale(0.93 1.0)" font-size="10.0">1</text><text transform="translate(396.10 373.60) scale(0.93 1.0)" font-size="10.0">2</text><text transform="translate(419.80 373.60) scale(0.93 1.0)" font-size="10.0">3</text><text transform="translate(396.10 382.05) scale(0.93 1.0)" font-size="10.0">4</text><text transform="translate(419.80 382.05) scale(0.93 1.0)" font-size="10.0">5</text><text transform="translate(396.10 390.50) scale(0.93 1.0)" font-size="10.0">6</text><text transform="translate(419.80 390.50) scale(0.93 1.0)" font-size="10.0">7</text><text transform="translate(396.10 398.95) scale(0.93 1.0)" font-size="10.0">8</text><text transform="translate(419.80 398.95) scale(0.93 1.0)" font-size="10.0">9</text><text transform="translate(396.10 407.40) scale(0.93 1.0)" font-size="10.0">10</text></g>
<text x="313.20" y="443.10" font-size="9.8" text-anchor="middle" fill="#000" stroke="#000" stroke-width="0.12">(h) Sample 3, after sulfur injection</text>
<g><rect x="476.92" y="322.18" width="4.60" height="4.60" fill="#999999"/><rect x="501.08" y="329.87" width="4.60" height="4.60" fill="#999999"/><rect x="525.23" y="339.79" width="4.60" height="4.60" fill="#999999"/><rect x="549.39" y="351.25" width="4.60" height="4.60" fill="#999999"/><rect x="573.54" y="365.51" width="4.60" height="4.60" fill="#999999"/><rect x="597.70" y="392.07" width="4.60" height="4.60" fill="#999999"/><path d="M479.22 329.33L481.12 331.23L479.22 333.13L477.32 331.23Z" fill="#4a70b8"/><path d="M503.38 336.28L505.28 338.18L503.38 340.08L501.48 338.18Z" fill="#4a70b8"/><path d="M527.53 345.24L529.43 347.14L527.53 349.04L525.63 347.14Z" fill="#4a70b8"/><path d="M551.69 355.60L553.59 357.50L551.69 359.40L549.79 357.50Z" fill="#4a70b8"/><path d="M575.84 368.48L577.74 370.38L575.84 372.28L573.94 370.38Z" fill="#4a70b8"/><path d="M600.00 392.47L601.90 394.37L600.00 396.27L598.10 394.37Z" fill="#4a70b8"/><rect x="477.12" y="335.88" width="4.20" height="4.20" fill="#c0621c"/><rect x="501.28" y="342.09" width="4.20" height="4.20" fill="#c0621c"/><rect x="525.43" y="350.09" width="4.20" height="4.20" fill="#c0621c"/><rect x="549.59" y="359.34" width="4.20" height="4.20" fill="#c0621c"/><rect x="573.74" y="370.84" width="4.20" height="4.20" fill="#c0621c"/><rect x="597.90" y="392.27" width="4.20" height="4.20" fill="#c0621c"/><path d="M477.52 343.04L480.92 346.44M480.92 343.04L477.52 346.44" stroke="#d4a52a" stroke-width="1.1" fill="none"/><path d="M501.68 348.50L505.08 351.90M505.08 348.50L501.68 351.90" stroke="#d4a52a" stroke-width="1.1" fill="none"/><path d="M525.83 355.54L529.23 358.94M529.23 355.54L525.83 358.94" stroke="#d4a52a" stroke-width="1.1" fill="none"/><path d="M549.99 363.68L553.39 367.08M553.39 363.68L549.99 367.08" stroke="#d4a52a" stroke-width="1.1" fill="none"/><path d="M574.14 373.81L577.54 377.21M577.54 373.81L574.14 377.21" stroke="#d4a52a" stroke-width="1.1" fill="none"/><path d="M598.30 392.67L601.70 396.07M601.70 392.67L598.30 396.07" stroke="#d4a52a" stroke-width="1.1" fill="none"/><path d="M477.12 349.70L481.32 353.27M481.32 349.70L477.12 353.27M477.12 349.70H481.32M477.12 353.27H481.32" stroke="#3a5aa8" stroke-width="0.8" fill="none"/><path d="M501.28 354.42L505.48 357.99M505.48 354.42L501.28 357.99M501.28 354.42H505.48M501.28 357.99H505.48" stroke="#3a5aa8" stroke-width="0.8" fill="none"/><path d="M525.43 360.51L529.63 364.08M529.63 360.51L525.43 364.08M525.43 360.51H529.63M525.43 364.08H529.63" stroke="#3a5aa8" stroke-width="0.8" fill="none"/><path d="M549.59 367.54L553.79 371.11M553.79 367.54L549.59 371.11M549.59 367.54H553.79M549.59 371.11H553.79" stroke="#3a5aa8" stroke-width="0.8" fill="none"/><path d="M573.74 376.29L577.94 379.86M577.94 376.29L573.74 379.86M573.74 376.29H577.94M573.74 379.86H577.94" stroke="#3a5aa8" stroke-width="0.8" fill="none"/><path d="M597.90 392.59L602.10 396.16M602.10 392.59L597.90 396.16M597.90 392.59H602.10M597.90 396.16H602.10" stroke="#3a5aa8" stroke-width="0.8" fill="none"/><circle cx="479.22" cy="358.24" r="2.00" fill="#5b8a2a"/><circle cx="503.38" cy="362.21" r="2.00" fill="#5b8a2a"/><circle cx="527.53" cy="367.34" r="2.00" fill="#5b8a2a"/><circle cx="551.69" cy="373.27" r="2.00" fill="#5b8a2a"/><circle cx="575.84" cy="380.64" r="2.00" fill="#5b8a2a"/><circle cx="600.00" cy="394.37" r="2.00" fill="#5b8a2a"/><path d="M477.32 364.99H481.12M479.22 363.09V366.89" stroke="#6f95d6" stroke-width="1" fill="none"/><path d="M501.48 368.22H505.28M503.38 366.32V370.12" stroke="#6f95d6" stroke-width="1" fill="none"/><path d="M525.63 372.39H529.43M527.53 370.49V374.29" stroke="#6f95d6" stroke-width="1" fill="none"/><path d="M549.79 377.21H553.59M551.69 375.31V379.11" stroke="#6f95d6" stroke-width="1" fill="none"/><path d="M573.94 383.21H577.74M575.84 381.31V385.11" stroke="#6f95d6" stroke-width="1" fill="none"/><path d="M598.10 394.37H601.90M600.00 392.47V396.27" stroke="#6f95d6" stroke-width="1" fill="none"/><path d="M477.92 371.74H480.52" stroke="#e0702a" stroke-width="1.2" fill="none"/><path d="M502.08 374.23H504.68" stroke="#e0702a" stroke-width="1.2" fill="none"/><path d="M526.23 377.45H528.83" stroke="#e0702a" stroke-width="1.2" fill="none"/><path d="M550.39 381.16H552.99" stroke="#e0702a" stroke-width="1.2" fill="none"/><path d="M574.54 385.77H577.14" stroke="#e0702a" stroke-width="1.2" fill="none"/><path d="M598.70 394.37H601.30" stroke="#e0702a" stroke-width="1.2" fill="none"/><path d="M477.42 378.49H481.02" stroke="#a8a8a8" stroke-width="1.2" fill="none"/><path d="M501.58 380.24H505.18" stroke="#a8a8a8" stroke-width="1.2" fill="none"/><path d="M525.73 382.50H529.33" stroke="#a8a8a8" stroke-width="1.2" fill="none"/><path d="M549.89 385.10H553.49" stroke="#a8a8a8" stroke-width="1.2" fill="none"/><path d="M574.04 388.34H577.64" stroke="#a8a8a8" stroke-width="1.2" fill="none"/><path d="M598.20 394.37H601.80" stroke="#a8a8a8" stroke-width="1.2" fill="none"/><path d="M479.22 383.45L481.02 385.25L479.22 387.05L477.42 385.25Z" fill="#eaa820"/><path d="M503.38 384.45L505.18 386.25L503.38 388.05L501.58 386.25Z" fill="#eaa820"/><path d="M527.53 385.75L529.33 387.55L527.53 389.35L525.73 387.55Z" fill="#eaa820"/><path d="M551.69 387.24L553.49 389.04L551.69 390.84L549.89 389.04Z" fill="#eaa820"/><path d="M575.84 389.10L577.64 390.90L575.84 392.70L574.04 390.90Z" fill="#eaa820"/><path d="M600.00 392.57L601.80 394.37L600.00 396.17L598.20 394.37Z" fill="#eaa820"/><rect x="477.12" y="388.71" width="4.20" height="4.20" fill="#3d64b0"/><rect x="501.28" y="389.10" width="4.20" height="4.20" fill="#3d64b0"/><rect x="525.43" y="389.61" width="4.20" height="4.20" fill="#3d64b0"/><rect x="549.59" y="390.19" width="4.20" height="4.20" fill="#3d64b0"/><rect x="573.74" y="390.92" width="4.20" height="4.20" fill="#3d64b0"/><rect x="597.90" y="392.27" width="4.20" height="4.20" fill="#3d64b0"/><path d="M479.22 392.27L481.32 396.05L477.12 396.05Z" fill="#5c9a3a"/><path d="M503.38 392.27L505.48 396.05L501.28 396.05Z" fill="#5c9a3a"/><path d="M527.53 392.27L529.63 396.05L525.43 396.05Z" fill="#5c9a3a"/><path d="M551.69 392.27L553.79 396.05L549.59 396.05Z" fill="#5c9a3a"/><path d="M575.84 392.27L577.94 396.05L573.74 396.05Z" fill="#5c9a3a"/><path d="M600.00 392.27L602.10 396.05L597.90 396.05Z" fill="#5c9a3a"/><path d="M477.32 393.51L481.12 397.31M481.12 393.51L477.32 397.31" stroke="#9ab8e0" stroke-width="1.1" fill="none"/><path d="M501.48 393.31L505.28 397.11M505.28 393.31L501.48 397.11" stroke="#9ab8e0" stroke-width="1.1" fill="none"/><path d="M525.63 393.05L529.43 396.85M529.43 393.05L525.63 396.85" stroke="#9ab8e0" stroke-width="1.1" fill="none"/><path d="M549.79 392.78L553.59 396.58M553.59 392.78L549.79 396.58" stroke="#9ab8e0" stroke-width="1.1" fill="none"/><path d="M573.94 392.60L577.74 396.40M577.74 392.60L573.94 396.40" stroke="#9ab8e0" stroke-width="1.1" fill="none"/><path d="M598.10 392.47L601.90 396.27M601.90 392.47L598.10 396.27" stroke="#9ab8e0" stroke-width="1.1" fill="none"/><path d="M477.32 394.56L481.12 398.36M481.12 394.56L477.32 398.36" stroke="#e8907a" stroke-width="1.1" fill="none"/><path d="M501.48 394.14L505.28 397.94M505.28 394.14L501.48 397.94" stroke="#e8907a" stroke-width="1.1" fill="none"/><path d="M525.63 393.62L529.43 397.42M529.43 393.62L525.63 397.42" stroke="#e8907a" stroke-width="1.1" fill="none"/><path d="M549.79 393.10L553.59 396.90M553.59 393.10L549.79 396.90" stroke="#e8907a" stroke-width="1.1" fill="none"/><path d="M573.94 392.72L577.74 396.52M577.74 392.72L573.94 396.52" stroke="#e8907a" stroke-width="1.1" fill="none"/><path d="M598.10 392.47L601.90 396.27M601.90 392.47L598.10 396.27" stroke="#e8907a" stroke-width="1.1" fill="none"/><circle cx="479.22" cy="397.50" r="2.10" fill="#b8b8b8"/><circle cx="503.38" cy="396.88" r="2.10" fill="#b8b8b8"/><circle cx="527.53" cy="396.09" r="2.10" fill="#b8b8b8"/><circle cx="551.69" cy="395.31" r="2.10" fill="#b8b8b8"/><circle cx="575.84" cy="394.75" r="2.10" fill="#b8b8b8"/><circle cx="600.00" cy="394.37" r="2.10" fill="#b8b8b8"/><path d="M477.42 398.55H481.02M479.22 396.75V400.35" stroke="#f7cc8a" stroke-width="1" fill="none"/><path d="M501.58 397.71H505.18M503.38 395.91V399.51" stroke="#f7cc8a" stroke-width="1" fill="none"/><path d="M525.73 396.67H529.33M527.53 394.87V398.47" stroke="#f7cc8a" stroke-width="1" fill="none"/><path d="M549.89 395.62H553.49M551.69 393.82V397.42" stroke="#f7cc8a" stroke-width="1" fill="none"/><path d="M574.04 394.87H577.64M575.84 393.07V396.67" stroke="#f7cc8a" stroke-width="1" fill="none"/><path d="M598.20 394.37H601.80M600.00 392.57V396.17" stroke="#f7cc8a" stroke-width="1" fill="none"/><path d="M478.02 399.59H480.42" stroke="#5a7ec8" stroke-width="1.2" fill="none"/><path d="M502.18 398.55H504.58" stroke="#5a7ec8" stroke-width="1.2" fill="none"/><path d="M526.33 397.24H528.73" stroke="#5a7ec8" stroke-width="1.2" fill="none"/><path d="M550.49 395.94H552.89" stroke="#5a7ec8" stroke-width="1.2" fill="none"/><path d="M574.64 395.00H577.04" stroke="#5a7ec8" stroke-width="1.2" fill="none"/><path d="M598.80 394.37H601.20" stroke="#5a7ec8" stroke-width="1.2" fill="none"/><path d="M477.42 400.63H481.02" stroke="#8cc070" stroke-width="1.2" fill="none"/><path d="M501.58 399.38H505.18" stroke="#8cc070" stroke-width="1.2" fill="none"/><path d="M525.73 397.81H529.33" stroke="#8cc070" stroke-width="1.2" fill="none"/><path d="M549.89 396.25H553.49" stroke="#8cc070" stroke-width="1.2" fill="none"/><path d="M574.04 395.12H577.64" stroke="#8cc070" stroke-width="1.2" fill="none"/><path d="M598.20 394.37H601.80" stroke="#8cc070" stroke-width="1.2" fill="none"/><path d="M479.22 399.88L481.02 401.68L479.22 403.48L477.42 401.68Z" fill="#aabfe6"/><path d="M503.38 398.41L505.18 400.21L503.38 402.01L501.58 400.21Z" fill="#aabfe6"/><path d="M527.53 396.59L529.33 398.39L527.53 400.19L525.73 398.39Z" fill="#aabfe6"/><path d="M551.69 394.76L553.49 396.56L551.69 398.36L549.89 396.56Z" fill="#aabfe6"/><path d="M575.84 393.45L577.64 395.25L575.84 397.05L574.04 395.25Z" fill="#aabfe6"/><path d="M600.00 392.57L601.80 394.37L600.00 396.17L598.20 394.37Z" fill="#aabfe6"/><rect x="477.12" y="400.62" width="4.20" height="4.20" fill="#f0b8a8"/><rect x="501.28" y="398.95" width="4.20" height="4.20" fill="#f0b8a8"/><rect x="525.43" y="396.86" width="4.20" height="4.20" fill="#f0b8a8"/><rect x="549.59" y="394.78" width="4.20" height="4.20" fill="#f0b8a8"/><rect x="573.74" y="393.27" width="4.20" height="4.20" fill="#f0b8a8"/><rect x="597.90" y="392.27" width="4.20" height="4.20" fill="#f0b8a8"/><path d="M479.22 401.66L481.32 405.44L477.12 405.44Z" fill="#d6d6d6"/><path d="M503.38 399.78L505.48 403.56L501.28 403.56Z" fill="#d6d6d6"/><path d="M527.53 397.44L529.63 401.22L525.43 401.22Z" fill="#d6d6d6"/><path d="M551.69 395.09L553.79 398.87L549.59 398.87Z" fill="#d6d6d6"/><path d="M575.84 393.40L577.94 397.18L573.74 397.18Z" fill="#d6d6d6"/><path d="M600.00 392.27L602.10 396.05L597.90 396.05Z" fill="#d6d6d6"/></g>
<path d="M479.22 318.99L600.00 385.83M479.22 326.28L600.00 386.66M479.22 333.56L600.00 387.48M479.22 340.84L600.00 388.31M479.22 348.12L600.00 389.13M479.22 355.40L600.00 389.96M479.22 362.69L600.00 390.78M479.22 369.97L600.00 391.61M479.22 377.25L600.00 392.43M479.22 384.53L600.00 393.26M479.22 390.53L600.00 393.94M479.22 394.37L600.00 394.37" stroke="#000" stroke-width="0.85" fill="none"/>
<path d="M479.22 395.40L600.00 394.31M479.22 396.42L600.00 394.25M479.22 397.45L600.00 394.19M479.22 398.47L600.00 394.12M479.22 399.50L600.00 394.06M479.22 400.52L600.00 394.00M479.22 401.55L600.00 393.94M479.22 402.57L600.00 393.88M479.22 403.60L600.00 393.82" stroke="#000" stroke-width="0.75" fill="none"/>
<path d="M460.60 304.90V409.20H600.50" stroke="#2a2a2a" stroke-width="1.2" fill="none"/>
<path d="M460.60 305.40h2.2M460.60 320.23h2.2M460.60 335.06h2.2M460.60 349.89h2.2M460.60 364.71h2.2M460.60 379.54h2.2M460.60 394.37h2.2M460.60 409.20h2.2M460.60 409.20v-2.2M495.45 409.20v-2.2M530.30 409.20v-2.2M565.15 409.20v-2.2M600.00 409.20v-2.2" stroke="#333" stroke-width="0.9" fill="none"/>
<g font-size="9.3" fill="#000" stroke="#000" stroke-width="0.2"><text transform="translate(458.00 309.00) scale(0.93 1.0)" font-size="10.0" text-anchor="end">90</text><text transform="translate(458.00 323.83) scale(0.93 1.0)" font-size="10.0" text-anchor="end">75</text><text transform="translate(458.00 338.66) scale(0.93 1.0)" font-size="10.0" text-anchor="end">60</text><text transform="translate(458.00 353.49) scale(0.93 1.0)" font-size="10.0" text-anchor="end">45</text><text transform="translate(458.00 368.31) scale(0.93 1.0)" font-size="10.0" text-anchor="end">30</text><text transform="translate(458.00 383.14) scale(0.93 1.0)" font-size="10.0" text-anchor="end">15</text><text transform="translate(458.00 397.97) scale(0.93 1.0)" font-size="10.0" text-anchor="end">0</text><text transform="translate(458.00 412.80) scale(0.93 1.0)" font-size="10.0" text-anchor="end"><tspan fill="#888" stroke="none">−</tspan>15</text><text transform="translate(460.60 419.80) scale(0.93 1.0)" font-size="10.0" text-anchor="middle"><tspan fill="#888" stroke="none">−</tspan>4</text><text transform="translate(495.45 419.80) scale(0.93 1.0)" font-size="10.0" text-anchor="middle"><tspan fill="#888" stroke="none">−</tspan>3</text><text transform="translate(530.30 419.80) scale(0.93 1.0)" font-size="10.0" text-anchor="middle"><tspan fill="#888" stroke="none">−</tspan>2</text><text transform="translate(565.15 419.80) scale(0.93 1.0)" font-size="10.0" text-anchor="middle"><tspan fill="#888" stroke="none">−</tspan>1</text><text transform="translate(600.00 419.80) scale(0.93 1.0)" font-size="10.0" text-anchor="middle">0</text></g>
<text x="529.85" y="430.60" font-size="9.3" text-anchor="middle" fill="#000" stroke="#000" stroke-width="0.12">lnε</text>
<text transform="translate(442.80 357.30) rotate(-90)" font-size="9.8" text-anchor="middle" fill="#000" stroke="#000" stroke-width="0.18">ln <tspan font-style="italic">u</tspan>(<tspan font-style="italic">q</tspan>,<tspan font-style="italic">ε</tspan>)</text>
<rect x="603.50" y="303.70" width="45.70" height="107.30" fill="#fff" stroke="#333" stroke-width="1"/>
<g><rect x="606.40" y="317.00" width="4.60" height="4.60" fill="#999999"/><path d="M632.40 317.40L634.30 319.30L632.40 321.20L630.50 319.30Z" fill="#4a70b8"/><rect x="606.60" y="325.65" width="4.20" height="4.20" fill="#c0621c"/><path d="M630.70 326.05L634.10 329.45M634.10 326.05L630.70 329.45" stroke="#d4a52a" stroke-width="1.1" fill="none"/><path d="M606.60 334.41L610.80 337.99M610.80 334.41L606.60 337.99M606.60 334.41H610.80M606.60 337.99H610.80" stroke="#3a5aa8" stroke-width="0.8" fill="none"/><circle cx="632.40" cy="336.20" r="2.00" fill="#5b8a2a"/><path d="M606.80 344.65H610.60M608.70 342.75V346.55" stroke="#6f95d6" stroke-width="1" fill="none"/><path d="M631.10 344.65H633.70" stroke="#e0702a" stroke-width="1.2" fill="none"/><path d="M606.90 353.10H610.50" stroke="#a8a8a8" stroke-width="1.2" fill="none"/><path d="M632.40 351.30L634.20 353.10L632.40 354.90L630.60 353.10Z" fill="#eaa820"/><rect x="606.60" y="359.45" width="4.20" height="4.20" fill="#3d64b0"/><path d="M632.40 359.45L634.50 363.23L630.30 363.23Z" fill="#5c9a3a"/><path d="M606.80 368.10L610.60 371.90M610.60 368.10L606.80 371.90" stroke="#9ab8e0" stroke-width="1.1" fill="none"/><path d="M630.50 368.10L634.30 371.90M634.30 368.10L630.50 371.90" stroke="#e8907a" stroke-width="1.1" fill="none"/><circle cx="608.70" cy="378.45" r="2.10" fill="#b8b8b8"/><path d="M630.60 378.45H634.20M632.40 376.65V380.25" stroke="#f7cc8a" stroke-width="1" fill="none"/><path d="M607.50 386.90H609.90" stroke="#5a7ec8" stroke-width="1.2" fill="none"/><path d="M630.60 386.90H634.20" stroke="#8cc070" stroke-width="1.2" fill="none"/><path d="M608.70 393.55L610.50 395.35L608.70 397.15L606.90 395.35Z" fill="#aabfe6"/><rect x="630.30" y="393.25" width="4.20" height="4.20" fill="#f0b8a8"/><path d="M608.70 401.70L610.80 405.48L606.60 405.48Z" fill="#d6d6d6"/></g>
<g font-size="9.3" fill="#000" stroke="#000" stroke-width="0.2"><text x="626.35" y="311.00" font-size="9.8" text-anchor="middle"><tspan font-style="italic">q</tspan>:</text><text transform="translate(613.00 322.90) scale(0.93 1.0)" font-size="10.0"><tspan fill="#888" stroke="none">−</tspan>10</text><text transform="translate(636.70 322.90) scale(0.93 1.0)" font-size="10.0"><tspan fill="#888" stroke="none">−</tspan>9</text><text transform="translate(613.00 331.35) scale(0.93 1.0)" font-size="10.0"><tspan fill="#888" stroke="none">−</tspan>8</text><text transform="translate(636.70 331.35) scale(0.93 1.0)" font-size="10.0"><tspan fill="#888" stroke="none">−</tspan>7</text><text transform="translate(613.00 339.80) scale(0.93 1.0)" font-size="10.0"><tspan fill="#888" stroke="none">−</tspan>6</text><text transform="translate(636.70 339.80) scale(0.93 1.0)" font-size="10.0"><tspan fill="#888" stroke="none">−</tspan>5</text><text transform="translate(613.00 348.25) scale(0.93 1.0)" font-size="10.0"><tspan fill="#888" stroke="none">−</tspan>4</text><text transform="translate(636.70 348.25) scale(0.93 1.0)" font-size="10.0"><tspan fill="#888" stroke="none">−</tspan>3</text><text transform="translate(613.00 356.70) scale(0.93 1.0)" font-size="10.0"><tspan fill="#888" stroke="none">−</tspan>2</text><text transform="translate(636.70 356.70) scale(0.93 1.0)" font-size="10.0"><tspan fill="#888" stroke="none">−</tspan>1</text><text transform="translate(613.00 365.15) scale(0.93 1.0)" font-size="10.0">0</text><text transform="translate(636.70 365.15) scale(0.93 1.0)" font-size="10.0">1</text><text transform="translate(613.00 373.60) scale(0.93 1.0)" font-size="10.0">2</text><text transform="translate(636.70 373.60) scale(0.93 1.0)" font-size="10.0">3</text><text transform="translate(613.00 382.05) scale(0.93 1.0)" font-size="10.0">4</text><text transform="translate(636.70 382.05) scale(0.93 1.0)" font-size="10.0">5</text><text transform="translate(613.00 390.50) scale(0.93 1.0)" font-size="10.0">6</text><text transform="translate(636.70 390.50) scale(0.93 1.0)" font-size="10.0">7</text><text transform="translate(613.00 398.95) scale(0.93 1.0)" font-size="10.0">8</text><text transform="translate(636.70 398.95) scale(0.93 1.0)" font-size="10.0">9</text><text transform="translate(613.00 407.40) scale(0.93 1.0)" font-size="10.0">10</text></g>
<text x="529.80" y="443.10" font-size="9.8" text-anchor="middle" fill="#000" stroke="#000" stroke-width="0.12">(i) Sample 3, after gas flooding</text>
</svg>
</body></html>
